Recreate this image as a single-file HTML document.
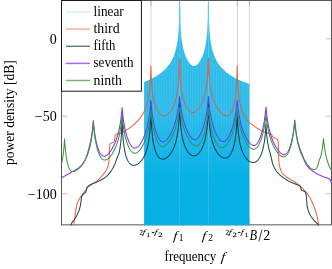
<!DOCTYPE html>
<html><head><meta charset="utf-8"><title>chart</title>
<style>
html,body{margin:0;padding:0;background:#fff;}
body{width:332px;height:269px;overflow:hidden;position:relative;font-family:"Liberation Serif",serif;color:#000;}
svg{position:absolute;left:0;top:0;will-change:transform;}
text{font-family:"Liberation Serif",serif;fill:#000;}
</style></head><body>
<svg width="332" height="269" viewBox="0 0 332 269">
<defs>
<clipPath id="plot"><rect x="61.5" y="0" width="270.5" height="225.4"/></clipPath>
<clipPath id="topred"><rect x="170" y="50" width="50" height="23"/></clipPath>
<clipPath id="band"><path d="M144.10,225.40 L144.10,82.01 L144.35,81.91 L144.60,81.81 L144.85,81.71 L145.10,81.61 L145.35,81.51 L145.60,81.41 L145.85,81.30 L146.10,81.20 L146.35,81.09 L146.60,80.99 L146.85,80.88 L147.10,80.77 L147.35,80.67 L147.60,80.56 L147.85,80.45 L148.10,80.33 L148.35,80.22 L148.60,80.11 L148.85,80.00 L149.10,79.88 L149.35,79.76 L149.60,79.65 L149.85,79.53 L150.10,79.41 L150.35,79.29 L150.60,79.17 L150.85,79.05 L151.10,78.92 L151.35,78.80 L151.60,78.67 L151.85,78.55 L152.10,78.42 L152.35,78.29 L152.60,78.16 L152.85,78.03 L153.10,77.89 L153.35,77.76 L153.60,77.62 L153.85,77.49 L154.10,77.35 L154.35,77.21 L154.60,77.07 L154.85,76.92 L155.10,76.78 L155.35,76.63 L155.60,76.49 L155.85,76.34 L156.10,76.19 L156.35,76.03 L156.60,75.88 L156.85,75.72 L157.10,75.57 L157.35,75.41 L157.60,75.24 L157.85,75.08 L158.10,74.91 L158.35,74.75 L158.60,74.58 L158.85,74.41 L159.10,74.23 L159.35,74.06 L159.60,73.88 L159.85,73.70 L160.10,73.51 L160.35,73.33 L160.60,73.14 L160.85,72.95 L161.10,72.76 L161.35,72.56 L161.60,72.36 L161.85,72.16 L162.10,71.96 L162.35,71.75 L162.60,71.54 L162.85,71.32 L163.10,71.11 L163.35,70.89 L163.60,70.66 L163.85,70.43 L164.10,70.20 L164.35,69.97 L164.60,69.73 L164.85,69.48 L165.10,69.23 L165.35,68.98 L165.60,68.72 L165.85,68.46 L166.10,68.19 L166.35,67.92 L166.60,67.65 L166.85,67.36 L167.10,67.07 L167.35,66.78 L167.60,66.48 L167.85,66.17 L168.10,65.86 L168.35,65.54 L168.60,65.21 L168.85,64.87 L169.10,64.53 L169.35,64.18 L169.60,63.81 L169.85,63.44 L170.10,63.06 L170.35,62.67 L170.60,62.27 L170.85,61.86 L171.10,61.43 L171.35,61.00 L171.60,60.54 L171.85,60.08 L172.10,59.60 L172.35,59.10 L172.60,58.59 L172.85,58.05 L173.10,57.50 L173.35,56.92 L173.60,56.32 L173.85,55.70 L174.10,55.05 L174.35,54.36 L174.60,53.65 L174.85,52.90 L175.10,52.10 L175.35,51.27 L175.60,50.38 L175.85,49.44 L176.10,48.43 L176.35,47.34 L176.60,46.18 L176.85,44.91 L177.10,43.52 L177.35,41.99 L177.60,40.28 L177.85,38.36 L178.10,36.14 L178.35,33.53 L178.60,30.36 L178.85,26.33 L179.10,20.77 L179.35,11.78 L179.60,-5.00 L179.65,-5.00 L179.85,5.76 L179.95,11.78 L180.10,17.79 L180.35,24.35 L180.60,28.88 L180.85,32.34 L181.10,35.15 L181.35,37.51 L181.60,39.54 L181.85,41.33 L182.10,42.93 L182.35,44.37 L182.60,45.68 L182.85,46.89 L183.10,48.00 L183.35,49.04 L183.60,50.00 L183.85,50.91 L184.10,51.77 L184.35,52.57 L184.60,53.34 L184.85,54.06 L185.10,54.75 L185.35,55.41 L185.60,56.04 L185.85,56.64 L186.10,57.21 L186.35,57.76 L186.60,58.29 L186.85,58.80 L187.10,59.29 L187.35,59.76 L187.60,60.21 L187.85,60.64 L188.10,61.05 L188.35,61.45 L188.60,61.83 L188.85,62.20 L189.10,62.55 L189.35,62.88 L189.60,63.20 L189.85,63.50 L190.10,63.79 L190.35,64.06 L190.60,64.32 L190.85,64.56 L191.10,64.78 L191.35,64.98 L191.60,65.17 L191.85,65.35 L192.10,65.50 L192.35,65.64 L192.60,65.75 L192.85,65.85 L193.10,65.94 L193.35,66.00 L193.60,66.04 L193.85,66.06 L194.10,66.07 L194.35,66.05 L194.60,66.02 L194.85,65.97 L195.10,65.90 L195.35,65.80 L195.60,65.70 L195.85,65.57 L196.10,65.42 L196.35,65.26 L196.60,65.08 L196.85,64.88 L197.10,64.66 L197.35,64.43 L197.60,64.19 L197.85,63.92 L198.10,63.64 L198.35,63.35 L198.60,63.04 L198.85,62.71 L199.10,62.37 L199.35,62.01 L199.60,61.64 L199.85,61.24 L200.10,60.84 L200.35,60.41 L200.60,59.97 L200.85,59.51 L201.10,59.04 L201.35,58.54 L201.60,58.02 L201.85,57.48 L202.10,56.92 L202.35,56.33 L202.60,55.71 L202.85,55.07 L203.10,54.40 L203.35,53.69 L203.60,52.94 L203.85,52.16 L204.10,51.33 L204.35,50.45 L204.60,49.51 L204.85,48.51 L205.10,47.43 L205.35,46.27 L205.60,45.01 L205.85,43.64 L206.10,42.12 L206.35,40.43 L206.60,38.52 L206.85,36.33 L207.10,33.75 L207.35,30.64 L207.60,26.69 L207.85,21.30 L208.10,12.74 L208.12,11.78 L208.35,-5.00 L208.42,-5.00 L208.60,4.20 L208.72,11.78 L208.85,17.12 L209.10,23.92 L209.35,28.56 L209.60,32.09 L209.85,34.94 L210.10,37.33 L210.35,39.39 L210.60,41.20 L210.85,42.81 L211.10,44.26 L211.35,45.58 L211.60,46.80 L211.85,47.92 L212.10,48.96 L212.35,49.93 L212.60,50.85 L212.85,51.71 L213.10,52.52 L213.35,53.29 L213.60,54.03 L213.85,54.72 L214.10,55.39 L214.35,56.03 L214.60,56.64 L214.85,57.22 L215.10,57.79 L215.35,58.33 L215.60,58.86 L215.85,59.36 L216.10,59.85 L216.35,60.32 L216.60,60.78 L216.85,61.23 L217.10,61.66 L217.35,62.07 L217.60,62.48 L217.85,62.88 L218.10,63.26 L218.35,63.64 L218.60,64.00 L218.85,64.36 L219.10,64.71 L219.35,65.05 L219.60,65.38 L219.85,65.70 L220.10,66.02 L220.35,66.33 L220.60,66.64 L220.85,66.93 L221.10,67.22 L221.35,67.51 L221.60,67.79 L221.85,68.06 L222.10,68.33 L222.35,68.60 L222.60,68.86 L222.85,69.11 L223.10,69.36 L223.35,69.61 L223.60,69.85 L223.85,70.09 L224.10,70.32 L224.35,70.55 L224.60,70.78 L224.85,71.00 L225.10,71.22 L225.35,71.44 L225.60,71.65 L225.85,71.86 L226.10,72.06 L226.35,72.27 L226.60,72.47 L226.85,72.66 L227.10,72.86 L227.35,73.05 L227.60,73.24 L227.85,73.43 L228.10,73.61 L228.35,73.79 L228.60,73.97 L228.85,74.15 L229.10,74.32 L229.35,74.50 L229.60,74.67 L229.85,74.83 L230.10,75.00 L230.35,75.17 L230.60,75.33 L230.85,75.49 L231.10,75.65 L231.35,75.80 L231.60,75.96 L231.85,76.11 L232.10,76.26 L232.35,76.41 L232.60,76.56 L232.85,76.71 L233.10,76.85 L233.35,77.00 L233.60,77.14 L233.85,77.28 L234.10,77.42 L234.35,77.56 L234.60,77.69 L234.85,77.83 L235.10,77.96 L235.35,78.10 L235.60,78.23 L235.85,78.36 L236.10,78.49 L236.35,78.61 L236.60,78.74 L236.85,78.86 L237.10,78.99 L237.35,79.11 L237.60,79.23 L237.85,79.35 L238.10,79.47 L238.35,79.59 L238.60,79.71 L238.85,79.82 L239.10,79.94 L239.35,80.05 L239.60,80.17 L239.85,80.28 L240.10,80.39 L240.35,80.50 L240.60,80.61 L240.85,80.72 L241.10,80.83 L241.35,80.94 L241.60,81.04 L241.85,81.15 L242.10,81.25 L242.35,81.36 L242.60,81.46 L242.85,81.56 L243.10,81.66 L243.35,81.76 L243.60,81.86 L243.85,81.96 L244.10,82.06 L244.35,82.16 L244.60,82.26 L244.85,82.35 L245.10,82.45 L245.35,82.54 L245.60,82.64 L245.85,82.73 L246.10,82.83 L246.35,82.92 L246.60,83.01 L246.85,83.10 L247.10,83.19 L247.35,83.28 L247.60,83.37 L247.85,83.46 L248.10,83.55 L248.35,83.64 L248.60,83.72 L248.85,83.81 L249.10,83.89 L249.30,83.96 L249.30,225.40 Z"/></clipPath>
<pattern id="stripes" width="2.6" height="10" patternUnits="userSpaceOnUse"><rect x="0" y="0" width="1.0" height="10" fill="#ffffff" opacity="0.10"/></pattern>
<pattern id="stripes2" width="1.7" height="10" patternUnits="userSpaceOnUse"><rect x="0.3" y="0" width="0.6" height="10" fill="#ffffff" opacity="0.07"/></pattern>
<linearGradient id="cyg" x1="0" y1="0" x2="0" y2="225" gradientUnits="userSpaceOnUse"><stop offset="0" stop-color="#2abbea"/><stop offset="0.5" stop-color="#26b9e9"/><stop offset="0.78" stop-color="#08b1e6"/><stop offset="1" stop-color="#04b0e6"/></linearGradient>
<linearGradient id="fade" x1="0" y1="0" x2="0" y2="1" gradientUnits="objectBoundingBox"><stop offset="0" stop-color="#fff" stop-opacity="1"/><stop offset="0.42" stop-color="#fff" stop-opacity="0.9"/><stop offset="0.68" stop-color="#fff" stop-opacity="0"/></linearGradient>
<mask id="fademask"><rect x="0" y="0" width="332" height="269" fill="url(#fade)"/></mask>
</defs>
<rect x="0" y="0" width="332" height="269" fill="#fff"/>
<!-- vertical guide lines -->
<g stroke="#d6d6d6" stroke-width="1.0">
<line x1="151.0" y1="0" x2="151.0" y2="224.6"/>
<line x1="179.65" y1="0" x2="179.65" y2="224.6"/>
<line x1="208.45" y1="0" x2="208.45" y2="224.6"/>
<line x1="237.35" y1="0" x2="237.35" y2="224.6"/>
<line x1="249.45" y1="0" x2="249.45" y2="224.6"/>
</g>
<g stroke="#b4b4b4" stroke-width="1.0">
<line x1="151.0" y1="0.5" x2="151.0" y2="6"/><line x1="151.0" y1="219" x2="151.0" y2="224.8"/>
<line x1="179.65" y1="0.5" x2="179.65" y2="6"/><line x1="179.65" y1="219" x2="179.65" y2="224.8"/>
<line x1="208.45" y1="0.5" x2="208.45" y2="6"/><line x1="208.45" y1="219" x2="208.45" y2="224.8"/>
<line x1="237.35" y1="0.5" x2="237.35" y2="6"/><line x1="237.35" y1="219" x2="237.35" y2="224.8"/>
<line x1="249.45" y1="0.5" x2="249.45" y2="6"/><line x1="249.45" y1="219" x2="249.45" y2="224.8"/>
</g>
<g stroke="#6ccbf0" stroke-width="1.4">
<line x1="179.65" y1="6" x2="179.65" y2="40"/><line x1="208.45" y1="6" x2="208.45" y2="40"/>
</g>
<!-- axes box -->
<rect x="61.5" y="0.5" width="270" height="224.35" fill="none" stroke="#444" stroke-width="0.9"/>
<!-- ticks -->
<g stroke="#9a9a9a" stroke-width="0.6">
<line x1="61.5" y1="38.75" x2="67.5" y2="38.75"/><line x1="61.5" y1="116.25" x2="67.5" y2="116.25"/><line x1="61.5" y1="193.75" x2="67.5" y2="193.75"/>
<line x1="331.5" y1="38.75" x2="325.5" y2="38.75"/><line x1="331.5" y1="116.25" x2="325.5" y2="116.25"/><line x1="331.5" y1="193.75" x2="325.5" y2="193.75"/>
</g>
<g clip-path="url(#plot)" fill="none" stroke-linejoin="round" stroke-linecap="round">
<g stroke-width="1.05">
<path d="M73.00,232.00 L73.25,229.25 L73.50,226.72 L73.75,224.50 L74.00,222.62 L74.25,220.96 L74.50,219.41 L74.75,217.87 L75.00,216.25 L75.25,214.43 L75.50,212.47 L75.75,210.56 L76.00,208.84 L76.25,207.50 L76.50,206.45 L76.75,205.48 L77.00,204.59 L77.25,203.77 L77.50,203.02 L77.75,202.33 L78.00,201.69 L78.25,201.09 L78.50,200.53 L78.75,200.00 L79.00,199.50 L79.25,199.04 L79.50,198.60 L79.75,198.19 L80.00,197.80 L80.25,197.42 L80.50,197.06 L80.75,196.72 L81.00,196.37 L81.25,196.03 L81.50,195.70 L81.75,195.35 L82.00,195.00 L82.25,194.65 L82.50,194.30 L82.75,193.95 L83.00,193.61 L83.25,193.27 L83.50,192.94 L83.75,192.61 L84.00,192.28 L84.25,191.96 L84.50,191.64 L84.75,191.32 L85.00,191.00 L85.25,190.68 L85.50,190.36 L85.75,190.03 L86.00,189.71 L86.25,189.38 L86.50,189.06 L86.75,188.74 L87.00,188.43 L87.25,188.12 L87.50,187.82 L87.75,187.53 L88.00,187.25 L88.25,186.99 L88.50,186.74 L88.75,186.50 L89.00,186.28 L89.25,186.06 L89.50,185.86 L89.75,185.66 L90.00,185.47 L90.25,185.29 L90.50,185.11 L90.75,184.94 L91.00,184.76 L91.25,184.59 L91.50,184.43 L91.75,184.26 L92.00,184.09 L92.25,183.92 L92.50,183.75 L92.75,183.58 L93.00,183.42 L93.25,183.25 L93.50,183.10 L93.75,182.94 L94.00,182.79 L94.25,182.64 L94.50,182.49 L94.75,182.35 L95.00,182.20 L95.25,182.04 L95.50,181.89 L95.75,181.74 L96.00,181.58 L96.25,181.41 L96.50,181.24 L96.75,181.07 L97.00,180.89 L97.25,180.70 L97.50,180.50 L97.75,180.30 L98.00,180.09 L98.25,179.87 L98.50,179.65 L98.75,179.42 L99.00,179.19 L99.25,178.95 L99.50,178.71 L99.75,178.46 L100.00,178.20 L100.25,177.94 L100.50,177.67 L100.75,177.40 L101.00,177.13 L101.25,176.84 L101.50,176.56 L101.75,176.27 L102.00,175.97 L102.25,175.67 L102.50,175.36 L102.75,175.05 L103.00,174.73 L103.25,174.41 L103.50,174.08 L103.75,173.75 L104.00,173.42 L104.25,173.09 L104.50,172.77 L104.75,172.44 L105.00,172.10 L105.25,171.75 L105.50,171.39 L105.75,171.01 L106.00,170.61 L106.25,170.18 L106.50,169.72 L106.75,169.22 L107.00,168.69 L107.25,168.12 L107.50,167.50 L107.75,166.86 L108.00,166.17 L108.25,165.34 L108.50,164.26 L108.75,162.84 L109.00,161.00 L109.25,155.90 L109.50,149.25 L109.75,144.83 L110.00,144.16 L110.25,143.75 L110.50,143.50 L110.75,143.30 L111.00,143.11 L111.25,142.96 L111.50,142.84 L111.75,142.74 L112.00,142.66 L112.25,142.58 L112.50,142.50 L112.75,142.41 L113.00,142.30 L113.25,142.17 L113.50,142.01 L113.75,141.80 L114.00,141.48 L114.25,140.98 L114.50,140.31 L114.75,139.21 L115.00,137.19 L115.25,135.62 L115.50,135.20 L115.75,134.89 L116.00,134.63 L116.25,134.42 L116.50,134.25 L116.75,134.11 L117.00,133.99 L117.25,133.89 L117.50,133.80 L117.75,133.71 L118.00,133.64 L118.25,133.58 L118.50,133.52 L118.75,133.47 L119.00,133.42 L119.25,133.38 L119.50,133.32 L119.75,133.27 L120.00,133.20 L120.25,133.13 L120.50,133.05 L120.75,132.97 L121.00,132.89 L121.25,132.81 L121.50,132.72 L121.75,132.62 L122.00,132.52 L122.25,132.42 L122.50,132.31 L122.75,132.19 L123.00,132.07 L123.25,131.94 L123.50,131.80 L123.75,131.65 L124.00,131.50 L124.25,131.35 L124.50,131.19 L124.75,131.03 L125.00,130.87 L125.25,130.71 L125.50,130.54 L125.75,130.38 L126.00,130.21 L126.25,130.05 L126.50,129.89 L126.75,129.73 L127.00,129.58 L127.25,129.42 L127.50,129.27 L127.75,129.11 L128.00,128.96 L128.25,128.80 L128.50,128.64 L128.75,128.49 L129.00,128.33 L129.25,128.17 L129.50,128.01 L129.75,127.84 L130.00,127.68 L130.25,127.51 L130.50,127.34 L130.75,127.16 L131.00,126.98 L131.25,126.80 L131.50,126.61 L131.75,126.42 L132.00,126.23 L132.25,126.04 L132.50,125.84 L132.75,125.63 L133.00,125.43 L133.25,125.22 L133.50,125.01 L133.75,124.79 L134.00,124.58 L134.25,124.35 L134.50,124.13 L134.75,123.90 L135.00,123.67 L135.25,123.43 L135.50,123.19 L135.75,122.95 L136.00,122.71 L136.25,122.46 L136.50,122.21 L136.75,121.95 L137.00,121.70 L137.25,121.43 L137.50,121.17 L137.75,120.88 L138.00,120.58 L138.25,120.29 L138.50,119.99 L138.75,119.69 L139.00,119.38 L139.25,119.07 L139.50,118.75 L139.75,118.43 L140.00,118.11 L140.25,117.78 L140.50,117.44 L140.75,117.09 L141.00,116.74 L141.25,116.38 L141.50,116.02 L141.75,115.65 L142.00,115.28 L142.25,114.90 L142.50,114.51 L142.75,114.09 L143.00,113.66 L143.25,113.22 L143.50,112.76 L143.75,112.29 L144.00,111.79 L144.25,111.28 L144.50,110.75 L144.75,110.19 L145.00,109.62 L145.25,109.01 L145.50,108.38 L145.75,107.72 L146.00,107.03 L146.25,106.30 L146.50,105.53 L146.75,104.72 L147.00,103.86 L147.25,102.94 L147.50,101.96 L147.75,100.92 L148.00,99.79 L148.25,98.57 L148.50,97.24 L148.75,95.78 L149.00,94.16 L149.25,92.35 L149.50,90.29 L149.75,87.91 L150.00,85.09 L150.25,81.62 L150.50,77.12 L150.75,70.74 L150.76,70.42 L150.88,65.95 L151.00,70.42 L151.25,76.91 L151.50,81.46 L151.75,84.96 L152.00,87.80 L152.25,90.20 L152.50,92.27 L152.75,94.08 L153.00,95.70 L153.25,97.16 L153.50,98.49 L153.75,99.70 L154.00,100.82 L154.25,101.85 L154.50,102.82 L154.75,103.72 L155.00,104.56 L155.25,105.34 L155.50,106.09 L155.75,106.78 L156.00,107.44 L156.25,108.06 L156.50,108.65 L156.75,109.20 L157.00,109.73 L157.25,110.22 L157.50,110.69 L157.75,111.13 L158.00,111.55 L158.25,111.95 L158.50,112.32 L158.75,112.67 L159.00,113.00 L159.25,113.31 L159.50,113.59 L159.75,113.86 L160.00,114.11 L160.25,114.34 L160.50,114.56 L160.75,114.76 L161.00,114.94 L161.25,115.10 L161.50,115.24 L161.75,115.38 L162.00,115.49 L162.25,115.59 L162.50,115.67 L162.75,115.74 L163.00,115.80 L163.25,115.84 L163.50,115.86 L163.75,115.88 L164.00,115.88 L164.25,115.86 L164.50,115.83 L164.75,115.79 L165.00,115.74 L165.25,115.67 L165.50,115.59 L165.75,115.50 L166.00,115.40 L166.25,115.28 L166.50,115.15 L166.75,115.01 L167.00,114.86 L167.25,114.69 L167.50,114.52 L167.75,114.33 L168.00,114.13 L168.25,113.92 L168.50,113.69 L168.75,113.46 L169.00,113.21 L169.25,112.95 L169.50,112.67 L169.75,112.39 L170.00,112.09 L170.25,111.77 L170.50,111.45 L170.75,111.11 L171.00,110.75 L171.25,110.38 L171.50,109.99 L171.75,109.59 L172.00,109.17 L172.25,108.73 L172.50,108.27 L172.75,107.80 L173.00,107.30 L173.25,106.78 L173.50,106.24 L173.75,105.67 L174.00,105.07 L174.25,104.44 L174.50,103.79 L174.75,103.09 L175.00,102.37 L175.25,101.59 L175.50,100.78 L175.75,99.91 L176.00,98.99 L176.25,98.00 L176.50,96.94 L176.75,95.80 L177.00,94.56 L177.25,93.20 L177.50,91.72 L177.75,90.06 L178.00,88.21 L178.25,86.09 L178.50,83.63 L178.75,80.69 L179.00,77.05 L179.25,72.27 L179.50,65.27 L179.53,64.17 L179.65,58.75 L179.75,63.39 L179.77,64.17 L180.00,71.10 L180.25,76.21 L180.50,80.03 L180.75,83.08 L181.00,85.62 L181.25,87.80 L181.50,89.70 L181.75,91.39 L182.00,92.91 L182.25,94.28 L182.50,95.53 L182.75,96.69 L183.00,97.76 L183.25,98.75 L183.50,99.67 L183.75,100.54 L184.00,101.35 L184.25,102.11 L184.50,102.83 L184.75,103.51 L185.00,104.15 L185.25,104.75 L185.50,105.33 L185.75,105.87 L186.00,106.38 L186.25,106.87 L186.50,107.33 L186.75,107.77 L187.00,108.18 L187.25,108.57 L187.50,108.94 L187.75,109.28 L188.00,109.61 L188.25,109.92 L188.50,110.21 L188.75,110.47 L189.00,110.72 L189.25,110.96 L189.50,111.17 L189.75,111.37 L190.00,111.55 L190.25,111.71 L190.50,111.86 L190.75,111.99 L191.00,112.11 L191.25,112.21 L191.50,112.29 L191.75,112.36 L192.00,112.41 L192.25,112.45 L192.50,112.48 L192.75,112.49 L193.00,112.48 L193.25,112.46 L193.50,112.43 L193.75,112.39 L194.00,112.32 L194.25,112.25 L194.50,112.16 L194.75,112.06 L195.00,111.95 L195.25,111.82 L195.50,111.69 L195.75,111.53 L196.00,111.37 L196.25,111.19 L196.50,111.00 L196.75,110.80 L197.00,110.58 L197.25,110.35 L197.50,110.11 L197.75,109.86 L198.00,109.59 L198.25,109.31 L198.50,109.02 L198.75,108.71 L199.00,108.39 L199.25,108.06 L199.50,107.71 L199.75,107.35 L200.00,106.97 L200.25,106.57 L200.50,106.16 L200.75,105.74 L201.00,105.29 L201.25,104.83 L201.50,104.34 L201.75,103.84 L202.00,103.32 L202.25,102.77 L202.50,102.19 L202.75,101.60 L203.00,100.97 L203.25,100.31 L203.50,99.62 L203.75,98.89 L204.00,98.13 L204.25,97.32 L204.50,96.46 L204.75,95.55 L205.00,94.58 L205.25,93.54 L205.50,92.42 L205.75,91.22 L206.00,89.90 L206.25,88.47 L206.50,86.88 L206.75,85.10 L207.00,83.10 L207.25,80.78 L207.50,78.06 L207.75,74.74 L208.00,70.50 L208.25,64.62 L208.30,63.11 L208.42,58.75 L208.50,61.79 L208.54,63.11 L208.75,68.63 L209.00,73.34 L209.25,76.94 L209.50,79.86 L209.75,82.30 L210.00,84.41 L210.25,86.26 L210.50,87.92 L210.75,89.41 L211.00,90.76 L211.25,92.01 L211.50,93.16 L211.75,94.23 L212.00,95.23 L212.25,96.16 L212.50,97.04 L212.75,97.87 L213.00,98.66 L213.25,99.41 L213.50,100.12 L213.75,100.80 L214.00,101.45 L214.25,102.07 L214.50,102.66 L214.75,103.23 L215.00,103.78 L215.25,104.31 L215.50,104.82 L215.75,105.31 L216.00,105.78 L216.25,106.24 L216.50,106.68 L216.75,107.10 L217.00,107.52 L217.25,107.92 L217.50,108.31 L217.75,108.68 L218.00,109.05 L218.25,109.40 L218.50,109.74 L218.75,110.07 L219.00,110.39 L219.25,110.71 L219.50,111.01 L219.75,111.30 L220.00,111.59 L220.25,111.86 L220.50,112.13 L220.75,112.39 L221.00,112.63 L221.25,112.87 L221.50,113.11 L221.75,113.33 L222.00,113.54 L222.25,113.75 L222.50,113.95 L222.75,114.13 L223.00,114.31 L223.25,114.48 L223.50,114.64 L223.75,114.80 L224.00,114.94 L224.25,115.07 L224.50,115.19 L224.75,115.30 L225.00,115.40 L225.25,115.49 L225.50,115.57 L225.75,115.63 L226.00,115.68 L226.25,115.72 L226.50,115.75 L226.75,115.76 L227.00,115.75 L227.25,115.73 L227.50,115.70 L227.75,115.64 L228.00,115.57 L228.25,115.48 L228.50,115.37 L228.75,115.24 L229.00,115.09 L229.25,114.91 L229.50,114.71 L229.75,114.49 L230.00,114.24 L230.25,113.96 L230.50,113.65 L230.75,113.31 L231.00,112.94 L231.25,112.54 L231.50,112.10 L231.75,111.62 L232.00,111.10 L232.25,110.54 L232.50,109.94 L232.75,109.28 L233.00,108.57 L233.25,107.80 L233.50,106.96 L233.75,106.05 L234.00,105.07 L234.25,103.99 L234.50,102.82 L234.75,101.52 L235.00,100.08 L235.25,98.48 L235.50,96.67 L235.75,94.60 L236.00,92.19 L236.25,89.32 L236.50,85.76 L236.75,81.11 L237.00,74.38 L237.07,71.81 L237.19,66.07 L237.25,69.21 L237.31,71.81 L237.50,77.98 L237.75,83.52 L238.00,87.58 L238.25,90.77 L238.50,93.41 L238.75,95.65 L239.00,97.60 L239.25,99.32 L239.50,100.86 L239.75,102.24 L240.00,103.51 L240.25,104.67 L240.50,105.74 L240.75,106.73 L241.00,107.66 L241.25,108.52 L241.50,109.33 L241.75,110.10 L242.00,110.82 L242.25,111.50 L242.50,112.14 L242.75,112.75 L243.00,113.34 L243.25,113.89 L243.50,114.42 L243.75,114.93 L244.00,115.41 L244.25,115.88 L244.50,116.32 L244.75,116.75 L245.00,117.16 L245.25,117.56 L245.50,117.94 L245.75,118.31 L246.00,118.67 L246.25,119.01 L246.50,119.34 L246.75,119.66 L247.00,119.98 L247.25,120.28 L247.50,120.57 L247.75,120.86 L248.00,121.13 L248.25,121.40 L248.50,121.66 L248.75,121.92 L249.00,122.16 L249.25,122.41 L249.50,122.64 L249.75,122.82 L250.00,122.99 L250.25,123.17 L250.50,123.34 L250.75,123.51 L251.00,123.68 L251.25,123.85 L251.50,124.02 L251.75,124.19 L252.00,124.36 L252.25,124.53 L252.50,124.71 L252.75,124.89 L253.00,125.07 L253.25,125.25 L253.50,125.43 L253.75,125.62 L254.00,125.82 L254.25,126.01 L254.50,126.21 L254.75,126.42 L255.00,126.63 L255.25,126.83 L255.50,127.03 L255.75,127.22 L256.00,127.40 L256.25,127.58 L256.50,127.75 L256.75,127.92 L257.00,128.09 L257.25,128.26 L257.50,128.42 L257.75,128.59 L258.00,128.75 L258.25,128.91 L258.50,129.07 L258.75,129.22 L259.00,129.37 L259.25,129.52 L259.50,129.67 L259.75,129.81 L260.00,129.96 L260.25,130.10 L260.50,130.23 L260.75,130.37 L261.00,130.50 L261.25,130.63 L261.50,130.76 L261.75,130.88 L262.00,131.00 L262.25,131.12 L262.50,131.23 L262.75,131.35 L263.00,131.46 L263.25,131.57 L263.50,131.68 L263.75,131.79 L264.00,131.89 L264.25,131.99 L264.50,132.09 L264.75,132.18 L265.00,132.27 L265.25,132.35 L265.50,132.44 L265.75,132.52 L266.00,132.59 L266.25,132.66 L266.50,132.72 L266.75,132.78 L267.00,132.84 L267.25,132.90 L267.50,132.95 L267.75,133.01 L268.00,133.06 L268.25,133.12 L268.50,133.18 L268.75,133.25 L269.00,133.31 L269.25,133.38 L269.50,133.46 L269.75,133.52 L270.00,133.58 L270.25,133.64 L270.50,133.70 L270.75,133.78 L271.00,133.88 L271.25,134.00 L271.50,134.15 L271.75,134.36 L272.00,135.14 L272.25,136.00 L272.50,136.39 L272.75,136.68 L273.00,136.92 L273.25,137.12 L273.50,137.30 L273.75,137.46 L274.00,137.61 L274.25,137.73 L274.50,137.85 L274.75,137.95 L275.00,138.05 L275.25,138.14 L275.50,138.23 L275.75,138.33 L276.00,138.44 L276.25,138.56 L276.50,138.69 L276.75,138.85 L277.00,139.02 L277.25,139.22 L277.50,139.43 L277.75,139.76 L278.00,140.30 L278.25,142.95 L278.50,150.50 L278.75,158.03 L279.00,161.54 L279.25,163.75 L279.50,165.35 L279.75,166.63 L280.00,167.67 L280.25,168.53 L280.50,169.30 L280.75,169.99 L281.00,170.62 L281.25,171.19 L281.50,171.71 L281.75,172.18 L282.00,172.61 L282.25,173.00 L282.50,173.36 L282.75,173.68 L283.00,173.99 L283.25,174.27 L283.50,174.53 L283.75,174.77 L284.00,175.00 L284.25,175.22 L284.50,175.43 L284.75,175.64 L285.00,175.84 L285.25,176.03 L285.50,176.22 L285.75,176.40 L286.00,176.57 L286.25,176.74 L286.50,176.91 L286.75,177.07 L287.00,177.24 L287.25,177.40 L287.50,177.55 L287.75,177.71 L288.00,177.87 L288.25,178.02 L288.50,178.18 L288.75,178.34 L289.00,178.50 L289.25,178.66 L289.50,178.82 L289.75,178.97 L290.00,179.12 L290.25,179.27 L290.50,179.42 L290.75,179.57 L291.00,179.71 L291.25,179.86 L291.50,180.00 L291.75,180.14 L292.00,180.29 L292.25,180.43 L292.50,180.58 L292.75,180.73 L293.00,180.88 L293.25,181.03 L293.50,181.18 L293.75,181.34 L294.00,181.50 L294.25,181.66 L294.50,181.82 L294.75,181.98 L295.00,182.15 L295.25,182.31 L295.50,182.47 L295.75,182.64 L296.00,182.80 L296.25,182.97 L296.50,183.14 L296.75,183.31 L297.00,183.49 L297.25,183.66 L297.50,183.84 L297.75,184.03 L298.00,184.21 L298.25,184.40 L298.50,184.60 L298.75,184.80 L299.00,185.00 L299.25,185.21 L299.50,185.42 L299.75,185.64 L300.00,185.87 L300.25,186.10 L300.50,186.34 L300.75,186.58 L301.00,186.82 L301.25,187.07 L301.50,187.32 L301.75,187.58 L302.00,187.84 L302.25,188.10 L302.50,188.36 L302.75,188.63 L303.00,188.90 L303.25,189.17 L303.50,189.45 L303.75,189.72 L304.00,190.00 L304.25,190.28 L304.50,190.55 L304.75,190.83 L305.00,191.11 L305.25,191.39 L305.50,191.68 L305.75,191.96 L306.00,192.25 L306.25,192.55 L306.50,192.85 L306.75,193.15 L307.00,193.46 L307.25,193.78 L307.50,194.11 L307.75,194.44 L308.00,194.78 L308.25,195.13 L308.50,195.49 L308.75,195.87 L309.00,196.25 L309.25,196.65 L309.50,197.07 L309.75,197.51 L310.00,197.96 L310.25,198.44 L310.50,198.92 L310.75,199.42 L311.00,199.94 L311.25,200.46 L311.50,200.99 L311.75,201.53 L312.00,202.08 L312.25,202.63 L312.50,203.19 L312.75,203.75 L313.00,204.31 L313.25,204.88 L313.50,205.45 L313.75,206.04 L314.00,206.65 L314.25,207.27 L314.50,207.91 L314.75,208.58 L315.00,209.27 L315.25,210.00 L315.50,210.76 L315.75,211.57 L316.00,212.42 L316.25,213.31 L316.50,214.25 L316.75,215.23 L317.00,216.25 L317.25,217.31 L317.50,218.42 L317.75,219.60 L318.00,220.86 L318.25,222.24 L318.50,223.75 L318.75,225.48 L319.00,227.47 L319.25,229.66 L319.50,232.00" stroke="#f5613c"/>
<path d="M70.50,232.00 L70.75,228.96 L71.00,226.16 L71.25,224.50 L71.50,223.76 L71.75,223.13 L72.00,222.59 L72.25,222.12 L72.50,221.73 L72.75,221.39 L73.00,221.09 L73.25,220.82 L73.50,220.57 L73.75,220.32 L74.00,220.07 L74.25,219.80 L74.50,219.50 L74.75,219.15 L75.00,218.75 L75.25,218.32 L75.50,217.89 L75.75,217.46 L76.00,217.02 L76.25,216.58 L76.50,216.13 L76.75,215.67 L77.00,215.19 L77.25,214.70 L77.50,214.19 L77.75,213.65 L78.00,213.10 L78.25,212.51 L78.50,211.90 L78.75,211.25 L79.00,210.56 L79.25,209.82 L79.50,209.02 L79.75,208.14 L80.00,207.18 L80.25,206.14 L80.50,205.00 L80.75,203.45 L81.00,201.44 L81.25,199.35 L81.50,197.58 L81.75,196.50 L82.00,195.95 L82.25,195.49 L82.50,195.11 L82.75,194.79 L83.00,194.51 L83.25,194.25 L83.50,194.01 L83.75,193.75 L84.00,193.51 L84.25,193.31 L84.50,193.14 L84.75,192.98 L85.00,192.80 L85.25,192.59 L85.50,192.33 L85.75,192.00 L86.00,191.35 L86.25,190.33 L86.50,189.17 L86.75,188.15 L87.00,187.50 L87.25,187.15 L87.50,186.84 L87.75,186.57 L88.00,186.33 L88.25,186.11 L88.50,185.92 L88.75,185.74 L89.00,185.58 L89.25,185.43 L89.50,185.29 L89.75,185.15 L90.00,185.00 L90.25,184.85 L90.50,184.71 L90.75,184.58 L91.00,184.45 L91.25,184.33 L91.50,184.21 L91.75,184.09 L92.00,183.98 L92.25,183.87 L92.50,183.77 L92.75,183.66 L93.00,183.56 L93.25,183.47 L93.50,183.37 L93.75,183.28 L94.00,183.18 L94.25,183.09 L94.50,182.99 L94.75,182.90 L95.00,182.81 L95.25,182.71 L95.50,182.61 L95.75,182.52 L96.00,182.42 L96.25,182.31 L96.50,182.21 L96.75,182.10 L97.00,181.99 L97.25,181.87 L97.50,181.75 L97.75,181.63 L98.00,181.50 L98.25,181.38 L98.50,181.26 L98.75,181.14 L99.00,181.01 L99.25,180.89 L99.50,180.76 L99.75,180.64 L100.00,180.51 L100.25,180.38 L100.50,180.25 L100.75,180.12 L101.00,179.99 L101.25,179.86 L101.50,179.72 L101.75,179.58 L102.00,179.44 L102.25,179.29 L102.50,179.15 L102.75,179.00 L103.00,178.85 L103.25,178.69 L103.50,178.53 L103.75,178.37 L104.00,178.20 L104.25,178.03 L104.50,177.86 L104.75,177.68 L105.00,177.50 L105.25,177.31 L105.50,177.12 L105.75,176.92 L106.00,176.71 L106.25,176.50 L106.50,176.28 L106.75,176.05 L107.00,175.82 L107.25,175.58 L107.50,175.33 L107.75,175.08 L108.00,174.82 L108.25,174.56 L108.50,174.28 L108.75,174.00 L109.00,173.72 L109.25,173.42 L109.50,173.12 L109.75,172.81 L110.00,172.50 L110.25,172.18 L110.50,171.85 L110.75,171.51 L111.00,171.16 L111.25,170.80 L111.50,170.43 L111.75,170.05 L112.00,169.66 L112.25,169.25 L112.50,168.84 L112.75,168.40 L113.00,167.95 L113.25,167.49 L113.50,167.01 L113.75,166.51 L114.00,166.00 L114.25,165.47 L114.50,164.91 L114.75,164.34 L115.00,163.75 L115.25,163.12 L115.50,162.44 L115.75,161.70 L116.00,160.92 L116.25,160.22 L116.50,159.53 L116.75,158.85 L117.00,158.20 L117.25,157.56 L117.50,156.94 L117.75,156.34 L118.00,155.75 L118.25,155.16 L118.50,154.56 L118.75,153.94 L119.00,153.26 L119.25,152.15 L119.50,150.93 L119.75,149.60 L120.00,148.13 L120.25,146.48 L120.50,144.62 L120.75,142.49 L121.00,140.00 L121.25,136.99 L121.50,133.20 L121.75,128.12 L121.99,120.76 L122.00,120.36 L122.11,115.04 L122.23,120.76 L122.25,121.53 L122.50,128.83 L122.75,133.71 L123.00,137.38 L123.25,140.31 L123.50,142.76 L123.75,144.84 L124.00,146.66 L124.25,148.28 L124.50,149.72 L124.75,151.02 L125.00,152.20 L125.25,153.28 L125.50,154.27 L125.75,155.19 L126.00,156.03 L126.25,156.82 L126.50,157.54 L126.75,158.22 L127.00,158.85 L127.25,159.44 L127.50,159.98 L127.75,160.49 L128.00,160.96 L128.25,161.40 L128.50,161.81 L128.75,162.19 L129.00,162.54 L129.25,162.86 L129.50,163.16 L129.75,163.44 L130.00,163.69 L130.25,163.93 L130.50,164.14 L130.75,164.33 L131.00,164.50 L131.25,164.65 L131.50,164.79 L131.75,164.91 L132.00,165.01 L132.25,165.10 L132.50,165.17 L132.75,165.23 L133.00,165.28 L133.25,165.31 L133.50,165.33 L133.75,165.34 L134.00,165.33 L134.25,165.31 L134.50,165.28 L134.75,165.24 L135.00,165.19 L135.25,165.13 L135.50,165.06 L135.75,164.98 L136.00,164.89 L136.25,164.79 L136.50,164.68 L136.75,164.56 L137.00,164.43 L137.25,164.29 L137.50,164.14 L137.75,163.99 L138.00,163.82 L138.25,163.65 L138.50,163.46 L138.75,163.27 L139.00,163.07 L139.25,162.86 L139.50,162.63 L139.75,162.40 L140.00,162.16 L140.25,161.91 L140.50,161.65 L140.75,161.38 L141.00,161.09 L141.25,160.80 L141.50,160.49 L141.75,160.17 L142.00,159.84 L142.25,159.49 L142.50,159.13 L142.75,158.76 L143.00,158.37 L143.25,157.96 L143.50,157.53 L143.75,157.09 L144.00,156.63 L144.25,156.15 L144.50,155.64 L144.75,155.12 L145.00,154.56 L145.25,153.98 L145.50,153.37 L145.75,152.73 L146.00,152.05 L146.25,151.33 L146.50,150.57 L146.75,149.77 L147.00,148.91 L147.25,147.99 L147.50,147.00 L147.75,145.94 L148.00,144.79 L148.25,143.54 L148.50,142.16 L148.75,140.64 L149.00,138.94 L149.25,137.01 L149.50,134.79 L149.75,132.17 L150.00,128.99 L150.25,124.94 L150.50,119.36 L150.75,110.37 L150.76,109.87 L150.88,102.00 L151.00,109.87 L151.25,119.09 L151.50,124.75 L151.75,128.85 L152.00,132.05 L152.25,134.69 L152.50,136.92 L152.75,138.85 L153.00,140.55 L153.25,142.07 L153.50,143.44 L153.75,144.68 L154.00,145.82 L154.25,146.86 L154.50,147.83 L154.75,148.72 L155.00,149.55 L155.25,150.32 L155.50,151.05 L155.75,151.72 L156.00,152.35 L156.25,152.94 L156.50,153.49 L156.75,154.00 L157.00,154.49 L157.25,154.94 L157.50,155.36 L157.75,155.75 L158.00,156.12 L158.25,156.46 L158.50,156.77 L158.75,157.07 L159.00,157.34 L159.25,157.58 L159.50,157.81 L159.75,158.02 L160.00,158.20 L160.25,158.37 L160.50,158.52 L160.75,158.65 L161.00,158.77 L161.25,158.87 L161.50,158.95 L161.75,159.01 L162.00,159.06 L162.25,159.10 L162.50,159.12 L162.75,159.13 L163.00,159.12 L163.25,159.10 L163.50,159.07 L163.75,159.03 L164.00,158.97 L164.25,158.90 L164.50,158.82 L164.75,158.73 L165.00,158.63 L165.25,158.51 L165.50,158.39 L165.75,158.25 L166.00,158.10 L166.25,157.95 L166.50,157.78 L166.75,157.60 L167.00,157.42 L167.25,157.22 L167.50,157.01 L167.75,156.79 L168.00,156.56 L168.25,156.32 L168.50,156.07 L168.75,155.81 L169.00,155.54 L169.25,155.26 L169.50,154.97 L169.75,154.66 L170.00,154.35 L170.25,154.02 L170.50,153.68 L170.75,153.33 L171.00,152.96 L171.25,152.58 L171.50,152.18 L171.75,151.77 L172.00,151.35 L172.25,150.90 L172.50,150.44 L172.75,149.97 L173.00,149.47 L173.25,148.95 L173.50,148.40 L173.75,147.84 L174.00,147.25 L174.25,146.62 L174.50,145.97 L174.75,145.29 L175.00,144.57 L175.25,143.81 L175.50,143.01 L175.75,142.16 L176.00,141.25 L176.25,140.28 L176.50,139.24 L176.75,138.12 L177.00,136.91 L177.25,135.58 L177.50,134.13 L177.75,132.51 L178.00,130.70 L178.25,128.63 L178.50,126.23 L178.75,123.36 L179.00,119.81 L179.25,115.15 L179.50,108.34 L179.53,107.27 L179.65,102.00 L179.75,106.51 L179.77,107.27 L180.00,114.02 L180.25,118.99 L180.50,122.72 L180.75,125.70 L181.00,128.18 L181.25,130.30 L181.50,132.16 L181.75,133.81 L182.00,135.29 L182.25,136.64 L182.50,137.87 L182.75,139.00 L183.00,140.05 L183.25,141.02 L183.50,141.94 L183.75,142.79 L184.00,143.59 L184.25,144.35 L184.50,145.06 L184.75,145.74 L185.00,146.38 L185.25,146.99 L185.50,147.56 L185.75,148.11 L186.00,148.63 L186.25,149.13 L186.50,149.61 L186.75,150.06 L187.00,150.49 L187.25,150.90 L187.50,151.29 L187.75,151.66 L188.00,152.01 L188.25,152.34 L188.50,152.66 L188.75,152.96 L189.00,153.25 L189.25,153.51 L189.50,153.77 L189.75,154.00 L190.00,154.23 L190.25,154.43 L190.50,154.63 L190.75,154.80 L191.00,154.97 L191.25,155.12 L191.50,155.25 L191.75,155.37 L192.00,155.48 L192.25,155.57 L192.50,155.65 L192.75,155.71 L193.00,155.77 L193.25,155.80 L193.50,155.83 L193.75,155.84 L194.00,155.84 L194.25,155.82 L194.50,155.79 L194.75,155.75 L195.00,155.69 L195.25,155.62 L195.50,155.53 L195.75,155.44 L196.00,155.33 L196.25,155.20 L196.50,155.06 L196.75,154.91 L197.00,154.75 L197.25,154.57 L197.50,154.38 L197.75,154.17 L198.00,153.95 L198.25,153.71 L198.50,153.46 L198.75,153.20 L199.00,152.92 L199.25,152.63 L199.50,152.32 L199.75,151.99 L200.00,151.65 L200.25,151.29 L200.50,150.91 L200.75,150.52 L201.00,150.11 L201.25,149.67 L201.50,149.22 L201.75,148.74 L202.00,148.25 L202.25,147.72 L202.50,147.18 L202.75,146.60 L203.00,146.00 L203.25,145.36 L203.50,144.70 L203.75,143.99 L204.00,143.24 L204.25,142.45 L204.50,141.61 L204.75,140.72 L205.00,139.76 L205.25,138.74 L205.50,137.63 L205.75,136.43 L206.00,135.13 L206.25,133.69 L206.50,132.10 L206.75,130.31 L207.00,128.28 L207.25,125.93 L207.50,123.13 L207.75,119.69 L208.00,115.21 L208.25,108.78 L208.30,107.09 L208.42,102.00 L208.50,105.58 L208.54,107.09 L208.75,113.20 L209.00,118.23 L209.25,121.98 L209.50,124.98 L209.75,127.48 L210.00,129.62 L210.25,131.48 L210.50,133.14 L210.75,134.63 L211.00,135.98 L211.25,137.22 L211.50,138.36 L211.75,139.42 L212.00,140.40 L212.25,141.32 L212.50,142.19 L212.75,143.00 L213.00,143.77 L213.25,144.50 L213.50,145.19 L213.75,145.85 L214.00,146.48 L214.25,147.08 L214.50,147.65 L214.75,148.19 L215.00,148.72 L215.25,149.22 L215.50,149.70 L215.75,150.16 L216.00,150.61 L216.25,151.04 L216.50,151.45 L216.75,151.84 L217.00,152.22 L217.25,152.59 L217.50,152.94 L217.75,153.28 L218.00,153.61 L218.25,153.92 L218.50,154.22 L218.75,154.51 L219.00,154.79 L219.25,155.05 L219.50,155.31 L219.75,155.55 L220.00,155.78 L220.25,156.01 L220.50,156.22 L220.75,156.42 L221.00,156.61 L221.25,156.78 L221.50,156.95 L221.75,157.11 L222.00,157.26 L222.25,157.39 L222.50,157.51 L222.75,157.63 L223.00,157.73 L223.25,157.82 L223.50,157.90 L223.75,157.96 L224.00,158.02 L224.25,158.06 L224.50,158.09 L224.75,158.10 L225.00,158.11 L225.25,158.10 L225.50,158.07 L225.75,158.04 L226.00,157.98 L226.25,157.92 L226.50,157.84 L226.75,157.74 L227.00,157.63 L227.25,157.50 L227.50,157.35 L227.75,157.19 L228.00,157.01 L228.25,156.82 L228.50,156.60 L228.75,156.37 L229.00,156.11 L229.25,155.84 L229.50,155.54 L229.75,155.22 L230.00,154.88 L230.25,154.52 L230.50,154.13 L230.75,153.72 L231.00,153.28 L231.25,152.81 L231.50,152.31 L231.75,151.78 L232.00,151.21 L232.25,150.61 L232.50,149.97 L232.75,149.29 L233.00,148.56 L233.25,147.79 L233.50,146.95 L233.75,146.06 L234.00,145.10 L234.25,144.06 L234.50,142.93 L234.75,141.70 L235.00,140.35 L235.25,138.86 L235.50,137.19 L235.75,135.30 L236.00,133.13 L236.25,130.58 L236.50,127.49 L236.75,123.60 L237.00,118.31 L237.07,116.42 L237.19,112.49 L237.25,114.58 L237.31,116.42 L237.50,121.08 L237.75,125.60 L238.00,129.06 L238.25,131.86 L238.50,134.22 L238.75,136.25 L239.00,138.03 L239.25,139.61 L239.50,141.04 L239.75,142.34 L240.00,143.53 L240.25,144.63 L240.50,145.64 L240.75,146.59 L241.00,147.47 L241.25,148.30 L241.50,149.08 L241.75,149.81 L242.00,150.51 L242.25,151.17 L242.50,151.79 L242.75,152.38 L243.00,152.95 L243.25,153.48 L243.50,154.00 L243.75,154.49 L244.00,154.95 L244.25,155.40 L244.50,155.83 L244.75,156.24 L245.00,156.63 L245.25,157.01 L245.50,157.37 L245.75,157.71 L246.00,158.04 L246.25,158.36 L246.50,158.66 L246.75,158.95 L247.00,159.23 L247.25,159.49 L247.50,159.74 L247.75,159.98 L248.00,160.21 L248.25,160.43 L248.50,160.64 L248.75,160.83 L249.00,161.02 L249.25,161.19 L249.50,161.35 L249.75,161.51 L250.00,161.65 L250.25,161.78 L250.50,161.90 L250.75,162.01 L251.00,162.11 L251.25,162.20 L251.50,162.28 L251.75,162.34 L252.00,162.40 L252.25,162.44 L252.50,162.48 L252.75,162.50 L253.00,162.51 L253.25,162.51 L253.50,162.49 L253.75,162.47 L254.00,162.43 L254.25,162.38 L254.50,162.31 L254.75,162.24 L255.00,162.15 L255.25,162.04 L255.50,161.92 L255.75,161.79 L256.00,161.64 L256.25,161.48 L256.50,161.30 L256.75,161.11 L257.00,160.90 L257.25,160.67 L257.50,160.43 L257.75,160.17 L258.00,159.89 L258.25,159.59 L258.50,159.27 L258.75,158.93 L259.00,158.57 L259.25,158.18 L259.50,157.78 L259.75,157.35 L260.00,156.89 L260.25,156.41 L260.50,155.90 L260.75,155.35 L261.00,154.78 L261.25,154.17 L261.50,153.52 L261.75,152.84 L262.00,152.11 L262.25,151.33 L262.50,150.50 L262.75,149.61 L263.00,148.65 L263.25,147.62 L263.50,146.50 L263.75,145.29 L264.00,143.95 L264.25,142.48 L264.50,140.85 L264.75,139.00 L265.00,136.88 L265.25,134.41 L265.50,131.44 L265.75,127.73 L265.84,126.13 L265.96,123.69 L266.00,124.55 L266.08,126.13 L266.25,129.02 L266.50,132.46 L266.75,135.25 L267.00,137.60 L267.25,139.62 L267.50,141.40 L267.75,142.99 L268.00,144.42 L268.25,145.72 L268.50,146.91 L268.75,148.01 L269.00,149.03 L269.25,149.99 L269.50,150.88 L269.75,151.78 L270.00,152.70 L270.25,153.63 L270.50,154.60 L270.75,155.61 L271.00,156.64 L271.25,157.71 L271.50,158.81 L271.75,159.93 L272.00,161.06 L272.25,162.19 L272.50,163.32 L272.75,164.00 L273.00,164.64 L273.25,165.25 L273.50,165.84 L273.75,166.41 L274.00,166.95 L274.25,167.48 L274.50,167.98 L274.75,168.45 L275.00,168.91 L275.25,169.35 L275.50,169.77 L275.75,170.17 L276.00,170.55 L276.25,170.91 L276.50,171.25 L276.75,171.58 L277.00,171.90 L277.25,172.20 L277.50,172.50 L277.75,172.78 L278.00,173.06 L278.25,173.33 L278.50,173.58 L278.75,173.84 L279.00,174.08 L279.25,174.32 L279.50,174.55 L279.75,174.77 L280.00,175.00 L280.25,175.21 L280.50,175.43 L280.75,175.63 L281.00,175.84 L281.25,176.05 L281.50,176.25 L281.75,176.45 L282.00,176.65 L282.25,176.85 L282.50,177.04 L282.75,177.23 L283.00,177.42 L283.25,177.61 L283.50,177.79 L283.75,177.98 L284.00,178.16 L284.25,178.33 L284.50,178.51 L284.75,178.68 L285.00,178.85 L285.25,179.02 L285.50,179.18 L285.75,179.35 L286.00,179.51 L286.25,179.66 L286.50,179.82 L286.75,179.97 L287.00,180.13 L287.25,180.27 L287.50,180.42 L287.75,180.56 L288.00,180.71 L288.25,180.85 L288.50,180.98 L288.75,181.12 L289.00,181.25 L289.25,181.38 L289.50,181.51 L289.75,181.63 L290.00,181.75 L290.25,181.87 L290.50,181.98 L290.75,182.10 L291.00,182.21 L291.25,182.32 L291.50,182.43 L291.75,182.53 L292.00,182.64 L292.25,182.74 L292.50,182.84 L292.75,182.94 L293.00,183.05 L293.25,183.15 L293.50,183.25 L293.75,183.35 L294.00,183.45 L294.25,183.55 L294.50,183.65 L294.75,183.75 L295.00,183.85 L295.25,183.96 L295.50,184.06 L295.75,184.17 L296.00,184.28 L296.25,184.39 L296.50,184.50 L296.75,184.61 L297.00,184.70 L297.25,184.79 L297.50,184.87 L297.75,184.95 L298.00,185.03 L298.25,185.11 L298.50,185.20 L298.75,185.30 L299.00,185.41 L299.25,185.54 L299.50,185.68 L299.75,185.85 L300.00,186.03 L300.25,186.25 L300.50,186.75 L300.75,187.61 L301.00,188.61 L301.25,189.48 L301.50,190.00 L301.75,190.23 L302.00,190.42 L302.25,190.57 L302.50,190.69 L302.75,190.78 L303.00,190.86 L303.25,190.93 L303.50,191.00 L303.75,191.07 L304.00,191.16 L304.25,191.26 L304.50,191.39 L304.75,191.55 L305.00,191.75 L305.25,192.00 L305.50,192.45 L305.75,193.25 L306.00,194.37 L306.25,195.79 L306.50,197.50 L306.75,201.29 L307.00,205.00 L307.25,206.56 L307.50,207.86 L307.75,208.95 L308.00,209.85 L308.25,210.62 L308.50,211.29 L308.75,211.90 L309.00,212.50 L309.25,213.08 L309.50,213.63 L309.75,214.14 L310.00,214.62 L310.25,215.08 L310.50,215.51 L310.75,215.92 L311.00,216.31 L311.25,216.69 L311.50,217.05 L311.75,217.40 L312.00,217.74 L312.25,218.08 L312.50,218.41 L312.75,218.75 L313.00,219.08 L313.25,219.40 L313.50,219.71 L313.75,220.01 L314.00,220.30 L314.25,220.58 L314.50,220.86 L314.75,221.13 L315.00,221.40 L315.25,221.67 L315.50,221.93 L315.75,222.19 L316.00,222.46 L316.25,222.73 L316.50,223.00 L316.75,223.25 L317.00,223.46 L317.25,223.68 L317.50,223.92 L317.75,224.21 L318.00,224.60 L318.25,225.21 L318.50,226.15 L318.75,227.34 L319.00,228.75 L319.25,230.32 L319.50,232.00" stroke="#1d4752"/>
<path d="M61.50,177.75 L61.75,177.63 L62.00,177.50 L62.25,177.37 L62.50,177.24 L62.75,177.11 L63.00,176.97 L63.25,176.84 L63.50,176.70 L63.75,176.57 L64.00,176.43 L64.25,176.30 L64.50,176.16 L64.75,176.02 L65.00,175.88 L65.25,175.74 L65.50,175.60 L65.75,175.46 L66.00,175.32 L66.25,175.18 L66.50,175.04 L66.75,174.89 L67.00,174.75 L67.25,174.61 L67.50,174.46 L67.75,174.32 L68.00,174.17 L68.25,174.03 L68.50,173.88 L68.75,173.74 L69.00,173.59 L69.25,173.44 L69.50,173.29 L69.75,173.15 L70.00,173.00 L70.25,172.85 L70.50,172.71 L70.75,172.57 L71.00,172.43 L71.25,172.29 L71.50,172.15 L71.75,172.01 L72.00,171.88 L72.25,171.74 L72.50,171.61 L72.75,171.48 L73.00,171.34 L73.25,171.21 L73.50,171.07 L73.75,170.94 L74.00,170.80 L74.25,170.67 L74.50,170.53 L74.75,170.39 L75.00,170.25 L75.25,170.11 L75.50,169.96 L75.75,169.82 L76.00,169.67 L76.25,169.51 L76.50,169.36 L76.75,169.20 L77.00,169.04 L77.25,168.87 L77.50,168.70 L77.75,168.53 L78.00,168.35 L78.25,168.17 L78.50,167.98 L78.75,167.79 L79.00,167.59 L79.25,167.39 L79.50,167.18 L79.75,166.97 L80.00,166.75 L80.25,166.52 L80.50,166.28 L80.75,166.03 L81.00,165.77 L81.25,165.50 L81.50,165.22 L81.75,164.92 L82.00,164.62 L82.25,164.30 L82.50,163.97 L82.75,163.63 L83.00,163.27 L83.25,162.91 L83.50,162.53 L83.75,162.14 L84.00,161.74 L84.25,161.32 L84.50,160.89 L84.75,160.45 L85.00,160.00 L85.25,159.51 L85.50,158.98 L85.75,158.39 L86.00,157.77 L86.25,157.12 L86.50,156.43 L86.75,155.72 L87.00,154.99 L87.25,154.25 L87.50,153.50 L87.75,152.57 L88.00,151.65 L88.25,150.73 L88.50,149.81 L88.75,148.86 L89.00,147.87 L89.25,146.82 L89.50,145.67 L89.75,144.70 L90.00,143.68 L90.25,142.61 L90.50,141.48 L90.75,140.28 L91.00,139.00 L91.25,137.64 L91.50,136.19 L91.75,134.63 L92.00,132.94 L92.25,131.10 L92.50,129.10 L92.75,126.88 L93.00,124.40 L93.22,121.96 L93.25,121.60 L93.34,120.50 L93.46,121.96 L93.50,122.42 L93.75,125.12 L94.00,127.52 L94.25,129.67 L94.50,131.63 L94.75,133.42 L95.00,135.06 L95.25,136.58 L95.50,138.00 L95.75,139.32 L96.00,140.56 L96.25,141.72 L96.50,142.81 L96.75,143.84 L97.00,144.81 L97.25,145.73 L97.50,146.59 L97.75,147.41 L98.00,148.18 L98.25,148.90 L98.50,149.59 L98.75,150.23 L99.00,150.84 L99.25,151.41 L99.50,151.94 L99.75,152.43 L100.00,152.90 L100.25,153.32 L100.50,153.72 L100.75,154.08 L101.00,154.41 L101.25,154.71 L101.50,154.98 L101.75,155.22 L102.00,155.43 L102.25,155.61 L102.50,155.77 L102.75,155.90 L103.00,156.00 L103.25,156.08 L103.50,156.14 L103.75,156.17 L104.00,156.19 L104.25,156.18 L104.50,156.15 L104.75,156.10 L105.00,156.04 L105.25,155.95 L105.50,155.85 L105.75,155.74 L106.00,155.61 L106.25,155.46 L106.50,155.30 L106.75,155.13 L107.00,154.94 L107.25,154.74 L107.50,154.52 L107.75,154.30 L108.00,154.06 L108.25,153.82 L108.50,153.56 L108.75,153.29 L109.00,153.01 L109.25,152.71 L109.50,152.41 L109.75,152.10 L110.00,151.78 L110.25,151.44 L110.50,151.10 L110.75,150.74 L111.00,150.38 L111.25,150.00 L111.50,149.61 L111.75,149.22 L112.00,148.81 L112.25,148.38 L112.50,147.95 L112.75,147.50 L113.00,147.04 L113.25,146.57 L113.50,146.09 L113.75,145.59 L114.00,145.07 L114.25,144.54 L114.50,143.99 L114.75,143.43 L115.00,142.85 L115.25,142.25 L115.50,141.63 L115.75,140.99 L116.00,140.33 L116.25,139.64 L116.50,138.93 L116.75,138.20 L117.00,137.43 L117.25,136.64 L117.50,135.81 L117.75,134.95 L118.00,134.05 L118.25,133.11 L118.50,132.13 L118.75,131.10 L119.00,130.01 L119.25,128.87 L119.50,127.65 L119.75,126.37 L120.00,125.00 L120.25,123.54 L120.50,121.97 L120.75,120.28 L121.00,118.44 L121.25,116.43 L121.50,114.21 L121.75,111.74 L121.99,109.06 L122.00,108.94 L122.11,107.59 L122.23,109.06 L122.25,109.30 L122.50,112.05 L122.75,114.49 L123.00,116.68 L123.25,118.67 L123.50,120.49 L123.75,122.16 L124.00,123.72 L124.25,125.16 L124.50,126.51 L124.75,127.78 L125.00,128.98 L125.25,130.11 L125.50,131.18 L125.75,132.20 L126.00,133.17 L126.25,134.09 L126.50,134.96 L126.75,135.80 L127.00,136.60 L127.25,137.36 L127.50,138.09 L127.75,138.79 L128.00,139.46 L128.25,140.10 L128.50,140.71 L128.75,141.29 L129.00,141.85 L129.25,142.38 L129.50,142.89 L129.75,143.37 L130.00,143.83 L130.25,144.26 L130.50,144.67 L130.75,145.05 L131.00,145.41 L131.25,145.75 L131.50,146.06 L131.75,146.35 L132.00,146.62 L132.25,146.86 L132.50,147.08 L132.75,147.28 L133.00,147.46 L133.25,147.61 L133.50,147.74 L133.75,147.84 L134.00,147.93 L134.25,147.99 L134.50,148.03 L134.75,148.05 L135.00,148.05 L135.25,148.03 L135.50,147.99 L135.75,147.93 L136.00,147.85 L136.25,147.75 L136.50,147.64 L136.75,147.50 L137.00,147.35 L137.25,147.18 L137.50,146.99 L137.75,146.79 L138.00,146.57 L138.25,146.33 L138.50,146.08 L138.75,145.81 L139.00,145.53 L139.25,145.23 L139.50,144.92 L139.75,144.60 L140.00,144.26 L140.25,143.90 L140.50,143.53 L140.75,143.15 L141.00,142.75 L141.25,142.34 L141.50,141.91 L141.75,141.47 L142.00,141.01 L142.25,140.53 L142.50,140.04 L142.75,139.53 L143.00,139.01 L143.25,138.47 L143.50,137.91 L143.75,137.33 L144.00,136.72 L144.25,136.10 L144.50,135.46 L144.75,134.79 L145.00,134.10 L145.25,133.38 L145.50,132.63 L145.75,131.86 L146.00,131.05 L146.25,130.21 L146.50,129.33 L146.75,128.41 L147.00,127.45 L147.25,126.44 L147.50,125.38 L147.75,124.26 L148.00,123.08 L148.25,121.82 L148.50,120.49 L148.75,119.07 L149.00,117.55 L149.25,115.91 L149.50,114.14 L149.75,112.20 L150.00,110.08 L150.25,107.72 L150.50,105.06 L150.75,102.04 L150.76,101.91 L150.88,100.28 L151.00,101.91 L151.25,104.95 L151.50,107.62 L151.75,109.99 L152.00,112.12 L152.25,114.06 L152.50,115.84 L152.75,117.48 L153.00,119.00 L153.25,120.42 L153.50,121.75 L153.75,123.00 L154.00,124.18 L154.25,125.29 L154.50,126.34 L154.75,127.34 L155.00,128.29 L155.25,129.19 L155.50,130.05 L155.75,130.87 L156.00,131.65 L156.25,132.39 L156.50,133.10 L156.75,133.78 L157.00,134.42 L157.25,135.04 L157.50,135.62 L157.75,136.18 L158.00,136.71 L158.25,137.21 L158.50,137.68 L158.75,138.12 L159.00,138.54 L159.25,138.93 L159.50,139.30 L159.75,139.64 L160.00,139.95 L160.25,140.24 L160.50,140.50 L160.75,140.74 L161.00,140.95 L161.25,141.13 L161.50,141.29 L161.75,141.43 L162.00,141.54 L162.25,141.63 L162.50,141.69 L162.75,141.73 L163.00,141.75 L163.25,141.75 L163.50,141.72 L163.75,141.67 L164.00,141.61 L164.25,141.52 L164.50,141.42 L164.75,141.29 L165.00,141.15 L165.25,140.99 L165.50,140.82 L165.75,140.62 L166.00,140.41 L166.25,140.19 L166.50,139.95 L166.75,139.70 L167.00,139.43 L167.25,139.15 L167.50,138.85 L167.75,138.54 L168.00,138.22 L168.25,137.89 L168.50,137.54 L168.75,137.18 L169.00,136.80 L169.25,136.42 L169.50,136.02 L169.75,135.61 L170.00,135.18 L170.25,134.74 L170.50,134.29 L170.75,133.83 L171.00,133.35 L171.25,132.85 L171.50,132.35 L171.75,131.82 L172.00,131.28 L172.25,130.73 L172.50,130.16 L172.75,129.57 L173.00,128.96 L173.25,128.33 L173.50,127.68 L173.75,127.01 L174.00,126.31 L174.25,125.59 L174.50,124.85 L174.75,124.07 L175.00,123.27 L175.25,122.43 L175.50,121.56 L175.75,120.66 L176.00,119.71 L176.25,118.71 L176.50,117.67 L176.75,116.58 L177.00,115.42 L177.25,114.20 L177.50,112.91 L177.75,111.53 L178.00,110.06 L178.25,108.48 L178.50,106.77 L178.75,104.92 L179.00,102.89 L179.25,100.66 L179.50,98.16 L179.53,97.84 L179.65,96.51 L179.75,97.62 L179.77,97.84 L180.00,100.18 L180.25,102.46 L180.50,104.53 L180.75,106.41 L181.00,108.15 L181.25,109.75 L181.50,111.24 L181.75,112.64 L182.00,113.95 L182.25,115.18 L182.50,116.35 L182.75,117.45 L183.00,118.50 L183.25,119.51 L183.50,120.46 L183.75,121.37 L184.00,122.25 L184.25,123.09 L184.50,123.89 L184.75,124.67 L185.00,125.42 L185.25,126.14 L185.50,126.83 L185.75,127.50 L186.00,128.15 L186.25,128.77 L186.50,129.37 L186.75,129.96 L187.00,130.52 L187.25,131.07 L187.50,131.60 L187.75,132.11 L188.00,132.60 L188.25,133.08 L188.50,133.54 L188.75,133.98 L189.00,134.41 L189.25,134.82 L189.50,135.22 L189.75,135.60 L190.00,135.96 L190.25,136.31 L190.50,136.65 L190.75,136.96 L191.00,137.26 L191.25,137.55 L191.50,137.81 L191.75,138.06 L192.00,138.30 L192.25,138.51 L192.50,138.71 L192.75,138.89 L193.00,139.05 L193.25,139.19 L193.50,139.31 L193.75,139.41 L194.00,139.49 L194.25,139.55 L194.50,139.59 L194.75,139.60 L195.00,139.60 L195.25,139.58 L195.50,139.53 L195.75,139.46 L196.00,139.37 L196.25,139.26 L196.50,139.12 L196.75,138.97 L197.00,138.79 L197.25,138.59 L197.50,138.37 L197.75,138.13 L198.00,137.86 L198.25,137.58 L198.50,137.27 L198.75,136.94 L199.00,136.59 L199.25,136.22 L199.50,135.83 L199.75,135.42 L200.00,134.99 L200.25,134.53 L200.50,134.06 L200.75,133.56 L201.00,133.04 L201.25,132.50 L201.50,131.93 L201.75,131.34 L202.00,130.73 L202.25,130.09 L202.50,129.42 L202.75,128.73 L203.00,128.01 L203.25,127.26 L203.50,126.47 L203.75,125.65 L204.00,124.80 L204.25,123.90 L204.50,122.97 L204.75,121.98 L205.00,120.95 L205.25,119.86 L205.50,118.71 L205.75,117.50 L206.00,116.21 L206.25,114.84 L206.50,113.37 L206.75,111.79 L207.00,110.09 L207.25,108.24 L207.50,106.21 L207.75,103.98 L208.00,101.48 L208.25,98.65 L208.30,98.04 L208.42,96.50 L208.50,97.54 L208.54,98.04 L208.75,100.50 L209.00,103.11 L209.25,105.43 L209.50,107.53 L209.75,109.44 L210.00,111.19 L210.25,112.82 L210.50,114.32 L210.75,115.73 L211.00,117.05 L211.25,118.29 L211.50,119.47 L211.75,120.58 L212.00,121.63 L212.25,122.63 L212.50,123.59 L212.75,124.51 L213.00,125.38 L213.25,126.22 L213.50,127.02 L213.75,127.80 L214.00,128.54 L214.25,129.25 L214.50,129.94 L214.75,130.60 L215.00,131.24 L215.25,131.86 L215.50,132.45 L215.75,133.02 L216.00,133.57 L216.25,134.11 L216.50,134.62 L216.75,135.11 L217.00,135.59 L217.25,136.05 L217.50,136.49 L217.75,136.91 L218.00,137.31 L218.25,137.70 L218.50,138.07 L218.75,138.42 L219.00,138.76 L219.25,139.07 L219.50,139.37 L219.75,139.65 L220.00,139.92 L220.25,140.16 L220.50,140.39 L220.75,140.60 L221.00,140.78 L221.25,140.95 L221.50,141.10 L221.75,141.23 L222.00,141.34 L222.25,141.43 L222.50,141.50 L222.75,141.54 L223.00,141.57 L223.25,141.58 L223.50,141.56 L223.75,141.52 L224.00,141.47 L224.25,141.39 L224.50,141.29 L224.75,141.17 L225.00,141.02 L225.25,140.86 L225.50,140.68 L225.75,140.48 L226.00,140.25 L226.25,140.01 L226.50,139.75 L226.75,139.46 L227.00,139.16 L227.25,138.84 L227.50,138.50 L227.75,138.14 L228.00,137.76 L228.25,137.36 L228.50,136.94 L228.75,136.50 L229.00,136.05 L229.25,135.57 L229.50,135.08 L229.75,134.56 L230.00,134.03 L230.25,133.47 L230.50,132.89 L230.75,132.29 L231.00,131.66 L231.25,131.01 L231.50,130.34 L231.75,129.64 L232.00,128.91 L232.25,128.15 L232.50,127.36 L232.75,126.54 L233.00,125.68 L233.25,124.78 L233.50,123.84 L233.75,122.86 L234.00,121.82 L234.25,120.74 L234.50,119.59 L234.75,118.37 L235.00,117.09 L235.25,115.72 L235.50,114.25 L235.75,112.68 L236.00,110.98 L236.25,109.14 L236.50,107.12 L236.75,104.89 L237.00,102.41 L237.07,101.66 L237.19,100.31 L237.25,101.00 L237.31,101.66 L237.50,103.64 L237.75,105.99 L238.00,108.11 L238.25,110.04 L238.50,111.81 L238.75,113.45 L239.00,114.97 L239.25,116.39 L239.50,117.72 L239.75,118.97 L240.00,120.16 L240.25,121.28 L240.50,122.34 L240.75,123.36 L241.00,124.32 L241.25,125.25 L241.50,126.13 L241.75,126.98 L242.00,127.80 L242.25,128.58 L242.50,129.34 L242.75,130.07 L243.00,130.77 L243.25,131.45 L243.50,132.10 L243.75,132.74 L244.00,133.35 L244.25,133.95 L244.50,134.52 L244.75,135.08 L245.00,135.62 L245.25,136.15 L245.50,136.66 L245.75,137.16 L246.00,137.64 L246.25,138.10 L246.50,138.55 L246.75,138.99 L247.00,139.42 L247.25,139.83 L247.50,140.23 L247.75,140.61 L248.00,140.98 L248.25,141.34 L248.50,141.69 L248.75,142.02 L249.00,142.34 L249.25,142.65 L249.50,142.94 L249.75,143.22 L250.00,143.49 L250.25,143.74 L250.50,143.98 L250.75,144.20 L251.00,144.41 L251.25,144.60 L251.50,144.77 L251.75,144.93 L252.00,145.07 L252.25,145.20 L252.50,145.30 L252.75,145.39 L253.00,145.46 L253.25,145.51 L253.50,145.53 L253.75,145.54 L254.00,145.53 L254.25,145.49 L254.50,145.43 L254.75,145.35 L255.00,145.25 L255.25,145.12 L255.50,144.97 L255.75,144.80 L256.00,144.60 L256.25,144.38 L256.50,144.13 L256.75,143.86 L257.00,143.57 L257.25,143.24 L257.50,142.90 L257.75,142.53 L258.00,142.13 L258.25,141.71 L258.50,141.26 L258.75,140.79 L259.00,140.29 L259.25,139.76 L259.50,139.21 L259.75,138.62 L260.00,138.01 L260.25,137.37 L260.50,136.70 L260.75,136.00 L261.00,135.26 L261.25,134.49 L261.50,133.69 L261.75,132.84 L262.00,131.95 L262.25,131.02 L262.50,130.04 L262.75,129.01 L263.00,127.92 L263.25,126.76 L263.50,125.54 L263.75,124.25 L264.00,122.86 L264.25,121.38 L264.50,119.79 L264.75,118.07 L265.00,116.19 L265.25,114.14 L265.50,111.86 L265.75,109.32 L265.84,108.33 L265.96,106.93 L266.00,107.41 L266.08,108.33 L266.25,110.17 L266.50,112.62 L266.75,114.82 L267.00,116.81 L267.25,118.64 L267.50,120.32 L267.75,121.88 L268.00,123.33 L268.25,124.69 L268.50,125.96 L268.75,127.17 L269.00,128.31 L269.25,129.39 L269.50,130.42 L269.75,131.40 L270.00,132.33 L270.25,133.23 L270.50,134.08 L270.75,134.91 L271.00,135.70 L271.25,136.46 L271.50,137.19 L271.75,137.90 L272.00,138.58 L272.25,139.24 L272.50,139.88 L272.75,140.49 L273.00,141.09 L273.25,141.67 L273.50,142.23 L273.75,142.78 L274.00,143.31 L274.25,143.82 L274.50,144.32 L274.75,144.80 L275.00,145.27 L275.25,145.73 L275.50,146.18 L275.75,146.61 L276.00,147.03 L276.25,147.44 L276.50,147.84 L276.75,148.23 L277.00,148.60 L277.25,148.97 L277.50,149.32 L277.75,149.67 L278.00,150.00 L278.25,150.32 L278.50,150.64 L278.75,150.94 L279.00,151.23 L279.25,151.51 L279.50,151.79 L279.75,152.05 L280.00,152.30 L280.25,152.53 L280.50,152.76 L280.75,152.98 L281.00,153.18 L281.25,153.37 L281.50,153.55 L281.75,153.71 L282.00,153.86 L282.25,154.00 L282.50,154.12 L282.75,154.23 L283.00,154.31 L283.25,154.39 L283.50,154.44 L283.75,154.48 L284.00,154.49 L284.25,154.49 L284.50,154.46 L284.75,154.42 L285.00,154.35 L285.25,154.25 L285.50,154.13 L285.75,153.99 L286.00,153.82 L286.25,153.62 L286.50,153.40 L286.75,153.14 L287.00,152.86 L287.25,152.54 L287.50,152.20 L287.75,151.82 L288.00,151.41 L288.25,150.97 L288.50,150.50 L288.75,149.99 L289.00,149.44 L289.25,148.86 L289.50,148.24 L289.75,147.58 L290.00,146.88 L290.25,146.13 L290.50,145.35 L290.75,144.52 L291.00,143.64 L291.25,142.70 L291.50,141.72 L291.75,140.67 L292.00,139.56 L292.25,138.37 L292.50,137.11 L292.75,135.77 L293.00,134.32 L293.25,132.77 L293.50,131.08 L293.75,129.25 L294.00,127.25 L294.25,125.03 L294.50,122.56 L294.61,121.37 L294.73,120.00 L294.75,120.23 L294.85,121.37 L295.00,122.97 L295.25,125.40 L295.50,127.58 L295.75,129.56 L296.00,131.37 L296.25,133.04 L296.50,134.58 L296.75,136.02 L297.00,137.36 L297.25,138.62 L297.50,139.81 L297.75,140.94 L298.00,142.00 L298.25,143.01 L298.50,143.97 L298.75,144.89 L299.00,145.76 L299.25,146.59 L299.50,147.39 L299.75,148.16 L300.00,148.90 L300.25,149.61 L300.50,150.29 L300.75,150.94 L301.00,151.57 L301.25,152.18 L301.50,152.77 L301.75,153.34 L302.00,153.89 L302.25,154.49 L302.50,155.12 L302.75,155.79 L303.00,156.50 L303.25,157.27 L303.50,158.08 L303.75,158.95 L304.00,159.86 L304.25,160.52 L304.50,161.16 L304.75,161.77 L305.00,162.35 L305.25,162.89 L305.50,163.41 L305.75,163.87 L306.00,164.30 L306.25,164.69 L306.50,165.07 L306.75,165.42 L307.00,165.76 L307.25,166.09 L307.50,166.40 L307.75,166.69 L308.00,166.98 L308.25,167.25 L308.50,167.52 L308.75,167.78 L309.00,168.03 L309.25,168.27 L309.50,168.51 L309.75,168.75 L310.00,168.98 L310.25,169.20 L310.50,169.42 L310.75,169.63 L311.00,169.84 L311.25,170.04 L311.50,170.23 L311.75,170.43 L312.00,170.61 L312.25,170.80 L312.50,170.98 L312.75,171.16 L313.00,171.33 L313.25,171.50 L313.50,171.67 L313.75,171.84 L314.00,172.00 L314.25,172.16 L314.50,172.32 L314.75,172.48 L315.00,172.64 L315.25,172.79 L315.50,172.94 L315.75,173.09 L316.00,173.24 L316.25,173.38 L316.50,173.53 L316.75,173.67 L317.00,173.81 L317.25,173.95 L317.50,174.08 L317.75,174.21 L318.00,174.35 L318.25,174.48 L318.50,174.60 L318.75,174.73 L319.00,174.85 L319.25,174.98 L319.50,175.10 L319.75,175.22 L320.00,175.33 L320.25,175.45 L320.50,175.56 L320.75,175.67 L321.00,175.78 L321.25,175.89 L321.50,176.00 L321.75,176.10 L322.00,176.21 L322.25,176.31 L322.50,176.41 L322.75,176.51 L323.00,176.61 L323.25,176.71 L323.50,176.81 L323.75,176.90 L324.00,177.00 L324.25,177.09 L324.50,177.18 L324.75,177.25 L325.00,177.33 L325.25,177.40 L325.50,177.47 L325.75,177.53 L326.00,177.60 L326.25,177.66 L326.50,177.73 L326.75,177.80 L327.00,177.87 L327.25,177.95 L327.50,178.03 L327.75,178.12 L328.00,178.22 L328.25,178.32 L328.50,178.44 L328.75,178.56 L329.00,178.70 L329.25,178.86 L329.50,179.07 L329.75,179.31 L330.00,179.60 L330.25,179.93 L330.50,180.30 L330.75,180.81 L331.00,181.49 L331.25,182.25 L331.50,183.00" stroke="#8a2cf2"/>
<path d="M61.50,164.10 L61.75,162.99 L62.00,161.79 L62.25,160.49 L62.50,159.08 L62.75,157.53 L63.00,155.83 L63.25,153.95 L63.50,151.86 L63.75,149.51 L64.00,146.83 L64.25,143.73 L64.45,140.84 L64.50,140.05 L64.57,138.89 L64.69,140.84 L64.75,141.75 L65.00,145.15 L65.25,148.05 L65.50,150.57 L65.75,152.79 L66.00,154.76 L66.25,156.54 L66.50,158.14 L66.75,159.59 L67.00,160.91 L67.25,162.11 L67.50,163.20 L67.75,164.19 L68.00,165.09 L68.25,165.91 L68.50,166.65 L68.75,167.31 L69.00,167.91 L69.25,168.45 L69.50,168.93 L69.75,169.36 L70.00,169.73 L70.25,170.06 L70.50,170.35 L70.75,170.60 L71.00,170.81 L71.25,170.99 L71.50,171.13 L71.75,171.25 L72.00,171.34 L72.25,171.41 L72.50,171.46 L72.75,171.49 L73.00,171.49 L73.25,171.48 L73.50,171.46 L73.75,171.42 L74.00,171.37 L74.25,171.30 L74.50,171.22 L74.75,171.13 L75.00,171.03 L75.25,170.92 L75.50,170.80 L75.75,170.68 L76.00,170.54 L76.25,170.39 L76.50,170.24 L76.75,170.08 L77.00,169.91 L77.25,169.74 L77.50,169.56 L77.75,169.37 L78.00,169.17 L78.25,168.97 L78.50,168.76 L78.75,168.54 L79.00,168.32 L79.25,168.08 L79.50,167.85 L79.75,167.60 L80.00,167.35 L80.25,167.09 L80.50,166.82 L80.75,166.54 L81.00,166.26 L81.25,165.96 L81.50,165.66 L81.75,165.35 L82.00,165.03 L82.25,164.71 L82.50,164.37 L82.75,164.02 L83.00,163.66 L83.25,163.29 L83.50,162.91 L83.75,162.52 L84.00,162.12 L84.25,161.70 L84.50,161.28 L84.75,160.83 L85.00,160.38 L85.25,159.90 L85.50,159.42 L85.75,158.91 L86.00,158.39 L86.25,157.85 L86.50,157.29 L86.75,156.72 L87.00,156.11 L87.25,155.49 L87.50,154.84 L87.75,154.17 L88.00,153.47 L88.25,152.74 L88.50,151.98 L88.75,151.18 L89.00,150.35 L89.25,149.48 L89.50,148.56 L89.75,147.60 L90.00,146.58 L90.25,145.51 L90.50,144.37 L90.75,143.16 L91.00,141.88 L91.25,140.50 L91.50,139.02 L91.75,137.42 L92.00,135.68 L92.25,133.78 L92.50,131.67 L92.75,129.33 L93.00,126.67 L93.22,124.01 L93.25,123.62 L93.34,122.40 L93.46,124.01 L93.50,124.52 L93.75,127.45 L94.00,130.01 L94.25,132.28 L94.50,134.32 L94.75,136.17 L95.00,137.87 L95.25,139.43 L95.50,140.87 L95.75,142.21 L96.00,143.46 L96.25,144.63 L96.50,145.73 L96.75,146.77 L97.00,147.74 L97.25,148.66 L97.50,149.53 L97.75,150.36 L98.00,151.13 L98.25,151.87 L98.50,152.56 L98.75,153.22 L99.00,153.84 L99.25,154.42 L99.50,154.97 L99.75,155.49 L100.00,155.97 L100.25,156.43 L100.50,156.85 L100.75,157.25 L101.00,157.61 L101.25,157.95 L101.50,158.26 L101.75,158.54 L102.00,158.80 L102.25,159.03 L102.50,159.23 L102.75,159.41 L103.00,159.57 L103.25,159.70 L103.50,159.82 L103.75,159.91 L104.00,159.98 L104.25,160.02 L104.50,160.05 L104.75,160.06 L105.00,160.05 L105.25,160.03 L105.50,159.98 L105.75,159.92 L106.00,159.84 L106.25,159.75 L106.50,159.65 L106.75,159.52 L107.00,159.39 L107.25,159.24 L107.50,159.07 L107.75,158.90 L108.00,158.71 L108.25,158.51 L108.50,158.30 L108.75,158.07 L109.00,157.83 L109.25,157.59 L109.50,157.33 L109.75,157.06 L110.00,156.78 L110.25,156.48 L110.50,156.18 L110.75,155.87 L111.00,155.54 L111.25,155.20 L111.50,154.86 L111.75,154.50 L112.00,154.12 L112.25,153.74 L112.50,153.35 L112.75,152.94 L113.00,152.52 L113.25,152.08 L113.50,151.63 L113.75,151.17 L114.00,150.70 L114.25,150.20 L114.50,149.70 L114.75,149.17 L115.00,148.63 L115.25,148.07 L115.50,147.49 L115.75,146.89 L116.00,146.27 L116.25,145.63 L116.50,144.96 L116.75,144.27 L117.00,143.55 L117.25,142.81 L117.50,142.03 L117.75,141.21 L118.00,140.37 L118.25,139.48 L118.50,138.55 L118.75,137.57 L119.00,136.54 L119.25,135.45 L119.50,134.30 L119.75,133.08 L120.00,131.79 L120.25,130.40 L120.50,128.90 L120.75,127.29 L121.00,125.54 L121.25,123.62 L121.50,121.50 L121.75,119.14 L121.99,116.58 L122.00,116.46 L122.11,115.16 L122.23,116.58 L122.25,116.80 L122.50,119.44 L122.75,121.77 L123.00,123.86 L123.25,125.75 L123.50,127.49 L123.75,129.08 L124.00,130.56 L124.25,131.93 L124.50,133.22 L124.75,134.42 L125.00,135.56 L125.25,136.63 L125.50,137.64 L125.75,138.60 L126.00,139.51 L126.25,140.37 L126.50,141.20 L126.75,141.98 L127.00,142.73 L127.25,143.45 L127.50,144.13 L127.75,144.78 L128.00,145.40 L128.25,145.99 L128.50,146.56 L128.75,147.10 L129.00,147.61 L129.25,148.10 L129.50,148.56 L129.75,149.00 L130.00,149.42 L130.25,149.81 L130.50,150.18 L130.75,150.52 L131.00,150.85 L131.25,151.15 L131.50,151.43 L131.75,151.69 L132.00,151.92 L132.25,152.14 L132.50,152.33 L132.75,152.51 L133.00,152.66 L133.25,152.79 L133.50,152.90 L133.75,152.99 L134.00,153.07 L134.25,153.12 L134.50,153.15 L134.75,153.17 L135.00,153.17 L135.25,153.15 L135.50,153.11 L135.75,153.05 L136.00,152.98 L136.25,152.89 L136.50,152.78 L136.75,152.66 L137.00,152.53 L137.25,152.37 L137.50,152.21 L137.75,152.02 L138.00,151.83 L138.25,151.62 L138.50,151.39 L138.75,151.15 L139.00,150.90 L139.25,150.63 L139.50,150.35 L139.75,150.06 L140.00,149.75 L140.25,149.43 L140.50,149.10 L140.75,148.75 L141.00,148.39 L141.25,148.01 L141.50,147.63 L141.75,147.22 L142.00,146.80 L142.25,146.37 L142.50,145.92 L142.75,145.46 L143.00,144.98 L143.25,144.48 L143.50,143.97 L143.75,143.43 L144.00,142.88 L144.25,142.31 L144.50,141.71 L144.75,141.10 L145.00,140.46 L145.25,139.80 L145.50,139.11 L145.75,138.39 L146.00,137.64 L146.25,136.86 L146.50,136.05 L146.75,135.20 L147.00,134.31 L147.25,133.37 L147.50,132.39 L147.75,131.36 L148.00,130.26 L148.25,129.11 L148.50,127.88 L148.75,126.57 L149.00,125.16 L149.25,123.65 L149.50,122.02 L149.75,120.25 L150.00,118.30 L150.25,116.14 L150.50,113.73 L150.75,111.00 L150.76,110.88 L150.88,109.42 L151.00,110.88 L151.25,113.63 L151.50,116.05 L151.75,118.21 L152.00,120.17 L152.25,121.95 L152.50,123.58 L152.75,125.09 L153.00,126.49 L153.25,127.80 L153.50,129.03 L153.75,130.18 L154.00,131.26 L154.25,132.28 L154.50,133.25 L154.75,134.17 L155.00,135.03 L155.25,135.86 L155.50,136.64 L155.75,137.39 L156.00,138.09 L156.25,138.77 L156.50,139.41 L156.75,140.01 L157.00,140.59 L157.25,141.13 L157.50,141.65 L157.75,142.14 L158.00,142.60 L158.25,143.03 L158.50,143.43 L158.75,143.81 L159.00,144.16 L159.25,144.48 L159.50,144.78 L159.75,145.06 L160.00,145.31 L160.25,145.53 L160.50,145.74 L160.75,145.91 L161.00,146.07 L161.25,146.20 L161.50,146.31 L161.75,146.39 L162.00,146.46 L162.25,146.50 L162.50,146.53 L162.75,146.53 L163.00,146.52 L163.25,146.48 L163.50,146.43 L163.75,146.36 L164.00,146.28 L164.25,146.17 L164.50,146.05 L164.75,145.92 L165.00,145.77 L165.25,145.61 L165.50,145.43 L165.75,145.24 L166.00,145.03 L166.25,144.81 L166.50,144.58 L166.75,144.34 L167.00,144.09 L167.25,143.82 L167.50,143.55 L167.75,143.26 L168.00,142.96 L168.25,142.65 L168.50,142.33 L168.75,142.00 L169.00,141.65 L169.25,141.30 L169.50,140.93 L169.75,140.56 L170.00,140.17 L170.25,139.77 L170.50,139.36 L170.75,138.94 L171.00,138.51 L171.25,138.06 L171.50,137.60 L171.75,137.13 L172.00,136.64 L172.25,136.14 L172.50,135.63 L172.75,135.10 L173.00,134.56 L173.25,133.99 L173.50,133.41 L173.75,132.82 L174.00,132.20 L174.25,131.56 L174.50,130.90 L174.75,130.22 L175.00,129.51 L175.25,128.78 L175.50,128.02 L175.75,127.22 L176.00,126.40 L176.25,125.54 L176.50,124.64 L176.75,123.70 L177.00,122.71 L177.25,121.67 L177.50,120.57 L177.75,119.42 L178.00,118.19 L178.25,116.88 L178.50,115.49 L178.75,113.99 L179.00,112.37 L179.25,110.61 L179.50,108.69 L179.53,108.45 L179.65,107.44 L179.75,108.28 L179.77,108.45 L180.00,110.24 L180.25,112.03 L180.50,113.67 L180.75,115.20 L181.00,116.61 L181.25,117.93 L181.50,119.18 L181.75,120.35 L182.00,121.45 L182.25,122.50 L182.50,123.50 L182.75,124.45 L183.00,125.36 L183.25,126.23 L183.50,127.06 L183.75,127.86 L184.00,128.62 L184.25,129.36 L184.50,130.07 L184.75,130.76 L185.00,131.42 L185.25,132.06 L185.50,132.68 L185.75,133.28 L186.00,133.86 L186.25,134.43 L186.50,134.97 L186.75,135.50 L187.00,136.01 L187.25,136.51 L187.50,137.00 L187.75,137.47 L188.00,137.92 L188.25,138.37 L188.50,138.80 L188.75,139.22 L189.00,139.62 L189.25,140.01 L189.50,140.40 L189.75,140.77 L190.00,141.12 L190.25,141.47 L190.50,141.80 L190.75,142.13 L191.00,142.44 L191.25,142.74 L191.50,143.03 L191.75,143.30 L192.00,143.56 L192.25,143.81 L192.50,144.05 L192.75,144.28 L193.00,144.49 L193.25,144.69 L193.50,144.87 L193.75,145.04 L194.00,145.20 L194.25,145.34 L194.50,145.46 L194.75,145.57 L195.00,145.67 L195.25,145.74 L195.50,145.80 L195.75,145.84 L196.00,145.86 L196.25,145.87 L196.50,145.85 L196.75,145.82 L197.00,145.76 L197.25,145.69 L197.50,145.59 L197.75,145.47 L198.00,145.33 L198.25,145.17 L198.50,144.99 L198.75,144.78 L199.00,144.55 L199.25,144.30 L199.50,144.03 L199.75,143.73 L200.00,143.40 L200.25,143.06 L200.50,142.68 L200.75,142.29 L201.00,141.86 L201.25,141.42 L201.50,140.94 L201.75,140.44 L202.00,139.91 L202.25,139.35 L202.50,138.77 L202.75,138.15 L203.00,137.50 L203.25,136.82 L203.50,136.11 L203.75,135.36 L204.00,134.57 L204.25,133.74 L204.50,132.87 L204.75,131.95 L205.00,130.98 L205.25,129.95 L205.50,128.86 L205.75,127.71 L206.00,126.48 L206.25,125.17 L206.50,123.77 L206.75,122.25 L207.00,120.62 L207.25,118.83 L207.50,116.87 L207.75,114.70 L208.00,112.27 L208.25,109.51 L208.30,108.91 L208.42,107.40 L208.50,108.42 L208.54,108.91 L208.75,111.32 L209.00,113.86 L209.25,116.12 L209.50,118.15 L209.75,119.99 L210.00,121.68 L210.25,123.24 L210.50,124.68 L210.75,126.03 L211.00,127.29 L211.25,128.47 L211.50,129.59 L211.75,130.64 L212.00,131.64 L212.25,132.58 L212.50,133.48 L212.75,134.33 L213.00,135.15 L213.25,135.93 L213.50,136.67 L213.75,137.38 L214.00,138.06 L214.25,138.71 L214.50,139.33 L214.75,139.92 L215.00,140.49 L215.25,141.03 L215.50,141.55 L215.75,142.05 L216.00,142.52 L216.25,142.97 L216.50,143.40 L216.75,143.81 L217.00,144.20 L217.25,144.56 L217.50,144.91 L217.75,145.23 L218.00,145.54 L218.25,145.82 L218.50,146.08 L218.75,146.33 L219.00,146.55 L219.25,146.76 L219.50,146.94 L219.75,147.11 L220.00,147.25 L220.25,147.38 L220.50,147.49 L220.75,147.57 L221.00,147.64 L221.25,147.69 L221.50,147.72 L221.75,147.73 L222.00,147.73 L222.25,147.70 L222.50,147.66 L222.75,147.60 L223.00,147.52 L223.25,147.43 L223.50,147.31 L223.75,147.18 L224.00,147.04 L224.25,146.88 L224.50,146.70 L224.75,146.50 L225.00,146.30 L225.25,146.07 L225.50,145.83 L225.75,145.58 L226.00,145.31 L226.25,145.03 L226.50,144.73 L226.75,144.42 L227.00,144.09 L227.25,143.75 L227.50,143.39 L227.75,143.02 L228.00,142.64 L228.25,142.24 L228.50,141.83 L228.75,141.40 L229.00,140.96 L229.25,140.50 L229.50,140.03 L229.75,139.54 L230.00,139.03 L230.25,138.50 L230.50,137.96 L230.75,137.40 L231.00,136.82 L231.25,136.22 L231.50,135.59 L231.75,134.95 L232.00,134.28 L232.25,133.58 L232.50,132.86 L232.75,132.11 L233.00,131.33 L233.25,130.52 L233.50,129.67 L233.75,128.78 L234.00,127.85 L234.25,126.87 L234.50,125.84 L234.75,124.76 L235.00,123.62 L235.25,122.40 L235.50,121.11 L235.75,119.73 L236.00,118.25 L236.25,116.66 L236.50,114.93 L236.75,113.03 L237.00,110.95 L237.07,110.32 L237.19,109.20 L237.25,109.77 L237.31,110.32 L237.50,111.97 L237.75,113.96 L238.00,115.78 L238.25,117.44 L238.50,118.98 L238.75,120.41 L239.00,121.74 L239.25,123.00 L239.50,124.18 L239.75,125.29 L240.00,126.35 L240.25,127.35 L240.50,128.31 L240.75,129.22 L241.00,130.09 L241.25,130.92 L241.50,131.72 L241.75,132.49 L242.00,133.23 L242.25,133.95 L242.50,134.63 L242.75,135.29 L243.00,135.93 L243.25,136.55 L243.50,137.15 L243.75,137.73 L244.00,138.29 L244.25,138.83 L244.50,139.36 L244.75,139.87 L245.00,140.37 L245.25,140.85 L245.50,141.31 L245.75,141.76 L246.00,142.20 L246.25,142.62 L246.50,143.04 L246.75,143.43 L247.00,143.82 L247.25,144.19 L247.50,144.55 L247.75,144.90 L248.00,145.24 L248.25,145.56 L248.50,145.87 L248.75,146.17 L249.00,146.46 L249.25,146.73 L249.50,146.99 L249.75,147.24 L250.00,147.48 L250.25,147.70 L250.50,147.91 L250.75,148.10 L251.00,148.28 L251.25,148.44 L251.50,148.59 L251.75,148.73 L252.00,148.84 L252.25,148.95 L252.50,149.03 L252.75,149.10 L253.00,149.15 L253.25,149.18 L253.50,149.20 L253.75,149.19 L254.00,149.17 L254.25,149.13 L254.50,149.06 L254.75,148.98 L255.00,148.88 L255.25,148.76 L255.50,148.61 L255.75,148.45 L256.00,148.26 L256.25,148.05 L256.50,147.82 L256.75,147.57 L257.00,147.30 L257.25,147.00 L257.50,146.69 L257.75,146.35 L258.00,145.99 L258.25,145.60 L258.50,145.19 L258.75,144.76 L259.00,144.31 L259.25,143.83 L259.50,143.32 L259.75,142.79 L260.00,142.24 L260.25,141.66 L260.50,141.05 L260.75,140.41 L261.00,139.74 L261.25,139.04 L261.50,138.31 L261.75,137.54 L262.00,136.74 L262.25,135.89 L262.50,135.01 L262.75,134.07 L263.00,133.09 L263.25,132.06 L263.50,130.96 L263.75,129.80 L264.00,128.56 L264.25,127.24 L264.50,125.83 L264.75,124.31 L265.00,122.66 L265.25,120.87 L265.50,118.91 L265.75,116.73 L265.84,115.88 L265.96,114.70 L266.00,115.10 L266.08,115.88 L266.25,117.45 L266.50,119.56 L266.75,121.47 L267.00,123.21 L267.25,124.81 L267.50,126.30 L267.75,127.69 L268.00,128.98 L268.25,130.20 L268.50,131.35 L268.75,132.43 L269.00,133.46 L269.25,134.43 L269.50,135.37 L269.75,136.25 L270.00,137.10 L270.25,137.92 L270.50,138.70 L270.75,139.45 L271.00,140.17 L271.25,140.86 L271.50,141.53 L271.75,142.18 L272.00,142.80 L272.25,143.41 L272.50,143.99 L272.75,144.55 L273.00,145.10 L273.25,145.63 L273.50,146.14 L273.75,146.64 L274.00,147.13 L274.25,147.60 L274.50,148.05 L274.75,148.50 L275.00,148.93 L275.25,149.34 L275.50,149.75 L275.75,150.14 L276.00,150.53 L276.25,150.90 L276.50,151.26 L276.75,151.61 L277.00,151.95 L277.25,152.28 L277.50,152.60 L277.75,152.91 L278.00,153.21 L278.25,153.49 L278.50,153.77 L278.75,154.04 L279.00,154.30 L279.25,154.54 L279.50,154.78 L279.75,155.00 L280.00,155.22 L280.25,155.42 L280.50,155.61 L280.75,155.79 L281.00,155.95 L281.25,156.11 L281.50,156.25 L281.75,156.37 L282.00,156.48 L282.25,156.58 L282.50,156.66 L282.75,156.73 L283.00,156.78 L283.25,156.81 L283.50,156.83 L283.75,156.82 L284.00,156.80 L284.25,156.76 L284.50,156.69 L284.75,156.61 L285.00,156.50 L285.25,156.37 L285.50,156.22 L285.75,156.04 L286.00,155.84 L286.25,155.62 L286.50,155.36 L286.75,155.08 L287.00,154.77 L287.25,154.44 L287.50,154.07 L287.75,153.68 L288.00,153.26 L288.25,152.80 L288.50,152.31 L288.75,151.79 L289.00,151.24 L289.25,150.65 L289.50,150.02 L289.75,149.36 L290.00,148.66 L290.25,147.92 L290.50,147.13 L290.75,146.30 L291.00,145.42 L291.25,144.49 L291.50,143.50 L291.75,142.45 L292.00,141.33 L292.25,140.14 L292.50,138.87 L292.75,137.50 L293.00,136.03 L293.25,134.44 L293.50,132.71 L293.75,130.81 L294.00,128.72 L294.25,126.38 L294.50,123.73 L294.61,122.45 L294.73,120.95 L294.75,121.21 L294.85,122.45 L295.00,124.18 L295.25,126.77 L295.50,129.07 L295.75,131.13 L296.00,133.01 L296.25,134.72 L296.50,136.29 L296.75,137.75 L297.00,139.11 L297.25,140.39 L297.50,141.58 L297.75,142.70 L298.00,143.77 L298.25,144.77 L298.50,145.73 L298.75,146.63 L299.00,147.50 L299.25,148.32 L299.50,149.11 L299.75,149.87 L300.00,150.60 L300.25,151.29 L300.50,151.96 L300.75,152.60 L301.00,153.22 L301.25,153.82 L301.50,154.39 L301.75,154.95 L302.00,155.48 L302.25,156.00 L302.50,156.50 L302.75,156.99 L303.00,157.46 L303.25,157.91 L303.50,158.35 L303.75,158.76 L304.00,159.15 L304.25,159.52 L304.50,159.88 L304.75,160.24 L305.00,160.61 L305.25,161.00 L305.50,161.40 L305.75,161.82 L306.00,162.24 L306.25,162.67 L306.50,163.10 L306.75,163.52 L307.00,163.92 L307.25,164.31 L307.50,164.67 L307.75,165.00 L308.00,165.31 L308.25,165.63 L308.50,165.94 L308.75,166.25 L309.00,166.55 L309.25,166.84 L309.50,167.12 L309.75,167.39 L310.00,167.65 L310.25,167.88 L310.50,168.10 L310.75,168.30 L311.00,168.48 L311.25,168.63 L311.50,168.75 L311.75,168.86 L312.00,168.96 L312.25,169.07 L312.50,169.16 L312.75,169.25 L313.00,169.34 L313.25,169.41 L313.50,169.48 L313.75,169.53 L314.00,169.57 L314.25,169.59 L314.50,169.60 L314.75,169.57 L315.00,169.50 L315.25,169.38 L315.50,169.21 L315.75,169.01 L316.00,168.78 L316.25,168.52 L316.50,168.23 L316.75,167.92 L317.00,167.60 L317.25,167.18 L317.50,166.58 L317.75,165.85 L318.00,165.00 L318.25,164.06 L318.50,163.07 L318.75,162.04 L319.00,161.00 L319.25,160.21 L319.50,159.47 L319.75,158.83 L320.00,158.32 L320.25,157.95 L320.50,157.71 L320.75,156.73 L321.00,155.68 L321.25,154.54 L321.50,153.31 L321.75,151.99 L322.00,150.56 L322.25,149.00 L322.50,147.30 L322.75,145.43 L323.00,143.36 L323.25,141.05 L323.38,139.73 L323.50,138.43 L323.62,139.73 L323.75,141.05 L324.00,143.37 L324.25,145.44 L324.50,147.32 L324.75,149.03 L325.00,150.59 L325.25,152.04 L325.50,153.38 L325.75,154.63 L326.00,155.80 L326.25,156.89 L326.50,157.92 L326.75,158.88 L327.00,159.80 L327.25,160.66 L327.50,161.47 L327.75,162.24 L328.00,162.98 L328.25,163.67 L328.50,164.33 L328.75,164.96 L329.00,165.56 L329.25,166.13 L329.50,166.68 L329.75,167.20 L330.00,167.70 L330.25,168.17 L330.50,168.63 L330.75,169.06 L331.00,169.48 L331.25,169.88 L331.50,170.26" stroke="#3c963c"/>
</g>
<path d="M144.10,225.40 L144.10,82.01 L144.35,81.91 L144.60,81.81 L144.85,81.71 L145.10,81.61 L145.35,81.51 L145.60,81.41 L145.85,81.30 L146.10,81.20 L146.35,81.09 L146.60,80.99 L146.85,80.88 L147.10,80.77 L147.35,80.67 L147.60,80.56 L147.85,80.45 L148.10,80.33 L148.35,80.22 L148.60,80.11 L148.85,80.00 L149.10,79.88 L149.35,79.76 L149.60,79.65 L149.85,79.53 L150.10,79.41 L150.35,79.29 L150.60,79.17 L150.85,79.05 L151.10,78.92 L151.35,78.80 L151.60,78.67 L151.85,78.55 L152.10,78.42 L152.35,78.29 L152.60,78.16 L152.85,78.03 L153.10,77.89 L153.35,77.76 L153.60,77.62 L153.85,77.49 L154.10,77.35 L154.35,77.21 L154.60,77.07 L154.85,76.92 L155.10,76.78 L155.35,76.63 L155.60,76.49 L155.85,76.34 L156.10,76.19 L156.35,76.03 L156.60,75.88 L156.85,75.72 L157.10,75.57 L157.35,75.41 L157.60,75.24 L157.85,75.08 L158.10,74.91 L158.35,74.75 L158.60,74.58 L158.85,74.41 L159.10,74.23 L159.35,74.06 L159.60,73.88 L159.85,73.70 L160.10,73.51 L160.35,73.33 L160.60,73.14 L160.85,72.95 L161.10,72.76 L161.35,72.56 L161.60,72.36 L161.85,72.16 L162.10,71.96 L162.35,71.75 L162.60,71.54 L162.85,71.32 L163.10,71.11 L163.35,70.89 L163.60,70.66 L163.85,70.43 L164.10,70.20 L164.35,69.97 L164.60,69.73 L164.85,69.48 L165.10,69.23 L165.35,68.98 L165.60,68.72 L165.85,68.46 L166.10,68.19 L166.35,67.92 L166.60,67.65 L166.85,67.36 L167.10,67.07 L167.35,66.78 L167.60,66.48 L167.85,66.17 L168.10,65.86 L168.35,65.54 L168.60,65.21 L168.85,64.87 L169.10,64.53 L169.35,64.18 L169.60,63.81 L169.85,63.44 L170.10,63.06 L170.35,62.67 L170.60,62.27 L170.85,61.86 L171.10,61.43 L171.35,61.00 L171.60,60.54 L171.85,60.08 L172.10,59.60 L172.35,59.10 L172.60,58.59 L172.85,58.05 L173.10,57.50 L173.35,56.92 L173.60,56.32 L173.85,55.70 L174.10,55.05 L174.35,54.36 L174.60,53.65 L174.85,52.90 L175.10,52.10 L175.35,51.27 L175.60,50.38 L175.85,49.44 L176.10,48.43 L176.35,47.34 L176.60,46.18 L176.85,44.91 L177.10,43.52 L177.35,41.99 L177.60,40.28 L177.85,38.36 L178.10,36.14 L178.35,33.53 L178.60,30.36 L178.85,26.33 L179.10,20.77 L179.35,11.78 L179.60,-5.00 L179.65,-5.00 L179.85,5.76 L179.95,11.78 L180.10,17.79 L180.35,24.35 L180.60,28.88 L180.85,32.34 L181.10,35.15 L181.35,37.51 L181.60,39.54 L181.85,41.33 L182.10,42.93 L182.35,44.37 L182.60,45.68 L182.85,46.89 L183.10,48.00 L183.35,49.04 L183.60,50.00 L183.85,50.91 L184.10,51.77 L184.35,52.57 L184.60,53.34 L184.85,54.06 L185.10,54.75 L185.35,55.41 L185.60,56.04 L185.85,56.64 L186.10,57.21 L186.35,57.76 L186.60,58.29 L186.85,58.80 L187.10,59.29 L187.35,59.76 L187.60,60.21 L187.85,60.64 L188.10,61.05 L188.35,61.45 L188.60,61.83 L188.85,62.20 L189.10,62.55 L189.35,62.88 L189.60,63.20 L189.85,63.50 L190.10,63.79 L190.35,64.06 L190.60,64.32 L190.85,64.56 L191.10,64.78 L191.35,64.98 L191.60,65.17 L191.85,65.35 L192.10,65.50 L192.35,65.64 L192.60,65.75 L192.85,65.85 L193.10,65.94 L193.35,66.00 L193.60,66.04 L193.85,66.06 L194.10,66.07 L194.35,66.05 L194.60,66.02 L194.85,65.97 L195.10,65.90 L195.35,65.80 L195.60,65.70 L195.85,65.57 L196.10,65.42 L196.35,65.26 L196.60,65.08 L196.85,64.88 L197.10,64.66 L197.35,64.43 L197.60,64.19 L197.85,63.92 L198.10,63.64 L198.35,63.35 L198.60,63.04 L198.85,62.71 L199.10,62.37 L199.35,62.01 L199.60,61.64 L199.85,61.24 L200.10,60.84 L200.35,60.41 L200.60,59.97 L200.85,59.51 L201.10,59.04 L201.35,58.54 L201.60,58.02 L201.85,57.48 L202.10,56.92 L202.35,56.33 L202.60,55.71 L202.85,55.07 L203.10,54.40 L203.35,53.69 L203.60,52.94 L203.85,52.16 L204.10,51.33 L204.35,50.45 L204.60,49.51 L204.85,48.51 L205.10,47.43 L205.35,46.27 L205.60,45.01 L205.85,43.64 L206.10,42.12 L206.35,40.43 L206.60,38.52 L206.85,36.33 L207.10,33.75 L207.35,30.64 L207.60,26.69 L207.85,21.30 L208.10,12.74 L208.12,11.78 L208.35,-5.00 L208.42,-5.00 L208.60,4.20 L208.72,11.78 L208.85,17.12 L209.10,23.92 L209.35,28.56 L209.60,32.09 L209.85,34.94 L210.10,37.33 L210.35,39.39 L210.60,41.20 L210.85,42.81 L211.10,44.26 L211.35,45.58 L211.60,46.80 L211.85,47.92 L212.10,48.96 L212.35,49.93 L212.60,50.85 L212.85,51.71 L213.10,52.52 L213.35,53.29 L213.60,54.03 L213.85,54.72 L214.10,55.39 L214.35,56.03 L214.60,56.64 L214.85,57.22 L215.10,57.79 L215.35,58.33 L215.60,58.86 L215.85,59.36 L216.10,59.85 L216.35,60.32 L216.60,60.78 L216.85,61.23 L217.10,61.66 L217.35,62.07 L217.60,62.48 L217.85,62.88 L218.10,63.26 L218.35,63.64 L218.60,64.00 L218.85,64.36 L219.10,64.71 L219.35,65.05 L219.60,65.38 L219.85,65.70 L220.10,66.02 L220.35,66.33 L220.60,66.64 L220.85,66.93 L221.10,67.22 L221.35,67.51 L221.60,67.79 L221.85,68.06 L222.10,68.33 L222.35,68.60 L222.60,68.86 L222.85,69.11 L223.10,69.36 L223.35,69.61 L223.60,69.85 L223.85,70.09 L224.10,70.32 L224.35,70.55 L224.60,70.78 L224.85,71.00 L225.10,71.22 L225.35,71.44 L225.60,71.65 L225.85,71.86 L226.10,72.06 L226.35,72.27 L226.60,72.47 L226.85,72.66 L227.10,72.86 L227.35,73.05 L227.60,73.24 L227.85,73.43 L228.10,73.61 L228.35,73.79 L228.60,73.97 L228.85,74.15 L229.10,74.32 L229.35,74.50 L229.60,74.67 L229.85,74.83 L230.10,75.00 L230.35,75.17 L230.60,75.33 L230.85,75.49 L231.10,75.65 L231.35,75.80 L231.60,75.96 L231.85,76.11 L232.10,76.26 L232.35,76.41 L232.60,76.56 L232.85,76.71 L233.10,76.85 L233.35,77.00 L233.60,77.14 L233.85,77.28 L234.10,77.42 L234.35,77.56 L234.60,77.69 L234.85,77.83 L235.10,77.96 L235.35,78.10 L235.60,78.23 L235.85,78.36 L236.10,78.49 L236.35,78.61 L236.60,78.74 L236.85,78.86 L237.10,78.99 L237.35,79.11 L237.60,79.23 L237.85,79.35 L238.10,79.47 L238.35,79.59 L238.60,79.71 L238.85,79.82 L239.10,79.94 L239.35,80.05 L239.60,80.17 L239.85,80.28 L240.10,80.39 L240.35,80.50 L240.60,80.61 L240.85,80.72 L241.10,80.83 L241.35,80.94 L241.60,81.04 L241.85,81.15 L242.10,81.25 L242.35,81.36 L242.60,81.46 L242.85,81.56 L243.10,81.66 L243.35,81.76 L243.60,81.86 L243.85,81.96 L244.10,82.06 L244.35,82.16 L244.60,82.26 L244.85,82.35 L245.10,82.45 L245.35,82.54 L245.60,82.64 L245.85,82.73 L246.10,82.83 L246.35,82.92 L246.60,83.01 L246.85,83.10 L247.10,83.19 L247.35,83.28 L247.60,83.37 L247.85,83.46 L248.10,83.55 L248.35,83.64 L248.60,83.72 L248.85,83.81 L249.10,83.89 L249.30,83.96 L249.30,225.40 Z" fill="url(#cyg)" stroke="none"/>
<g mask="url(#fademask)"><path d="M144.10,225.40 L144.10,82.01 L144.35,81.91 L144.60,81.81 L144.85,81.71 L145.10,81.61 L145.35,81.51 L145.60,81.41 L145.85,81.30 L146.10,81.20 L146.35,81.09 L146.60,80.99 L146.85,80.88 L147.10,80.77 L147.35,80.67 L147.60,80.56 L147.85,80.45 L148.10,80.33 L148.35,80.22 L148.60,80.11 L148.85,80.00 L149.10,79.88 L149.35,79.76 L149.60,79.65 L149.85,79.53 L150.10,79.41 L150.35,79.29 L150.60,79.17 L150.85,79.05 L151.10,78.92 L151.35,78.80 L151.60,78.67 L151.85,78.55 L152.10,78.42 L152.35,78.29 L152.60,78.16 L152.85,78.03 L153.10,77.89 L153.35,77.76 L153.60,77.62 L153.85,77.49 L154.10,77.35 L154.35,77.21 L154.60,77.07 L154.85,76.92 L155.10,76.78 L155.35,76.63 L155.60,76.49 L155.85,76.34 L156.10,76.19 L156.35,76.03 L156.60,75.88 L156.85,75.72 L157.10,75.57 L157.35,75.41 L157.60,75.24 L157.85,75.08 L158.10,74.91 L158.35,74.75 L158.60,74.58 L158.85,74.41 L159.10,74.23 L159.35,74.06 L159.60,73.88 L159.85,73.70 L160.10,73.51 L160.35,73.33 L160.60,73.14 L160.85,72.95 L161.10,72.76 L161.35,72.56 L161.60,72.36 L161.85,72.16 L162.10,71.96 L162.35,71.75 L162.60,71.54 L162.85,71.32 L163.10,71.11 L163.35,70.89 L163.60,70.66 L163.85,70.43 L164.10,70.20 L164.35,69.97 L164.60,69.73 L164.85,69.48 L165.10,69.23 L165.35,68.98 L165.60,68.72 L165.85,68.46 L166.10,68.19 L166.35,67.92 L166.60,67.65 L166.85,67.36 L167.10,67.07 L167.35,66.78 L167.60,66.48 L167.85,66.17 L168.10,65.86 L168.35,65.54 L168.60,65.21 L168.85,64.87 L169.10,64.53 L169.35,64.18 L169.60,63.81 L169.85,63.44 L170.10,63.06 L170.35,62.67 L170.60,62.27 L170.85,61.86 L171.10,61.43 L171.35,61.00 L171.60,60.54 L171.85,60.08 L172.10,59.60 L172.35,59.10 L172.60,58.59 L172.85,58.05 L173.10,57.50 L173.35,56.92 L173.60,56.32 L173.85,55.70 L174.10,55.05 L174.35,54.36 L174.60,53.65 L174.85,52.90 L175.10,52.10 L175.35,51.27 L175.60,50.38 L175.85,49.44 L176.10,48.43 L176.35,47.34 L176.60,46.18 L176.85,44.91 L177.10,43.52 L177.35,41.99 L177.60,40.28 L177.85,38.36 L178.10,36.14 L178.35,33.53 L178.60,30.36 L178.85,26.33 L179.10,20.77 L179.35,11.78 L179.60,-5.00 L179.65,-5.00 L179.85,5.76 L179.95,11.78 L180.10,17.79 L180.35,24.35 L180.60,28.88 L180.85,32.34 L181.10,35.15 L181.35,37.51 L181.60,39.54 L181.85,41.33 L182.10,42.93 L182.35,44.37 L182.60,45.68 L182.85,46.89 L183.10,48.00 L183.35,49.04 L183.60,50.00 L183.85,50.91 L184.10,51.77 L184.35,52.57 L184.60,53.34 L184.85,54.06 L185.10,54.75 L185.35,55.41 L185.60,56.04 L185.85,56.64 L186.10,57.21 L186.35,57.76 L186.60,58.29 L186.85,58.80 L187.10,59.29 L187.35,59.76 L187.60,60.21 L187.85,60.64 L188.10,61.05 L188.35,61.45 L188.60,61.83 L188.85,62.20 L189.10,62.55 L189.35,62.88 L189.60,63.20 L189.85,63.50 L190.10,63.79 L190.35,64.06 L190.60,64.32 L190.85,64.56 L191.10,64.78 L191.35,64.98 L191.60,65.17 L191.85,65.35 L192.10,65.50 L192.35,65.64 L192.60,65.75 L192.85,65.85 L193.10,65.94 L193.35,66.00 L193.60,66.04 L193.85,66.06 L194.10,66.07 L194.35,66.05 L194.60,66.02 L194.85,65.97 L195.10,65.90 L195.35,65.80 L195.60,65.70 L195.85,65.57 L196.10,65.42 L196.35,65.26 L196.60,65.08 L196.85,64.88 L197.10,64.66 L197.35,64.43 L197.60,64.19 L197.85,63.92 L198.10,63.64 L198.35,63.35 L198.60,63.04 L198.85,62.71 L199.10,62.37 L199.35,62.01 L199.60,61.64 L199.85,61.24 L200.10,60.84 L200.35,60.41 L200.60,59.97 L200.85,59.51 L201.10,59.04 L201.35,58.54 L201.60,58.02 L201.85,57.48 L202.10,56.92 L202.35,56.33 L202.60,55.71 L202.85,55.07 L203.10,54.40 L203.35,53.69 L203.60,52.94 L203.85,52.16 L204.10,51.33 L204.35,50.45 L204.60,49.51 L204.85,48.51 L205.10,47.43 L205.35,46.27 L205.60,45.01 L205.85,43.64 L206.10,42.12 L206.35,40.43 L206.60,38.52 L206.85,36.33 L207.10,33.75 L207.35,30.64 L207.60,26.69 L207.85,21.30 L208.10,12.74 L208.12,11.78 L208.35,-5.00 L208.42,-5.00 L208.60,4.20 L208.72,11.78 L208.85,17.12 L209.10,23.92 L209.35,28.56 L209.60,32.09 L209.85,34.94 L210.10,37.33 L210.35,39.39 L210.60,41.20 L210.85,42.81 L211.10,44.26 L211.35,45.58 L211.60,46.80 L211.85,47.92 L212.10,48.96 L212.35,49.93 L212.60,50.85 L212.85,51.71 L213.10,52.52 L213.35,53.29 L213.60,54.03 L213.85,54.72 L214.10,55.39 L214.35,56.03 L214.60,56.64 L214.85,57.22 L215.10,57.79 L215.35,58.33 L215.60,58.86 L215.85,59.36 L216.10,59.85 L216.35,60.32 L216.60,60.78 L216.85,61.23 L217.10,61.66 L217.35,62.07 L217.60,62.48 L217.85,62.88 L218.10,63.26 L218.35,63.64 L218.60,64.00 L218.85,64.36 L219.10,64.71 L219.35,65.05 L219.60,65.38 L219.85,65.70 L220.10,66.02 L220.35,66.33 L220.60,66.64 L220.85,66.93 L221.10,67.22 L221.35,67.51 L221.60,67.79 L221.85,68.06 L222.10,68.33 L222.35,68.60 L222.60,68.86 L222.85,69.11 L223.10,69.36 L223.35,69.61 L223.60,69.85 L223.85,70.09 L224.10,70.32 L224.35,70.55 L224.60,70.78 L224.85,71.00 L225.10,71.22 L225.35,71.44 L225.60,71.65 L225.85,71.86 L226.10,72.06 L226.35,72.27 L226.60,72.47 L226.85,72.66 L227.10,72.86 L227.35,73.05 L227.60,73.24 L227.85,73.43 L228.10,73.61 L228.35,73.79 L228.60,73.97 L228.85,74.15 L229.10,74.32 L229.35,74.50 L229.60,74.67 L229.85,74.83 L230.10,75.00 L230.35,75.17 L230.60,75.33 L230.85,75.49 L231.10,75.65 L231.35,75.80 L231.60,75.96 L231.85,76.11 L232.10,76.26 L232.35,76.41 L232.60,76.56 L232.85,76.71 L233.10,76.85 L233.35,77.00 L233.60,77.14 L233.85,77.28 L234.10,77.42 L234.35,77.56 L234.60,77.69 L234.85,77.83 L235.10,77.96 L235.35,78.10 L235.60,78.23 L235.85,78.36 L236.10,78.49 L236.35,78.61 L236.60,78.74 L236.85,78.86 L237.10,78.99 L237.35,79.11 L237.60,79.23 L237.85,79.35 L238.10,79.47 L238.35,79.59 L238.60,79.71 L238.85,79.82 L239.10,79.94 L239.35,80.05 L239.60,80.17 L239.85,80.28 L240.10,80.39 L240.35,80.50 L240.60,80.61 L240.85,80.72 L241.10,80.83 L241.35,80.94 L241.60,81.04 L241.85,81.15 L242.10,81.25 L242.35,81.36 L242.60,81.46 L242.85,81.56 L243.10,81.66 L243.35,81.76 L243.60,81.86 L243.85,81.96 L244.10,82.06 L244.35,82.16 L244.60,82.26 L244.85,82.35 L245.10,82.45 L245.35,82.54 L245.60,82.64 L245.85,82.73 L246.10,82.83 L246.35,82.92 L246.60,83.01 L246.85,83.10 L247.10,83.19 L247.35,83.28 L247.60,83.37 L247.85,83.46 L248.10,83.55 L248.35,83.64 L248.60,83.72 L248.85,83.81 L249.10,83.89 L249.30,83.96 L249.30,225.40 Z" fill="url(#stripes)" stroke="none"/><path d="M144.10,225.40 L144.10,82.01 L144.35,81.91 L144.60,81.81 L144.85,81.71 L145.10,81.61 L145.35,81.51 L145.60,81.41 L145.85,81.30 L146.10,81.20 L146.35,81.09 L146.60,80.99 L146.85,80.88 L147.10,80.77 L147.35,80.67 L147.60,80.56 L147.85,80.45 L148.10,80.33 L148.35,80.22 L148.60,80.11 L148.85,80.00 L149.10,79.88 L149.35,79.76 L149.60,79.65 L149.85,79.53 L150.10,79.41 L150.35,79.29 L150.60,79.17 L150.85,79.05 L151.10,78.92 L151.35,78.80 L151.60,78.67 L151.85,78.55 L152.10,78.42 L152.35,78.29 L152.60,78.16 L152.85,78.03 L153.10,77.89 L153.35,77.76 L153.60,77.62 L153.85,77.49 L154.10,77.35 L154.35,77.21 L154.60,77.07 L154.85,76.92 L155.10,76.78 L155.35,76.63 L155.60,76.49 L155.85,76.34 L156.10,76.19 L156.35,76.03 L156.60,75.88 L156.85,75.72 L157.10,75.57 L157.35,75.41 L157.60,75.24 L157.85,75.08 L158.10,74.91 L158.35,74.75 L158.60,74.58 L158.85,74.41 L159.10,74.23 L159.35,74.06 L159.60,73.88 L159.85,73.70 L160.10,73.51 L160.35,73.33 L160.60,73.14 L160.85,72.95 L161.10,72.76 L161.35,72.56 L161.60,72.36 L161.85,72.16 L162.10,71.96 L162.35,71.75 L162.60,71.54 L162.85,71.32 L163.10,71.11 L163.35,70.89 L163.60,70.66 L163.85,70.43 L164.10,70.20 L164.35,69.97 L164.60,69.73 L164.85,69.48 L165.10,69.23 L165.35,68.98 L165.60,68.72 L165.85,68.46 L166.10,68.19 L166.35,67.92 L166.60,67.65 L166.85,67.36 L167.10,67.07 L167.35,66.78 L167.60,66.48 L167.85,66.17 L168.10,65.86 L168.35,65.54 L168.60,65.21 L168.85,64.87 L169.10,64.53 L169.35,64.18 L169.60,63.81 L169.85,63.44 L170.10,63.06 L170.35,62.67 L170.60,62.27 L170.85,61.86 L171.10,61.43 L171.35,61.00 L171.60,60.54 L171.85,60.08 L172.10,59.60 L172.35,59.10 L172.60,58.59 L172.85,58.05 L173.10,57.50 L173.35,56.92 L173.60,56.32 L173.85,55.70 L174.10,55.05 L174.35,54.36 L174.60,53.65 L174.85,52.90 L175.10,52.10 L175.35,51.27 L175.60,50.38 L175.85,49.44 L176.10,48.43 L176.35,47.34 L176.60,46.18 L176.85,44.91 L177.10,43.52 L177.35,41.99 L177.60,40.28 L177.85,38.36 L178.10,36.14 L178.35,33.53 L178.60,30.36 L178.85,26.33 L179.10,20.77 L179.35,11.78 L179.60,-5.00 L179.65,-5.00 L179.85,5.76 L179.95,11.78 L180.10,17.79 L180.35,24.35 L180.60,28.88 L180.85,32.34 L181.10,35.15 L181.35,37.51 L181.60,39.54 L181.85,41.33 L182.10,42.93 L182.35,44.37 L182.60,45.68 L182.85,46.89 L183.10,48.00 L183.35,49.04 L183.60,50.00 L183.85,50.91 L184.10,51.77 L184.35,52.57 L184.60,53.34 L184.85,54.06 L185.10,54.75 L185.35,55.41 L185.60,56.04 L185.85,56.64 L186.10,57.21 L186.35,57.76 L186.60,58.29 L186.85,58.80 L187.10,59.29 L187.35,59.76 L187.60,60.21 L187.85,60.64 L188.10,61.05 L188.35,61.45 L188.60,61.83 L188.85,62.20 L189.10,62.55 L189.35,62.88 L189.60,63.20 L189.85,63.50 L190.10,63.79 L190.35,64.06 L190.60,64.32 L190.85,64.56 L191.10,64.78 L191.35,64.98 L191.60,65.17 L191.85,65.35 L192.10,65.50 L192.35,65.64 L192.60,65.75 L192.85,65.85 L193.10,65.94 L193.35,66.00 L193.60,66.04 L193.85,66.06 L194.10,66.07 L194.35,66.05 L194.60,66.02 L194.85,65.97 L195.10,65.90 L195.35,65.80 L195.60,65.70 L195.85,65.57 L196.10,65.42 L196.35,65.26 L196.60,65.08 L196.85,64.88 L197.10,64.66 L197.35,64.43 L197.60,64.19 L197.85,63.92 L198.10,63.64 L198.35,63.35 L198.60,63.04 L198.85,62.71 L199.10,62.37 L199.35,62.01 L199.60,61.64 L199.85,61.24 L200.10,60.84 L200.35,60.41 L200.60,59.97 L200.85,59.51 L201.10,59.04 L201.35,58.54 L201.60,58.02 L201.85,57.48 L202.10,56.92 L202.35,56.33 L202.60,55.71 L202.85,55.07 L203.10,54.40 L203.35,53.69 L203.60,52.94 L203.85,52.16 L204.10,51.33 L204.35,50.45 L204.60,49.51 L204.85,48.51 L205.10,47.43 L205.35,46.27 L205.60,45.01 L205.85,43.64 L206.10,42.12 L206.35,40.43 L206.60,38.52 L206.85,36.33 L207.10,33.75 L207.35,30.64 L207.60,26.69 L207.85,21.30 L208.10,12.74 L208.12,11.78 L208.35,-5.00 L208.42,-5.00 L208.60,4.20 L208.72,11.78 L208.85,17.12 L209.10,23.92 L209.35,28.56 L209.60,32.09 L209.85,34.94 L210.10,37.33 L210.35,39.39 L210.60,41.20 L210.85,42.81 L211.10,44.26 L211.35,45.58 L211.60,46.80 L211.85,47.92 L212.10,48.96 L212.35,49.93 L212.60,50.85 L212.85,51.71 L213.10,52.52 L213.35,53.29 L213.60,54.03 L213.85,54.72 L214.10,55.39 L214.35,56.03 L214.60,56.64 L214.85,57.22 L215.10,57.79 L215.35,58.33 L215.60,58.86 L215.85,59.36 L216.10,59.85 L216.35,60.32 L216.60,60.78 L216.85,61.23 L217.10,61.66 L217.35,62.07 L217.60,62.48 L217.85,62.88 L218.10,63.26 L218.35,63.64 L218.60,64.00 L218.85,64.36 L219.10,64.71 L219.35,65.05 L219.60,65.38 L219.85,65.70 L220.10,66.02 L220.35,66.33 L220.60,66.64 L220.85,66.93 L221.10,67.22 L221.35,67.51 L221.60,67.79 L221.85,68.06 L222.10,68.33 L222.35,68.60 L222.60,68.86 L222.85,69.11 L223.10,69.36 L223.35,69.61 L223.60,69.85 L223.85,70.09 L224.10,70.32 L224.35,70.55 L224.60,70.78 L224.85,71.00 L225.10,71.22 L225.35,71.44 L225.60,71.65 L225.85,71.86 L226.10,72.06 L226.35,72.27 L226.60,72.47 L226.85,72.66 L227.10,72.86 L227.35,73.05 L227.60,73.24 L227.85,73.43 L228.10,73.61 L228.35,73.79 L228.60,73.97 L228.85,74.15 L229.10,74.32 L229.35,74.50 L229.60,74.67 L229.85,74.83 L230.10,75.00 L230.35,75.17 L230.60,75.33 L230.85,75.49 L231.10,75.65 L231.35,75.80 L231.60,75.96 L231.85,76.11 L232.10,76.26 L232.35,76.41 L232.60,76.56 L232.85,76.71 L233.10,76.85 L233.35,77.00 L233.60,77.14 L233.85,77.28 L234.10,77.42 L234.35,77.56 L234.60,77.69 L234.85,77.83 L235.10,77.96 L235.35,78.10 L235.60,78.23 L235.85,78.36 L236.10,78.49 L236.35,78.61 L236.60,78.74 L236.85,78.86 L237.10,78.99 L237.35,79.11 L237.60,79.23 L237.85,79.35 L238.10,79.47 L238.35,79.59 L238.60,79.71 L238.85,79.82 L239.10,79.94 L239.35,80.05 L239.60,80.17 L239.85,80.28 L240.10,80.39 L240.35,80.50 L240.60,80.61 L240.85,80.72 L241.10,80.83 L241.35,80.94 L241.60,81.04 L241.85,81.15 L242.10,81.25 L242.35,81.36 L242.60,81.46 L242.85,81.56 L243.10,81.66 L243.35,81.76 L243.60,81.86 L243.85,81.96 L244.10,82.06 L244.35,82.16 L244.60,82.26 L244.85,82.35 L245.10,82.45 L245.35,82.54 L245.60,82.64 L245.85,82.73 L246.10,82.83 L246.35,82.92 L246.60,83.01 L246.85,83.10 L247.10,83.19 L247.35,83.28 L247.60,83.37 L247.85,83.46 L248.10,83.55 L248.35,83.64 L248.60,83.72 L248.85,83.81 L249.10,83.89 L249.30,83.96 L249.30,225.40 Z" fill="url(#stripes2)" stroke="none"/></g>
<g clip-path="url(#band)">
<g stroke="#ffffff" stroke-width="0.7" opacity="0.22">
<line x1="179.65" y1="0" x2="179.65" y2="224.6"/>
<line x1="208.45" y1="0" x2="208.45" y2="224.6"/>
</g>
<g stroke-width="1.05">
<path d="M73.00,232.00 L73.25,229.25 L73.50,226.72 L73.75,224.50 L74.00,222.62 L74.25,220.96 L74.50,219.41 L74.75,217.87 L75.00,216.25 L75.25,214.43 L75.50,212.47 L75.75,210.56 L76.00,208.84 L76.25,207.50 L76.50,206.45 L76.75,205.48 L77.00,204.59 L77.25,203.77 L77.50,203.02 L77.75,202.33 L78.00,201.69 L78.25,201.09 L78.50,200.53 L78.75,200.00 L79.00,199.50 L79.25,199.04 L79.50,198.60 L79.75,198.19 L80.00,197.80 L80.25,197.42 L80.50,197.06 L80.75,196.72 L81.00,196.37 L81.25,196.03 L81.50,195.70 L81.75,195.35 L82.00,195.00 L82.25,194.65 L82.50,194.30 L82.75,193.95 L83.00,193.61 L83.25,193.27 L83.50,192.94 L83.75,192.61 L84.00,192.28 L84.25,191.96 L84.50,191.64 L84.75,191.32 L85.00,191.00 L85.25,190.68 L85.50,190.36 L85.75,190.03 L86.00,189.71 L86.25,189.38 L86.50,189.06 L86.75,188.74 L87.00,188.43 L87.25,188.12 L87.50,187.82 L87.75,187.53 L88.00,187.25 L88.25,186.99 L88.50,186.74 L88.75,186.50 L89.00,186.28 L89.25,186.06 L89.50,185.86 L89.75,185.66 L90.00,185.47 L90.25,185.29 L90.50,185.11 L90.75,184.94 L91.00,184.76 L91.25,184.59 L91.50,184.43 L91.75,184.26 L92.00,184.09 L92.25,183.92 L92.50,183.75 L92.75,183.58 L93.00,183.42 L93.25,183.25 L93.50,183.10 L93.75,182.94 L94.00,182.79 L94.25,182.64 L94.50,182.49 L94.75,182.35 L95.00,182.20 L95.25,182.04 L95.50,181.89 L95.75,181.74 L96.00,181.58 L96.25,181.41 L96.50,181.24 L96.75,181.07 L97.00,180.89 L97.25,180.70 L97.50,180.50 L97.75,180.30 L98.00,180.09 L98.25,179.87 L98.50,179.65 L98.75,179.42 L99.00,179.19 L99.25,178.95 L99.50,178.71 L99.75,178.46 L100.00,178.20 L100.25,177.94 L100.50,177.67 L100.75,177.40 L101.00,177.13 L101.25,176.84 L101.50,176.56 L101.75,176.27 L102.00,175.97 L102.25,175.67 L102.50,175.36 L102.75,175.05 L103.00,174.73 L103.25,174.41 L103.50,174.08 L103.75,173.75 L104.00,173.42 L104.25,173.09 L104.50,172.77 L104.75,172.44 L105.00,172.10 L105.25,171.75 L105.50,171.39 L105.75,171.01 L106.00,170.61 L106.25,170.18 L106.50,169.72 L106.75,169.22 L107.00,168.69 L107.25,168.12 L107.50,167.50 L107.75,166.86 L108.00,166.17 L108.25,165.34 L108.50,164.26 L108.75,162.84 L109.00,161.00 L109.25,155.90 L109.50,149.25 L109.75,144.83 L110.00,144.16 L110.25,143.75 L110.50,143.50 L110.75,143.30 L111.00,143.11 L111.25,142.96 L111.50,142.84 L111.75,142.74 L112.00,142.66 L112.25,142.58 L112.50,142.50 L112.75,142.41 L113.00,142.30 L113.25,142.17 L113.50,142.01 L113.75,141.80 L114.00,141.48 L114.25,140.98 L114.50,140.31 L114.75,139.21 L115.00,137.19 L115.25,135.62 L115.50,135.20 L115.75,134.89 L116.00,134.63 L116.25,134.42 L116.50,134.25 L116.75,134.11 L117.00,133.99 L117.25,133.89 L117.50,133.80 L117.75,133.71 L118.00,133.64 L118.25,133.58 L118.50,133.52 L118.75,133.47 L119.00,133.42 L119.25,133.38 L119.50,133.32 L119.75,133.27 L120.00,133.20 L120.25,133.13 L120.50,133.05 L120.75,132.97 L121.00,132.89 L121.25,132.81 L121.50,132.72 L121.75,132.62 L122.00,132.52 L122.25,132.42 L122.50,132.31 L122.75,132.19 L123.00,132.07 L123.25,131.94 L123.50,131.80 L123.75,131.65 L124.00,131.50 L124.25,131.35 L124.50,131.19 L124.75,131.03 L125.00,130.87 L125.25,130.71 L125.50,130.54 L125.75,130.38 L126.00,130.21 L126.25,130.05 L126.50,129.89 L126.75,129.73 L127.00,129.58 L127.25,129.42 L127.50,129.27 L127.75,129.11 L128.00,128.96 L128.25,128.80 L128.50,128.64 L128.75,128.49 L129.00,128.33 L129.25,128.17 L129.50,128.01 L129.75,127.84 L130.00,127.68 L130.25,127.51 L130.50,127.34 L130.75,127.16 L131.00,126.98 L131.25,126.80 L131.50,126.61 L131.75,126.42 L132.00,126.23 L132.25,126.04 L132.50,125.84 L132.75,125.63 L133.00,125.43 L133.25,125.22 L133.50,125.01 L133.75,124.79 L134.00,124.58 L134.25,124.35 L134.50,124.13 L134.75,123.90 L135.00,123.67 L135.25,123.43 L135.50,123.19 L135.75,122.95 L136.00,122.71 L136.25,122.46 L136.50,122.21 L136.75,121.95 L137.00,121.70 L137.25,121.43 L137.50,121.17 L137.75,120.88 L138.00,120.58 L138.25,120.29 L138.50,119.99 L138.75,119.69 L139.00,119.38 L139.25,119.07 L139.50,118.75 L139.75,118.43 L140.00,118.11 L140.25,117.78 L140.50,117.44 L140.75,117.09 L141.00,116.74 L141.25,116.38 L141.50,116.02 L141.75,115.65 L142.00,115.28 L142.25,114.90 L142.50,114.51 L142.75,114.09 L143.00,113.66 L143.25,113.22 L143.50,112.76 L143.75,112.29 L144.00,111.79 L144.25,111.28 L144.50,110.75 L144.75,110.19 L145.00,109.62 L145.25,109.01 L145.50,108.38 L145.75,107.72 L146.00,107.03 L146.25,106.30 L146.50,105.53 L146.75,104.72 L147.00,103.86 L147.25,102.94 L147.50,101.96 L147.75,100.92 L148.00,99.79 L148.25,98.57 L148.50,97.24 L148.75,95.78 L149.00,94.16 L149.25,92.35 L149.50,90.29 L149.75,87.91 L150.00,85.09 L150.25,81.62 L150.50,77.12 L150.75,70.74 L150.76,70.42 L150.88,65.95 L151.00,70.42 L151.25,76.91 L151.50,81.46 L151.75,84.96 L152.00,87.80 L152.25,90.20 L152.50,92.27 L152.75,94.08 L153.00,95.70 L153.25,97.16 L153.50,98.49 L153.75,99.70 L154.00,100.82 L154.25,101.85 L154.50,102.82 L154.75,103.72 L155.00,104.56 L155.25,105.34 L155.50,106.09 L155.75,106.78 L156.00,107.44 L156.25,108.06 L156.50,108.65 L156.75,109.20 L157.00,109.73 L157.25,110.22 L157.50,110.69 L157.75,111.13 L158.00,111.55 L158.25,111.95 L158.50,112.32 L158.75,112.67 L159.00,113.00 L159.25,113.31 L159.50,113.59 L159.75,113.86 L160.00,114.11 L160.25,114.34 L160.50,114.56 L160.75,114.76 L161.00,114.94 L161.25,115.10 L161.50,115.24 L161.75,115.38 L162.00,115.49 L162.25,115.59 L162.50,115.67 L162.75,115.74 L163.00,115.80 L163.25,115.84 L163.50,115.86 L163.75,115.88 L164.00,115.88 L164.25,115.86 L164.50,115.83 L164.75,115.79 L165.00,115.74 L165.25,115.67 L165.50,115.59 L165.75,115.50 L166.00,115.40 L166.25,115.28 L166.50,115.15 L166.75,115.01 L167.00,114.86 L167.25,114.69 L167.50,114.52 L167.75,114.33 L168.00,114.13 L168.25,113.92 L168.50,113.69 L168.75,113.46 L169.00,113.21 L169.25,112.95 L169.50,112.67 L169.75,112.39 L170.00,112.09 L170.25,111.77 L170.50,111.45 L170.75,111.11 L171.00,110.75 L171.25,110.38 L171.50,109.99 L171.75,109.59 L172.00,109.17 L172.25,108.73 L172.50,108.27 L172.75,107.80 L173.00,107.30 L173.25,106.78 L173.50,106.24 L173.75,105.67 L174.00,105.07 L174.25,104.44 L174.50,103.79 L174.75,103.09 L175.00,102.37 L175.25,101.59 L175.50,100.78 L175.75,99.91 L176.00,98.99 L176.25,98.00 L176.50,96.94 L176.75,95.80 L177.00,94.56 L177.25,93.20 L177.50,91.72 L177.75,90.06 L178.00,88.21 L178.25,86.09 L178.50,83.63 L178.75,80.69 L179.00,77.05 L179.25,72.27 L179.50,65.27 L179.53,64.17 L179.65,58.75 L179.75,63.39 L179.77,64.17 L180.00,71.10 L180.25,76.21 L180.50,80.03 L180.75,83.08 L181.00,85.62 L181.25,87.80 L181.50,89.70 L181.75,91.39 L182.00,92.91 L182.25,94.28 L182.50,95.53 L182.75,96.69 L183.00,97.76 L183.25,98.75 L183.50,99.67 L183.75,100.54 L184.00,101.35 L184.25,102.11 L184.50,102.83 L184.75,103.51 L185.00,104.15 L185.25,104.75 L185.50,105.33 L185.75,105.87 L186.00,106.38 L186.25,106.87 L186.50,107.33 L186.75,107.77 L187.00,108.18 L187.25,108.57 L187.50,108.94 L187.75,109.28 L188.00,109.61 L188.25,109.92 L188.50,110.21 L188.75,110.47 L189.00,110.72 L189.25,110.96 L189.50,111.17 L189.75,111.37 L190.00,111.55 L190.25,111.71 L190.50,111.86 L190.75,111.99 L191.00,112.11 L191.25,112.21 L191.50,112.29 L191.75,112.36 L192.00,112.41 L192.25,112.45 L192.50,112.48 L192.75,112.49 L193.00,112.48 L193.25,112.46 L193.50,112.43 L193.75,112.39 L194.00,112.32 L194.25,112.25 L194.50,112.16 L194.75,112.06 L195.00,111.95 L195.25,111.82 L195.50,111.69 L195.75,111.53 L196.00,111.37 L196.25,111.19 L196.50,111.00 L196.75,110.80 L197.00,110.58 L197.25,110.35 L197.50,110.11 L197.75,109.86 L198.00,109.59 L198.25,109.31 L198.50,109.02 L198.75,108.71 L199.00,108.39 L199.25,108.06 L199.50,107.71 L199.75,107.35 L200.00,106.97 L200.25,106.57 L200.50,106.16 L200.75,105.74 L201.00,105.29 L201.25,104.83 L201.50,104.34 L201.75,103.84 L202.00,103.32 L202.25,102.77 L202.50,102.19 L202.75,101.60 L203.00,100.97 L203.25,100.31 L203.50,99.62 L203.75,98.89 L204.00,98.13 L204.25,97.32 L204.50,96.46 L204.75,95.55 L205.00,94.58 L205.25,93.54 L205.50,92.42 L205.75,91.22 L206.00,89.90 L206.25,88.47 L206.50,86.88 L206.75,85.10 L207.00,83.10 L207.25,80.78 L207.50,78.06 L207.75,74.74 L208.00,70.50 L208.25,64.62 L208.30,63.11 L208.42,58.75 L208.50,61.79 L208.54,63.11 L208.75,68.63 L209.00,73.34 L209.25,76.94 L209.50,79.86 L209.75,82.30 L210.00,84.41 L210.25,86.26 L210.50,87.92 L210.75,89.41 L211.00,90.76 L211.25,92.01 L211.50,93.16 L211.75,94.23 L212.00,95.23 L212.25,96.16 L212.50,97.04 L212.75,97.87 L213.00,98.66 L213.25,99.41 L213.50,100.12 L213.75,100.80 L214.00,101.45 L214.25,102.07 L214.50,102.66 L214.75,103.23 L215.00,103.78 L215.25,104.31 L215.50,104.82 L215.75,105.31 L216.00,105.78 L216.25,106.24 L216.50,106.68 L216.75,107.10 L217.00,107.52 L217.25,107.92 L217.50,108.31 L217.75,108.68 L218.00,109.05 L218.25,109.40 L218.50,109.74 L218.75,110.07 L219.00,110.39 L219.25,110.71 L219.50,111.01 L219.75,111.30 L220.00,111.59 L220.25,111.86 L220.50,112.13 L220.75,112.39 L221.00,112.63 L221.25,112.87 L221.50,113.11 L221.75,113.33 L222.00,113.54 L222.25,113.75 L222.50,113.95 L222.75,114.13 L223.00,114.31 L223.25,114.48 L223.50,114.64 L223.75,114.80 L224.00,114.94 L224.25,115.07 L224.50,115.19 L224.75,115.30 L225.00,115.40 L225.25,115.49 L225.50,115.57 L225.75,115.63 L226.00,115.68 L226.25,115.72 L226.50,115.75 L226.75,115.76 L227.00,115.75 L227.25,115.73 L227.50,115.70 L227.75,115.64 L228.00,115.57 L228.25,115.48 L228.50,115.37 L228.75,115.24 L229.00,115.09 L229.25,114.91 L229.50,114.71 L229.75,114.49 L230.00,114.24 L230.25,113.96 L230.50,113.65 L230.75,113.31 L231.00,112.94 L231.25,112.54 L231.50,112.10 L231.75,111.62 L232.00,111.10 L232.25,110.54 L232.50,109.94 L232.75,109.28 L233.00,108.57 L233.25,107.80 L233.50,106.96 L233.75,106.05 L234.00,105.07 L234.25,103.99 L234.50,102.82 L234.75,101.52 L235.00,100.08 L235.25,98.48 L235.50,96.67 L235.75,94.60 L236.00,92.19 L236.25,89.32 L236.50,85.76 L236.75,81.11 L237.00,74.38 L237.07,71.81 L237.19,66.07 L237.25,69.21 L237.31,71.81 L237.50,77.98 L237.75,83.52 L238.00,87.58 L238.25,90.77 L238.50,93.41 L238.75,95.65 L239.00,97.60 L239.25,99.32 L239.50,100.86 L239.75,102.24 L240.00,103.51 L240.25,104.67 L240.50,105.74 L240.75,106.73 L241.00,107.66 L241.25,108.52 L241.50,109.33 L241.75,110.10 L242.00,110.82 L242.25,111.50 L242.50,112.14 L242.75,112.75 L243.00,113.34 L243.25,113.89 L243.50,114.42 L243.75,114.93 L244.00,115.41 L244.25,115.88 L244.50,116.32 L244.75,116.75 L245.00,117.16 L245.25,117.56 L245.50,117.94 L245.75,118.31 L246.00,118.67 L246.25,119.01 L246.50,119.34 L246.75,119.66 L247.00,119.98 L247.25,120.28 L247.50,120.57 L247.75,120.86 L248.00,121.13 L248.25,121.40 L248.50,121.66 L248.75,121.92 L249.00,122.16 L249.25,122.41 L249.50,122.64 L249.75,122.82 L250.00,122.99 L250.25,123.17 L250.50,123.34 L250.75,123.51 L251.00,123.68 L251.25,123.85 L251.50,124.02 L251.75,124.19 L252.00,124.36 L252.25,124.53 L252.50,124.71 L252.75,124.89 L253.00,125.07 L253.25,125.25 L253.50,125.43 L253.75,125.62 L254.00,125.82 L254.25,126.01 L254.50,126.21 L254.75,126.42 L255.00,126.63 L255.25,126.83 L255.50,127.03 L255.75,127.22 L256.00,127.40 L256.25,127.58 L256.50,127.75 L256.75,127.92 L257.00,128.09 L257.25,128.26 L257.50,128.42 L257.75,128.59 L258.00,128.75 L258.25,128.91 L258.50,129.07 L258.75,129.22 L259.00,129.37 L259.25,129.52 L259.50,129.67 L259.75,129.81 L260.00,129.96 L260.25,130.10 L260.50,130.23 L260.75,130.37 L261.00,130.50 L261.25,130.63 L261.50,130.76 L261.75,130.88 L262.00,131.00 L262.25,131.12 L262.50,131.23 L262.75,131.35 L263.00,131.46 L263.25,131.57 L263.50,131.68 L263.75,131.79 L264.00,131.89 L264.25,131.99 L264.50,132.09 L264.75,132.18 L265.00,132.27 L265.25,132.35 L265.50,132.44 L265.75,132.52 L266.00,132.59 L266.25,132.66 L266.50,132.72 L266.75,132.78 L267.00,132.84 L267.25,132.90 L267.50,132.95 L267.75,133.01 L268.00,133.06 L268.25,133.12 L268.50,133.18 L268.75,133.25 L269.00,133.31 L269.25,133.38 L269.50,133.46 L269.75,133.52 L270.00,133.58 L270.25,133.64 L270.50,133.70 L270.75,133.78 L271.00,133.88 L271.25,134.00 L271.50,134.15 L271.75,134.36 L272.00,135.14 L272.25,136.00 L272.50,136.39 L272.75,136.68 L273.00,136.92 L273.25,137.12 L273.50,137.30 L273.75,137.46 L274.00,137.61 L274.25,137.73 L274.50,137.85 L274.75,137.95 L275.00,138.05 L275.25,138.14 L275.50,138.23 L275.75,138.33 L276.00,138.44 L276.25,138.56 L276.50,138.69 L276.75,138.85 L277.00,139.02 L277.25,139.22 L277.50,139.43 L277.75,139.76 L278.00,140.30 L278.25,142.95 L278.50,150.50 L278.75,158.03 L279.00,161.54 L279.25,163.75 L279.50,165.35 L279.75,166.63 L280.00,167.67 L280.25,168.53 L280.50,169.30 L280.75,169.99 L281.00,170.62 L281.25,171.19 L281.50,171.71 L281.75,172.18 L282.00,172.61 L282.25,173.00 L282.50,173.36 L282.75,173.68 L283.00,173.99 L283.25,174.27 L283.50,174.53 L283.75,174.77 L284.00,175.00 L284.25,175.22 L284.50,175.43 L284.75,175.64 L285.00,175.84 L285.25,176.03 L285.50,176.22 L285.75,176.40 L286.00,176.57 L286.25,176.74 L286.50,176.91 L286.75,177.07 L287.00,177.24 L287.25,177.40 L287.50,177.55 L287.75,177.71 L288.00,177.87 L288.25,178.02 L288.50,178.18 L288.75,178.34 L289.00,178.50 L289.25,178.66 L289.50,178.82 L289.75,178.97 L290.00,179.12 L290.25,179.27 L290.50,179.42 L290.75,179.57 L291.00,179.71 L291.25,179.86 L291.50,180.00 L291.75,180.14 L292.00,180.29 L292.25,180.43 L292.50,180.58 L292.75,180.73 L293.00,180.88 L293.25,181.03 L293.50,181.18 L293.75,181.34 L294.00,181.50 L294.25,181.66 L294.50,181.82 L294.75,181.98 L295.00,182.15 L295.25,182.31 L295.50,182.47 L295.75,182.64 L296.00,182.80 L296.25,182.97 L296.50,183.14 L296.75,183.31 L297.00,183.49 L297.25,183.66 L297.50,183.84 L297.75,184.03 L298.00,184.21 L298.25,184.40 L298.50,184.60 L298.75,184.80 L299.00,185.00 L299.25,185.21 L299.50,185.42 L299.75,185.64 L300.00,185.87 L300.25,186.10 L300.50,186.34 L300.75,186.58 L301.00,186.82 L301.25,187.07 L301.50,187.32 L301.75,187.58 L302.00,187.84 L302.25,188.10 L302.50,188.36 L302.75,188.63 L303.00,188.90 L303.25,189.17 L303.50,189.45 L303.75,189.72 L304.00,190.00 L304.25,190.28 L304.50,190.55 L304.75,190.83 L305.00,191.11 L305.25,191.39 L305.50,191.68 L305.75,191.96 L306.00,192.25 L306.25,192.55 L306.50,192.85 L306.75,193.15 L307.00,193.46 L307.25,193.78 L307.50,194.11 L307.75,194.44 L308.00,194.78 L308.25,195.13 L308.50,195.49 L308.75,195.87 L309.00,196.25 L309.25,196.65 L309.50,197.07 L309.75,197.51 L310.00,197.96 L310.25,198.44 L310.50,198.92 L310.75,199.42 L311.00,199.94 L311.25,200.46 L311.50,200.99 L311.75,201.53 L312.00,202.08 L312.25,202.63 L312.50,203.19 L312.75,203.75 L313.00,204.31 L313.25,204.88 L313.50,205.45 L313.75,206.04 L314.00,206.65 L314.25,207.27 L314.50,207.91 L314.75,208.58 L315.00,209.27 L315.25,210.00 L315.50,210.76 L315.75,211.57 L316.00,212.42 L316.25,213.31 L316.50,214.25 L316.75,215.23 L317.00,216.25 L317.25,217.31 L317.50,218.42 L317.75,219.60 L318.00,220.86 L318.25,222.24 L318.50,223.75 L318.75,225.48 L319.00,227.47 L319.25,229.66 L319.50,232.00" stroke="#c06b59"/>
<path d="M70.50,232.00 L70.75,228.96 L71.00,226.16 L71.25,224.50 L71.50,223.76 L71.75,223.13 L72.00,222.59 L72.25,222.12 L72.50,221.73 L72.75,221.39 L73.00,221.09 L73.25,220.82 L73.50,220.57 L73.75,220.32 L74.00,220.07 L74.25,219.80 L74.50,219.50 L74.75,219.15 L75.00,218.75 L75.25,218.32 L75.50,217.89 L75.75,217.46 L76.00,217.02 L76.25,216.58 L76.50,216.13 L76.75,215.67 L77.00,215.19 L77.25,214.70 L77.50,214.19 L77.75,213.65 L78.00,213.10 L78.25,212.51 L78.50,211.90 L78.75,211.25 L79.00,210.56 L79.25,209.82 L79.50,209.02 L79.75,208.14 L80.00,207.18 L80.25,206.14 L80.50,205.00 L80.75,203.45 L81.00,201.44 L81.25,199.35 L81.50,197.58 L81.75,196.50 L82.00,195.95 L82.25,195.49 L82.50,195.11 L82.75,194.79 L83.00,194.51 L83.25,194.25 L83.50,194.01 L83.75,193.75 L84.00,193.51 L84.25,193.31 L84.50,193.14 L84.75,192.98 L85.00,192.80 L85.25,192.59 L85.50,192.33 L85.75,192.00 L86.00,191.35 L86.25,190.33 L86.50,189.17 L86.75,188.15 L87.00,187.50 L87.25,187.15 L87.50,186.84 L87.75,186.57 L88.00,186.33 L88.25,186.11 L88.50,185.92 L88.75,185.74 L89.00,185.58 L89.25,185.43 L89.50,185.29 L89.75,185.15 L90.00,185.00 L90.25,184.85 L90.50,184.71 L90.75,184.58 L91.00,184.45 L91.25,184.33 L91.50,184.21 L91.75,184.09 L92.00,183.98 L92.25,183.87 L92.50,183.77 L92.75,183.66 L93.00,183.56 L93.25,183.47 L93.50,183.37 L93.75,183.28 L94.00,183.18 L94.25,183.09 L94.50,182.99 L94.75,182.90 L95.00,182.81 L95.25,182.71 L95.50,182.61 L95.75,182.52 L96.00,182.42 L96.25,182.31 L96.50,182.21 L96.75,182.10 L97.00,181.99 L97.25,181.87 L97.50,181.75 L97.75,181.63 L98.00,181.50 L98.25,181.38 L98.50,181.26 L98.75,181.14 L99.00,181.01 L99.25,180.89 L99.50,180.76 L99.75,180.64 L100.00,180.51 L100.25,180.38 L100.50,180.25 L100.75,180.12 L101.00,179.99 L101.25,179.86 L101.50,179.72 L101.75,179.58 L102.00,179.44 L102.25,179.29 L102.50,179.15 L102.75,179.00 L103.00,178.85 L103.25,178.69 L103.50,178.53 L103.75,178.37 L104.00,178.20 L104.25,178.03 L104.50,177.86 L104.75,177.68 L105.00,177.50 L105.25,177.31 L105.50,177.12 L105.75,176.92 L106.00,176.71 L106.25,176.50 L106.50,176.28 L106.75,176.05 L107.00,175.82 L107.25,175.58 L107.50,175.33 L107.75,175.08 L108.00,174.82 L108.25,174.56 L108.50,174.28 L108.75,174.00 L109.00,173.72 L109.25,173.42 L109.50,173.12 L109.75,172.81 L110.00,172.50 L110.25,172.18 L110.50,171.85 L110.75,171.51 L111.00,171.16 L111.25,170.80 L111.50,170.43 L111.75,170.05 L112.00,169.66 L112.25,169.25 L112.50,168.84 L112.75,168.40 L113.00,167.95 L113.25,167.49 L113.50,167.01 L113.75,166.51 L114.00,166.00 L114.25,165.47 L114.50,164.91 L114.75,164.34 L115.00,163.75 L115.25,163.12 L115.50,162.44 L115.75,161.70 L116.00,160.92 L116.25,160.22 L116.50,159.53 L116.75,158.85 L117.00,158.20 L117.25,157.56 L117.50,156.94 L117.75,156.34 L118.00,155.75 L118.25,155.16 L118.50,154.56 L118.75,153.94 L119.00,153.26 L119.25,152.15 L119.50,150.93 L119.75,149.60 L120.00,148.13 L120.25,146.48 L120.50,144.62 L120.75,142.49 L121.00,140.00 L121.25,136.99 L121.50,133.20 L121.75,128.12 L121.99,120.76 L122.00,120.36 L122.11,115.04 L122.23,120.76 L122.25,121.53 L122.50,128.83 L122.75,133.71 L123.00,137.38 L123.25,140.31 L123.50,142.76 L123.75,144.84 L124.00,146.66 L124.25,148.28 L124.50,149.72 L124.75,151.02 L125.00,152.20 L125.25,153.28 L125.50,154.27 L125.75,155.19 L126.00,156.03 L126.25,156.82 L126.50,157.54 L126.75,158.22 L127.00,158.85 L127.25,159.44 L127.50,159.98 L127.75,160.49 L128.00,160.96 L128.25,161.40 L128.50,161.81 L128.75,162.19 L129.00,162.54 L129.25,162.86 L129.50,163.16 L129.75,163.44 L130.00,163.69 L130.25,163.93 L130.50,164.14 L130.75,164.33 L131.00,164.50 L131.25,164.65 L131.50,164.79 L131.75,164.91 L132.00,165.01 L132.25,165.10 L132.50,165.17 L132.75,165.23 L133.00,165.28 L133.25,165.31 L133.50,165.33 L133.75,165.34 L134.00,165.33 L134.25,165.31 L134.50,165.28 L134.75,165.24 L135.00,165.19 L135.25,165.13 L135.50,165.06 L135.75,164.98 L136.00,164.89 L136.25,164.79 L136.50,164.68 L136.75,164.56 L137.00,164.43 L137.25,164.29 L137.50,164.14 L137.75,163.99 L138.00,163.82 L138.25,163.65 L138.50,163.46 L138.75,163.27 L139.00,163.07 L139.25,162.86 L139.50,162.63 L139.75,162.40 L140.00,162.16 L140.25,161.91 L140.50,161.65 L140.75,161.38 L141.00,161.09 L141.25,160.80 L141.50,160.49 L141.75,160.17 L142.00,159.84 L142.25,159.49 L142.50,159.13 L142.75,158.76 L143.00,158.37 L143.25,157.96 L143.50,157.53 L143.75,157.09 L144.00,156.63 L144.25,156.15 L144.50,155.64 L144.75,155.12 L145.00,154.56 L145.25,153.98 L145.50,153.37 L145.75,152.73 L146.00,152.05 L146.25,151.33 L146.50,150.57 L146.75,149.77 L147.00,148.91 L147.25,147.99 L147.50,147.00 L147.75,145.94 L148.00,144.79 L148.25,143.54 L148.50,142.16 L148.75,140.64 L149.00,138.94 L149.25,137.01 L149.50,134.79 L149.75,132.17 L150.00,128.99 L150.25,124.94 L150.50,119.36 L150.75,110.37 L150.76,109.87 L150.88,102.00 L151.00,109.87 L151.25,119.09 L151.50,124.75 L151.75,128.85 L152.00,132.05 L152.25,134.69 L152.50,136.92 L152.75,138.85 L153.00,140.55 L153.25,142.07 L153.50,143.44 L153.75,144.68 L154.00,145.82 L154.25,146.86 L154.50,147.83 L154.75,148.72 L155.00,149.55 L155.25,150.32 L155.50,151.05 L155.75,151.72 L156.00,152.35 L156.25,152.94 L156.50,153.49 L156.75,154.00 L157.00,154.49 L157.25,154.94 L157.50,155.36 L157.75,155.75 L158.00,156.12 L158.25,156.46 L158.50,156.77 L158.75,157.07 L159.00,157.34 L159.25,157.58 L159.50,157.81 L159.75,158.02 L160.00,158.20 L160.25,158.37 L160.50,158.52 L160.75,158.65 L161.00,158.77 L161.25,158.87 L161.50,158.95 L161.75,159.01 L162.00,159.06 L162.25,159.10 L162.50,159.12 L162.75,159.13 L163.00,159.12 L163.25,159.10 L163.50,159.07 L163.75,159.03 L164.00,158.97 L164.25,158.90 L164.50,158.82 L164.75,158.73 L165.00,158.63 L165.25,158.51 L165.50,158.39 L165.75,158.25 L166.00,158.10 L166.25,157.95 L166.50,157.78 L166.75,157.60 L167.00,157.42 L167.25,157.22 L167.50,157.01 L167.75,156.79 L168.00,156.56 L168.25,156.32 L168.50,156.07 L168.75,155.81 L169.00,155.54 L169.25,155.26 L169.50,154.97 L169.75,154.66 L170.00,154.35 L170.25,154.02 L170.50,153.68 L170.75,153.33 L171.00,152.96 L171.25,152.58 L171.50,152.18 L171.75,151.77 L172.00,151.35 L172.25,150.90 L172.50,150.44 L172.75,149.97 L173.00,149.47 L173.25,148.95 L173.50,148.40 L173.75,147.84 L174.00,147.25 L174.25,146.62 L174.50,145.97 L174.75,145.29 L175.00,144.57 L175.25,143.81 L175.50,143.01 L175.75,142.16 L176.00,141.25 L176.25,140.28 L176.50,139.24 L176.75,138.12 L177.00,136.91 L177.25,135.58 L177.50,134.13 L177.75,132.51 L178.00,130.70 L178.25,128.63 L178.50,126.23 L178.75,123.36 L179.00,119.81 L179.25,115.15 L179.50,108.34 L179.53,107.27 L179.65,102.00 L179.75,106.51 L179.77,107.27 L180.00,114.02 L180.25,118.99 L180.50,122.72 L180.75,125.70 L181.00,128.18 L181.25,130.30 L181.50,132.16 L181.75,133.81 L182.00,135.29 L182.25,136.64 L182.50,137.87 L182.75,139.00 L183.00,140.05 L183.25,141.02 L183.50,141.94 L183.75,142.79 L184.00,143.59 L184.25,144.35 L184.50,145.06 L184.75,145.74 L185.00,146.38 L185.25,146.99 L185.50,147.56 L185.75,148.11 L186.00,148.63 L186.25,149.13 L186.50,149.61 L186.75,150.06 L187.00,150.49 L187.25,150.90 L187.50,151.29 L187.75,151.66 L188.00,152.01 L188.25,152.34 L188.50,152.66 L188.75,152.96 L189.00,153.25 L189.25,153.51 L189.50,153.77 L189.75,154.00 L190.00,154.23 L190.25,154.43 L190.50,154.63 L190.75,154.80 L191.00,154.97 L191.25,155.12 L191.50,155.25 L191.75,155.37 L192.00,155.48 L192.25,155.57 L192.50,155.65 L192.75,155.71 L193.00,155.77 L193.25,155.80 L193.50,155.83 L193.75,155.84 L194.00,155.84 L194.25,155.82 L194.50,155.79 L194.75,155.75 L195.00,155.69 L195.25,155.62 L195.50,155.53 L195.75,155.44 L196.00,155.33 L196.25,155.20 L196.50,155.06 L196.75,154.91 L197.00,154.75 L197.25,154.57 L197.50,154.38 L197.75,154.17 L198.00,153.95 L198.25,153.71 L198.50,153.46 L198.75,153.20 L199.00,152.92 L199.25,152.63 L199.50,152.32 L199.75,151.99 L200.00,151.65 L200.25,151.29 L200.50,150.91 L200.75,150.52 L201.00,150.11 L201.25,149.67 L201.50,149.22 L201.75,148.74 L202.00,148.25 L202.25,147.72 L202.50,147.18 L202.75,146.60 L203.00,146.00 L203.25,145.36 L203.50,144.70 L203.75,143.99 L204.00,143.24 L204.25,142.45 L204.50,141.61 L204.75,140.72 L205.00,139.76 L205.25,138.74 L205.50,137.63 L205.75,136.43 L206.00,135.13 L206.25,133.69 L206.50,132.10 L206.75,130.31 L207.00,128.28 L207.25,125.93 L207.50,123.13 L207.75,119.69 L208.00,115.21 L208.25,108.78 L208.30,107.09 L208.42,102.00 L208.50,105.58 L208.54,107.09 L208.75,113.20 L209.00,118.23 L209.25,121.98 L209.50,124.98 L209.75,127.48 L210.00,129.62 L210.25,131.48 L210.50,133.14 L210.75,134.63 L211.00,135.98 L211.25,137.22 L211.50,138.36 L211.75,139.42 L212.00,140.40 L212.25,141.32 L212.50,142.19 L212.75,143.00 L213.00,143.77 L213.25,144.50 L213.50,145.19 L213.75,145.85 L214.00,146.48 L214.25,147.08 L214.50,147.65 L214.75,148.19 L215.00,148.72 L215.25,149.22 L215.50,149.70 L215.75,150.16 L216.00,150.61 L216.25,151.04 L216.50,151.45 L216.75,151.84 L217.00,152.22 L217.25,152.59 L217.50,152.94 L217.75,153.28 L218.00,153.61 L218.25,153.92 L218.50,154.22 L218.75,154.51 L219.00,154.79 L219.25,155.05 L219.50,155.31 L219.75,155.55 L220.00,155.78 L220.25,156.01 L220.50,156.22 L220.75,156.42 L221.00,156.61 L221.25,156.78 L221.50,156.95 L221.75,157.11 L222.00,157.26 L222.25,157.39 L222.50,157.51 L222.75,157.63 L223.00,157.73 L223.25,157.82 L223.50,157.90 L223.75,157.96 L224.00,158.02 L224.25,158.06 L224.50,158.09 L224.75,158.10 L225.00,158.11 L225.25,158.10 L225.50,158.07 L225.75,158.04 L226.00,157.98 L226.25,157.92 L226.50,157.84 L226.75,157.74 L227.00,157.63 L227.25,157.50 L227.50,157.35 L227.75,157.19 L228.00,157.01 L228.25,156.82 L228.50,156.60 L228.75,156.37 L229.00,156.11 L229.25,155.84 L229.50,155.54 L229.75,155.22 L230.00,154.88 L230.25,154.52 L230.50,154.13 L230.75,153.72 L231.00,153.28 L231.25,152.81 L231.50,152.31 L231.75,151.78 L232.00,151.21 L232.25,150.61 L232.50,149.97 L232.75,149.29 L233.00,148.56 L233.25,147.79 L233.50,146.95 L233.75,146.06 L234.00,145.10 L234.25,144.06 L234.50,142.93 L234.75,141.70 L235.00,140.35 L235.25,138.86 L235.50,137.19 L235.75,135.30 L236.00,133.13 L236.25,130.58 L236.50,127.49 L236.75,123.60 L237.00,118.31 L237.07,116.42 L237.19,112.49 L237.25,114.58 L237.31,116.42 L237.50,121.08 L237.75,125.60 L238.00,129.06 L238.25,131.86 L238.50,134.22 L238.75,136.25 L239.00,138.03 L239.25,139.61 L239.50,141.04 L239.75,142.34 L240.00,143.53 L240.25,144.63 L240.50,145.64 L240.75,146.59 L241.00,147.47 L241.25,148.30 L241.50,149.08 L241.75,149.81 L242.00,150.51 L242.25,151.17 L242.50,151.79 L242.75,152.38 L243.00,152.95 L243.25,153.48 L243.50,154.00 L243.75,154.49 L244.00,154.95 L244.25,155.40 L244.50,155.83 L244.75,156.24 L245.00,156.63 L245.25,157.01 L245.50,157.37 L245.75,157.71 L246.00,158.04 L246.25,158.36 L246.50,158.66 L246.75,158.95 L247.00,159.23 L247.25,159.49 L247.50,159.74 L247.75,159.98 L248.00,160.21 L248.25,160.43 L248.50,160.64 L248.75,160.83 L249.00,161.02 L249.25,161.19 L249.50,161.35 L249.75,161.51 L250.00,161.65 L250.25,161.78 L250.50,161.90 L250.75,162.01 L251.00,162.11 L251.25,162.20 L251.50,162.28 L251.75,162.34 L252.00,162.40 L252.25,162.44 L252.50,162.48 L252.75,162.50 L253.00,162.51 L253.25,162.51 L253.50,162.49 L253.75,162.47 L254.00,162.43 L254.25,162.38 L254.50,162.31 L254.75,162.24 L255.00,162.15 L255.25,162.04 L255.50,161.92 L255.75,161.79 L256.00,161.64 L256.25,161.48 L256.50,161.30 L256.75,161.11 L257.00,160.90 L257.25,160.67 L257.50,160.43 L257.75,160.17 L258.00,159.89 L258.25,159.59 L258.50,159.27 L258.75,158.93 L259.00,158.57 L259.25,158.18 L259.50,157.78 L259.75,157.35 L260.00,156.89 L260.25,156.41 L260.50,155.90 L260.75,155.35 L261.00,154.78 L261.25,154.17 L261.50,153.52 L261.75,152.84 L262.00,152.11 L262.25,151.33 L262.50,150.50 L262.75,149.61 L263.00,148.65 L263.25,147.62 L263.50,146.50 L263.75,145.29 L264.00,143.95 L264.25,142.48 L264.50,140.85 L264.75,139.00 L265.00,136.88 L265.25,134.41 L265.50,131.44 L265.75,127.73 L265.84,126.13 L265.96,123.69 L266.00,124.55 L266.08,126.13 L266.25,129.02 L266.50,132.46 L266.75,135.25 L267.00,137.60 L267.25,139.62 L267.50,141.40 L267.75,142.99 L268.00,144.42 L268.25,145.72 L268.50,146.91 L268.75,148.01 L269.00,149.03 L269.25,149.99 L269.50,150.88 L269.75,151.78 L270.00,152.70 L270.25,153.63 L270.50,154.60 L270.75,155.61 L271.00,156.64 L271.25,157.71 L271.50,158.81 L271.75,159.93 L272.00,161.06 L272.25,162.19 L272.50,163.32 L272.75,164.00 L273.00,164.64 L273.25,165.25 L273.50,165.84 L273.75,166.41 L274.00,166.95 L274.25,167.48 L274.50,167.98 L274.75,168.45 L275.00,168.91 L275.25,169.35 L275.50,169.77 L275.75,170.17 L276.00,170.55 L276.25,170.91 L276.50,171.25 L276.75,171.58 L277.00,171.90 L277.25,172.20 L277.50,172.50 L277.75,172.78 L278.00,173.06 L278.25,173.33 L278.50,173.58 L278.75,173.84 L279.00,174.08 L279.25,174.32 L279.50,174.55 L279.75,174.77 L280.00,175.00 L280.25,175.21 L280.50,175.43 L280.75,175.63 L281.00,175.84 L281.25,176.05 L281.50,176.25 L281.75,176.45 L282.00,176.65 L282.25,176.85 L282.50,177.04 L282.75,177.23 L283.00,177.42 L283.25,177.61 L283.50,177.79 L283.75,177.98 L284.00,178.16 L284.25,178.33 L284.50,178.51 L284.75,178.68 L285.00,178.85 L285.25,179.02 L285.50,179.18 L285.75,179.35 L286.00,179.51 L286.25,179.66 L286.50,179.82 L286.75,179.97 L287.00,180.13 L287.25,180.27 L287.50,180.42 L287.75,180.56 L288.00,180.71 L288.25,180.85 L288.50,180.98 L288.75,181.12 L289.00,181.25 L289.25,181.38 L289.50,181.51 L289.75,181.63 L290.00,181.75 L290.25,181.87 L290.50,181.98 L290.75,182.10 L291.00,182.21 L291.25,182.32 L291.50,182.43 L291.75,182.53 L292.00,182.64 L292.25,182.74 L292.50,182.84 L292.75,182.94 L293.00,183.05 L293.25,183.15 L293.50,183.25 L293.75,183.35 L294.00,183.45 L294.25,183.55 L294.50,183.65 L294.75,183.75 L295.00,183.85 L295.25,183.96 L295.50,184.06 L295.75,184.17 L296.00,184.28 L296.25,184.39 L296.50,184.50 L296.75,184.61 L297.00,184.70 L297.25,184.79 L297.50,184.87 L297.75,184.95 L298.00,185.03 L298.25,185.11 L298.50,185.20 L298.75,185.30 L299.00,185.41 L299.25,185.54 L299.50,185.68 L299.75,185.85 L300.00,186.03 L300.25,186.25 L300.50,186.75 L300.75,187.61 L301.00,188.61 L301.25,189.48 L301.50,190.00 L301.75,190.23 L302.00,190.42 L302.25,190.57 L302.50,190.69 L302.75,190.78 L303.00,190.86 L303.25,190.93 L303.50,191.00 L303.75,191.07 L304.00,191.16 L304.25,191.26 L304.50,191.39 L304.75,191.55 L305.00,191.75 L305.25,192.00 L305.50,192.45 L305.75,193.25 L306.00,194.37 L306.25,195.79 L306.50,197.50 L306.75,201.29 L307.00,205.00 L307.25,206.56 L307.50,207.86 L307.75,208.95 L308.00,209.85 L308.25,210.62 L308.50,211.29 L308.75,211.90 L309.00,212.50 L309.25,213.08 L309.50,213.63 L309.75,214.14 L310.00,214.62 L310.25,215.08 L310.50,215.51 L310.75,215.92 L311.00,216.31 L311.25,216.69 L311.50,217.05 L311.75,217.40 L312.00,217.74 L312.25,218.08 L312.50,218.41 L312.75,218.75 L313.00,219.08 L313.25,219.40 L313.50,219.71 L313.75,220.01 L314.00,220.30 L314.25,220.58 L314.50,220.86 L314.75,221.13 L315.00,221.40 L315.25,221.67 L315.50,221.93 L315.75,222.19 L316.00,222.46 L316.25,222.73 L316.50,223.00 L316.75,223.25 L317.00,223.46 L317.25,223.68 L317.50,223.92 L317.75,224.21 L318.00,224.60 L318.25,225.21 L318.50,226.15 L318.75,227.34 L319.00,228.75 L319.25,230.32 L319.50,232.00" stroke="#123e52"/>
<path d="M61.50,177.75 L61.75,177.63 L62.00,177.50 L62.25,177.37 L62.50,177.24 L62.75,177.11 L63.00,176.97 L63.25,176.84 L63.50,176.70 L63.75,176.57 L64.00,176.43 L64.25,176.30 L64.50,176.16 L64.75,176.02 L65.00,175.88 L65.25,175.74 L65.50,175.60 L65.75,175.46 L66.00,175.32 L66.25,175.18 L66.50,175.04 L66.75,174.89 L67.00,174.75 L67.25,174.61 L67.50,174.46 L67.75,174.32 L68.00,174.17 L68.25,174.03 L68.50,173.88 L68.75,173.74 L69.00,173.59 L69.25,173.44 L69.50,173.29 L69.75,173.15 L70.00,173.00 L70.25,172.85 L70.50,172.71 L70.75,172.57 L71.00,172.43 L71.25,172.29 L71.50,172.15 L71.75,172.01 L72.00,171.88 L72.25,171.74 L72.50,171.61 L72.75,171.48 L73.00,171.34 L73.25,171.21 L73.50,171.07 L73.75,170.94 L74.00,170.80 L74.25,170.67 L74.50,170.53 L74.75,170.39 L75.00,170.25 L75.25,170.11 L75.50,169.96 L75.75,169.82 L76.00,169.67 L76.25,169.51 L76.50,169.36 L76.75,169.20 L77.00,169.04 L77.25,168.87 L77.50,168.70 L77.75,168.53 L78.00,168.35 L78.25,168.17 L78.50,167.98 L78.75,167.79 L79.00,167.59 L79.25,167.39 L79.50,167.18 L79.75,166.97 L80.00,166.75 L80.25,166.52 L80.50,166.28 L80.75,166.03 L81.00,165.77 L81.25,165.50 L81.50,165.22 L81.75,164.92 L82.00,164.62 L82.25,164.30 L82.50,163.97 L82.75,163.63 L83.00,163.27 L83.25,162.91 L83.50,162.53 L83.75,162.14 L84.00,161.74 L84.25,161.32 L84.50,160.89 L84.75,160.45 L85.00,160.00 L85.25,159.51 L85.50,158.98 L85.75,158.39 L86.00,157.77 L86.25,157.12 L86.50,156.43 L86.75,155.72 L87.00,154.99 L87.25,154.25 L87.50,153.50 L87.75,152.57 L88.00,151.65 L88.25,150.73 L88.50,149.81 L88.75,148.86 L89.00,147.87 L89.25,146.82 L89.50,145.67 L89.75,144.70 L90.00,143.68 L90.25,142.61 L90.50,141.48 L90.75,140.28 L91.00,139.00 L91.25,137.64 L91.50,136.19 L91.75,134.63 L92.00,132.94 L92.25,131.10 L92.50,129.10 L92.75,126.88 L93.00,124.40 L93.22,121.96 L93.25,121.60 L93.34,120.50 L93.46,121.96 L93.50,122.42 L93.75,125.12 L94.00,127.52 L94.25,129.67 L94.50,131.63 L94.75,133.42 L95.00,135.06 L95.25,136.58 L95.50,138.00 L95.75,139.32 L96.00,140.56 L96.25,141.72 L96.50,142.81 L96.75,143.84 L97.00,144.81 L97.25,145.73 L97.50,146.59 L97.75,147.41 L98.00,148.18 L98.25,148.90 L98.50,149.59 L98.75,150.23 L99.00,150.84 L99.25,151.41 L99.50,151.94 L99.75,152.43 L100.00,152.90 L100.25,153.32 L100.50,153.72 L100.75,154.08 L101.00,154.41 L101.25,154.71 L101.50,154.98 L101.75,155.22 L102.00,155.43 L102.25,155.61 L102.50,155.77 L102.75,155.90 L103.00,156.00 L103.25,156.08 L103.50,156.14 L103.75,156.17 L104.00,156.19 L104.25,156.18 L104.50,156.15 L104.75,156.10 L105.00,156.04 L105.25,155.95 L105.50,155.85 L105.75,155.74 L106.00,155.61 L106.25,155.46 L106.50,155.30 L106.75,155.13 L107.00,154.94 L107.25,154.74 L107.50,154.52 L107.75,154.30 L108.00,154.06 L108.25,153.82 L108.50,153.56 L108.75,153.29 L109.00,153.01 L109.25,152.71 L109.50,152.41 L109.75,152.10 L110.00,151.78 L110.25,151.44 L110.50,151.10 L110.75,150.74 L111.00,150.38 L111.25,150.00 L111.50,149.61 L111.75,149.22 L112.00,148.81 L112.25,148.38 L112.50,147.95 L112.75,147.50 L113.00,147.04 L113.25,146.57 L113.50,146.09 L113.75,145.59 L114.00,145.07 L114.25,144.54 L114.50,143.99 L114.75,143.43 L115.00,142.85 L115.25,142.25 L115.50,141.63 L115.75,140.99 L116.00,140.33 L116.25,139.64 L116.50,138.93 L116.75,138.20 L117.00,137.43 L117.25,136.64 L117.50,135.81 L117.75,134.95 L118.00,134.05 L118.25,133.11 L118.50,132.13 L118.75,131.10 L119.00,130.01 L119.25,128.87 L119.50,127.65 L119.75,126.37 L120.00,125.00 L120.25,123.54 L120.50,121.97 L120.75,120.28 L121.00,118.44 L121.25,116.43 L121.50,114.21 L121.75,111.74 L121.99,109.06 L122.00,108.94 L122.11,107.59 L122.23,109.06 L122.25,109.30 L122.50,112.05 L122.75,114.49 L123.00,116.68 L123.25,118.67 L123.50,120.49 L123.75,122.16 L124.00,123.72 L124.25,125.16 L124.50,126.51 L124.75,127.78 L125.00,128.98 L125.25,130.11 L125.50,131.18 L125.75,132.20 L126.00,133.17 L126.25,134.09 L126.50,134.96 L126.75,135.80 L127.00,136.60 L127.25,137.36 L127.50,138.09 L127.75,138.79 L128.00,139.46 L128.25,140.10 L128.50,140.71 L128.75,141.29 L129.00,141.85 L129.25,142.38 L129.50,142.89 L129.75,143.37 L130.00,143.83 L130.25,144.26 L130.50,144.67 L130.75,145.05 L131.00,145.41 L131.25,145.75 L131.50,146.06 L131.75,146.35 L132.00,146.62 L132.25,146.86 L132.50,147.08 L132.75,147.28 L133.00,147.46 L133.25,147.61 L133.50,147.74 L133.75,147.84 L134.00,147.93 L134.25,147.99 L134.50,148.03 L134.75,148.05 L135.00,148.05 L135.25,148.03 L135.50,147.99 L135.75,147.93 L136.00,147.85 L136.25,147.75 L136.50,147.64 L136.75,147.50 L137.00,147.35 L137.25,147.18 L137.50,146.99 L137.75,146.79 L138.00,146.57 L138.25,146.33 L138.50,146.08 L138.75,145.81 L139.00,145.53 L139.25,145.23 L139.50,144.92 L139.75,144.60 L140.00,144.26 L140.25,143.90 L140.50,143.53 L140.75,143.15 L141.00,142.75 L141.25,142.34 L141.50,141.91 L141.75,141.47 L142.00,141.01 L142.25,140.53 L142.50,140.04 L142.75,139.53 L143.00,139.01 L143.25,138.47 L143.50,137.91 L143.75,137.33 L144.00,136.72 L144.25,136.10 L144.50,135.46 L144.75,134.79 L145.00,134.10 L145.25,133.38 L145.50,132.63 L145.75,131.86 L146.00,131.05 L146.25,130.21 L146.50,129.33 L146.75,128.41 L147.00,127.45 L147.25,126.44 L147.50,125.38 L147.75,124.26 L148.00,123.08 L148.25,121.82 L148.50,120.49 L148.75,119.07 L149.00,117.55 L149.25,115.91 L149.50,114.14 L149.75,112.20 L150.00,110.08 L150.25,107.72 L150.50,105.06 L150.75,102.04 L150.76,101.91 L150.88,100.28 L151.00,101.91 L151.25,104.95 L151.50,107.62 L151.75,109.99 L152.00,112.12 L152.25,114.06 L152.50,115.84 L152.75,117.48 L153.00,119.00 L153.25,120.42 L153.50,121.75 L153.75,123.00 L154.00,124.18 L154.25,125.29 L154.50,126.34 L154.75,127.34 L155.00,128.29 L155.25,129.19 L155.50,130.05 L155.75,130.87 L156.00,131.65 L156.25,132.39 L156.50,133.10 L156.75,133.78 L157.00,134.42 L157.25,135.04 L157.50,135.62 L157.75,136.18 L158.00,136.71 L158.25,137.21 L158.50,137.68 L158.75,138.12 L159.00,138.54 L159.25,138.93 L159.50,139.30 L159.75,139.64 L160.00,139.95 L160.25,140.24 L160.50,140.50 L160.75,140.74 L161.00,140.95 L161.25,141.13 L161.50,141.29 L161.75,141.43 L162.00,141.54 L162.25,141.63 L162.50,141.69 L162.75,141.73 L163.00,141.75 L163.25,141.75 L163.50,141.72 L163.75,141.67 L164.00,141.61 L164.25,141.52 L164.50,141.42 L164.75,141.29 L165.00,141.15 L165.25,140.99 L165.50,140.82 L165.75,140.62 L166.00,140.41 L166.25,140.19 L166.50,139.95 L166.75,139.70 L167.00,139.43 L167.25,139.15 L167.50,138.85 L167.75,138.54 L168.00,138.22 L168.25,137.89 L168.50,137.54 L168.75,137.18 L169.00,136.80 L169.25,136.42 L169.50,136.02 L169.75,135.61 L170.00,135.18 L170.25,134.74 L170.50,134.29 L170.75,133.83 L171.00,133.35 L171.25,132.85 L171.50,132.35 L171.75,131.82 L172.00,131.28 L172.25,130.73 L172.50,130.16 L172.75,129.57 L173.00,128.96 L173.25,128.33 L173.50,127.68 L173.75,127.01 L174.00,126.31 L174.25,125.59 L174.50,124.85 L174.75,124.07 L175.00,123.27 L175.25,122.43 L175.50,121.56 L175.75,120.66 L176.00,119.71 L176.25,118.71 L176.50,117.67 L176.75,116.58 L177.00,115.42 L177.25,114.20 L177.50,112.91 L177.75,111.53 L178.00,110.06 L178.25,108.48 L178.50,106.77 L178.75,104.92 L179.00,102.89 L179.25,100.66 L179.50,98.16 L179.53,97.84 L179.65,96.51 L179.75,97.62 L179.77,97.84 L180.00,100.18 L180.25,102.46 L180.50,104.53 L180.75,106.41 L181.00,108.15 L181.25,109.75 L181.50,111.24 L181.75,112.64 L182.00,113.95 L182.25,115.18 L182.50,116.35 L182.75,117.45 L183.00,118.50 L183.25,119.51 L183.50,120.46 L183.75,121.37 L184.00,122.25 L184.25,123.09 L184.50,123.89 L184.75,124.67 L185.00,125.42 L185.25,126.14 L185.50,126.83 L185.75,127.50 L186.00,128.15 L186.25,128.77 L186.50,129.37 L186.75,129.96 L187.00,130.52 L187.25,131.07 L187.50,131.60 L187.75,132.11 L188.00,132.60 L188.25,133.08 L188.50,133.54 L188.75,133.98 L189.00,134.41 L189.25,134.82 L189.50,135.22 L189.75,135.60 L190.00,135.96 L190.25,136.31 L190.50,136.65 L190.75,136.96 L191.00,137.26 L191.25,137.55 L191.50,137.81 L191.75,138.06 L192.00,138.30 L192.25,138.51 L192.50,138.71 L192.75,138.89 L193.00,139.05 L193.25,139.19 L193.50,139.31 L193.75,139.41 L194.00,139.49 L194.25,139.55 L194.50,139.59 L194.75,139.60 L195.00,139.60 L195.25,139.58 L195.50,139.53 L195.75,139.46 L196.00,139.37 L196.25,139.26 L196.50,139.12 L196.75,138.97 L197.00,138.79 L197.25,138.59 L197.50,138.37 L197.75,138.13 L198.00,137.86 L198.25,137.58 L198.50,137.27 L198.75,136.94 L199.00,136.59 L199.25,136.22 L199.50,135.83 L199.75,135.42 L200.00,134.99 L200.25,134.53 L200.50,134.06 L200.75,133.56 L201.00,133.04 L201.25,132.50 L201.50,131.93 L201.75,131.34 L202.00,130.73 L202.25,130.09 L202.50,129.42 L202.75,128.73 L203.00,128.01 L203.25,127.26 L203.50,126.47 L203.75,125.65 L204.00,124.80 L204.25,123.90 L204.50,122.97 L204.75,121.98 L205.00,120.95 L205.25,119.86 L205.50,118.71 L205.75,117.50 L206.00,116.21 L206.25,114.84 L206.50,113.37 L206.75,111.79 L207.00,110.09 L207.25,108.24 L207.50,106.21 L207.75,103.98 L208.00,101.48 L208.25,98.65 L208.30,98.04 L208.42,96.50 L208.50,97.54 L208.54,98.04 L208.75,100.50 L209.00,103.11 L209.25,105.43 L209.50,107.53 L209.75,109.44 L210.00,111.19 L210.25,112.82 L210.50,114.32 L210.75,115.73 L211.00,117.05 L211.25,118.29 L211.50,119.47 L211.75,120.58 L212.00,121.63 L212.25,122.63 L212.50,123.59 L212.75,124.51 L213.00,125.38 L213.25,126.22 L213.50,127.02 L213.75,127.80 L214.00,128.54 L214.25,129.25 L214.50,129.94 L214.75,130.60 L215.00,131.24 L215.25,131.86 L215.50,132.45 L215.75,133.02 L216.00,133.57 L216.25,134.11 L216.50,134.62 L216.75,135.11 L217.00,135.59 L217.25,136.05 L217.50,136.49 L217.75,136.91 L218.00,137.31 L218.25,137.70 L218.50,138.07 L218.75,138.42 L219.00,138.76 L219.25,139.07 L219.50,139.37 L219.75,139.65 L220.00,139.92 L220.25,140.16 L220.50,140.39 L220.75,140.60 L221.00,140.78 L221.25,140.95 L221.50,141.10 L221.75,141.23 L222.00,141.34 L222.25,141.43 L222.50,141.50 L222.75,141.54 L223.00,141.57 L223.25,141.58 L223.50,141.56 L223.75,141.52 L224.00,141.47 L224.25,141.39 L224.50,141.29 L224.75,141.17 L225.00,141.02 L225.25,140.86 L225.50,140.68 L225.75,140.48 L226.00,140.25 L226.25,140.01 L226.50,139.75 L226.75,139.46 L227.00,139.16 L227.25,138.84 L227.50,138.50 L227.75,138.14 L228.00,137.76 L228.25,137.36 L228.50,136.94 L228.75,136.50 L229.00,136.05 L229.25,135.57 L229.50,135.08 L229.75,134.56 L230.00,134.03 L230.25,133.47 L230.50,132.89 L230.75,132.29 L231.00,131.66 L231.25,131.01 L231.50,130.34 L231.75,129.64 L232.00,128.91 L232.25,128.15 L232.50,127.36 L232.75,126.54 L233.00,125.68 L233.25,124.78 L233.50,123.84 L233.75,122.86 L234.00,121.82 L234.25,120.74 L234.50,119.59 L234.75,118.37 L235.00,117.09 L235.25,115.72 L235.50,114.25 L235.75,112.68 L236.00,110.98 L236.25,109.14 L236.50,107.12 L236.75,104.89 L237.00,102.41 L237.07,101.66 L237.19,100.31 L237.25,101.00 L237.31,101.66 L237.50,103.64 L237.75,105.99 L238.00,108.11 L238.25,110.04 L238.50,111.81 L238.75,113.45 L239.00,114.97 L239.25,116.39 L239.50,117.72 L239.75,118.97 L240.00,120.16 L240.25,121.28 L240.50,122.34 L240.75,123.36 L241.00,124.32 L241.25,125.25 L241.50,126.13 L241.75,126.98 L242.00,127.80 L242.25,128.58 L242.50,129.34 L242.75,130.07 L243.00,130.77 L243.25,131.45 L243.50,132.10 L243.75,132.74 L244.00,133.35 L244.25,133.95 L244.50,134.52 L244.75,135.08 L245.00,135.62 L245.25,136.15 L245.50,136.66 L245.75,137.16 L246.00,137.64 L246.25,138.10 L246.50,138.55 L246.75,138.99 L247.00,139.42 L247.25,139.83 L247.50,140.23 L247.75,140.61 L248.00,140.98 L248.25,141.34 L248.50,141.69 L248.75,142.02 L249.00,142.34 L249.25,142.65 L249.50,142.94 L249.75,143.22 L250.00,143.49 L250.25,143.74 L250.50,143.98 L250.75,144.20 L251.00,144.41 L251.25,144.60 L251.50,144.77 L251.75,144.93 L252.00,145.07 L252.25,145.20 L252.50,145.30 L252.75,145.39 L253.00,145.46 L253.25,145.51 L253.50,145.53 L253.75,145.54 L254.00,145.53 L254.25,145.49 L254.50,145.43 L254.75,145.35 L255.00,145.25 L255.25,145.12 L255.50,144.97 L255.75,144.80 L256.00,144.60 L256.25,144.38 L256.50,144.13 L256.75,143.86 L257.00,143.57 L257.25,143.24 L257.50,142.90 L257.75,142.53 L258.00,142.13 L258.25,141.71 L258.50,141.26 L258.75,140.79 L259.00,140.29 L259.25,139.76 L259.50,139.21 L259.75,138.62 L260.00,138.01 L260.25,137.37 L260.50,136.70 L260.75,136.00 L261.00,135.26 L261.25,134.49 L261.50,133.69 L261.75,132.84 L262.00,131.95 L262.25,131.02 L262.50,130.04 L262.75,129.01 L263.00,127.92 L263.25,126.76 L263.50,125.54 L263.75,124.25 L264.00,122.86 L264.25,121.38 L264.50,119.79 L264.75,118.07 L265.00,116.19 L265.25,114.14 L265.50,111.86 L265.75,109.32 L265.84,108.33 L265.96,106.93 L266.00,107.41 L266.08,108.33 L266.25,110.17 L266.50,112.62 L266.75,114.82 L267.00,116.81 L267.25,118.64 L267.50,120.32 L267.75,121.88 L268.00,123.33 L268.25,124.69 L268.50,125.96 L268.75,127.17 L269.00,128.31 L269.25,129.39 L269.50,130.42 L269.75,131.40 L270.00,132.33 L270.25,133.23 L270.50,134.08 L270.75,134.91 L271.00,135.70 L271.25,136.46 L271.50,137.19 L271.75,137.90 L272.00,138.58 L272.25,139.24 L272.50,139.88 L272.75,140.49 L273.00,141.09 L273.25,141.67 L273.50,142.23 L273.75,142.78 L274.00,143.31 L274.25,143.82 L274.50,144.32 L274.75,144.80 L275.00,145.27 L275.25,145.73 L275.50,146.18 L275.75,146.61 L276.00,147.03 L276.25,147.44 L276.50,147.84 L276.75,148.23 L277.00,148.60 L277.25,148.97 L277.50,149.32 L277.75,149.67 L278.00,150.00 L278.25,150.32 L278.50,150.64 L278.75,150.94 L279.00,151.23 L279.25,151.51 L279.50,151.79 L279.75,152.05 L280.00,152.30 L280.25,152.53 L280.50,152.76 L280.75,152.98 L281.00,153.18 L281.25,153.37 L281.50,153.55 L281.75,153.71 L282.00,153.86 L282.25,154.00 L282.50,154.12 L282.75,154.23 L283.00,154.31 L283.25,154.39 L283.50,154.44 L283.75,154.48 L284.00,154.49 L284.25,154.49 L284.50,154.46 L284.75,154.42 L285.00,154.35 L285.25,154.25 L285.50,154.13 L285.75,153.99 L286.00,153.82 L286.25,153.62 L286.50,153.40 L286.75,153.14 L287.00,152.86 L287.25,152.54 L287.50,152.20 L287.75,151.82 L288.00,151.41 L288.25,150.97 L288.50,150.50 L288.75,149.99 L289.00,149.44 L289.25,148.86 L289.50,148.24 L289.75,147.58 L290.00,146.88 L290.25,146.13 L290.50,145.35 L290.75,144.52 L291.00,143.64 L291.25,142.70 L291.50,141.72 L291.75,140.67 L292.00,139.56 L292.25,138.37 L292.50,137.11 L292.75,135.77 L293.00,134.32 L293.25,132.77 L293.50,131.08 L293.75,129.25 L294.00,127.25 L294.25,125.03 L294.50,122.56 L294.61,121.37 L294.73,120.00 L294.75,120.23 L294.85,121.37 L295.00,122.97 L295.25,125.40 L295.50,127.58 L295.75,129.56 L296.00,131.37 L296.25,133.04 L296.50,134.58 L296.75,136.02 L297.00,137.36 L297.25,138.62 L297.50,139.81 L297.75,140.94 L298.00,142.00 L298.25,143.01 L298.50,143.97 L298.75,144.89 L299.00,145.76 L299.25,146.59 L299.50,147.39 L299.75,148.16 L300.00,148.90 L300.25,149.61 L300.50,150.29 L300.75,150.94 L301.00,151.57 L301.25,152.18 L301.50,152.77 L301.75,153.34 L302.00,153.89 L302.25,154.49 L302.50,155.12 L302.75,155.79 L303.00,156.50 L303.25,157.27 L303.50,158.08 L303.75,158.95 L304.00,159.86 L304.25,160.52 L304.50,161.16 L304.75,161.77 L305.00,162.35 L305.25,162.89 L305.50,163.41 L305.75,163.87 L306.00,164.30 L306.25,164.69 L306.50,165.07 L306.75,165.42 L307.00,165.76 L307.25,166.09 L307.50,166.40 L307.75,166.69 L308.00,166.98 L308.25,167.25 L308.50,167.52 L308.75,167.78 L309.00,168.03 L309.25,168.27 L309.50,168.51 L309.75,168.75 L310.00,168.98 L310.25,169.20 L310.50,169.42 L310.75,169.63 L311.00,169.84 L311.25,170.04 L311.50,170.23 L311.75,170.43 L312.00,170.61 L312.25,170.80 L312.50,170.98 L312.75,171.16 L313.00,171.33 L313.25,171.50 L313.50,171.67 L313.75,171.84 L314.00,172.00 L314.25,172.16 L314.50,172.32 L314.75,172.48 L315.00,172.64 L315.25,172.79 L315.50,172.94 L315.75,173.09 L316.00,173.24 L316.25,173.38 L316.50,173.53 L316.75,173.67 L317.00,173.81 L317.25,173.95 L317.50,174.08 L317.75,174.21 L318.00,174.35 L318.25,174.48 L318.50,174.60 L318.75,174.73 L319.00,174.85 L319.25,174.98 L319.50,175.10 L319.75,175.22 L320.00,175.33 L320.25,175.45 L320.50,175.56 L320.75,175.67 L321.00,175.78 L321.25,175.89 L321.50,176.00 L321.75,176.10 L322.00,176.21 L322.25,176.31 L322.50,176.41 L322.75,176.51 L323.00,176.61 L323.25,176.71 L323.50,176.81 L323.75,176.90 L324.00,177.00 L324.25,177.09 L324.50,177.18 L324.75,177.25 L325.00,177.33 L325.25,177.40 L325.50,177.47 L325.75,177.53 L326.00,177.60 L326.25,177.66 L326.50,177.73 L326.75,177.80 L327.00,177.87 L327.25,177.95 L327.50,178.03 L327.75,178.12 L328.00,178.22 L328.25,178.32 L328.50,178.44 L328.75,178.56 L329.00,178.70 L329.25,178.86 L329.50,179.07 L329.75,179.31 L330.00,179.60 L330.25,179.93 L330.50,180.30 L330.75,180.81 L331.00,181.49 L331.25,182.25 L331.50,183.00" stroke="#5a44ee"/>
<path d="M61.50,164.10 L61.75,162.99 L62.00,161.79 L62.25,160.49 L62.50,159.08 L62.75,157.53 L63.00,155.83 L63.25,153.95 L63.50,151.86 L63.75,149.51 L64.00,146.83 L64.25,143.73 L64.45,140.84 L64.50,140.05 L64.57,138.89 L64.69,140.84 L64.75,141.75 L65.00,145.15 L65.25,148.05 L65.50,150.57 L65.75,152.79 L66.00,154.76 L66.25,156.54 L66.50,158.14 L66.75,159.59 L67.00,160.91 L67.25,162.11 L67.50,163.20 L67.75,164.19 L68.00,165.09 L68.25,165.91 L68.50,166.65 L68.75,167.31 L69.00,167.91 L69.25,168.45 L69.50,168.93 L69.75,169.36 L70.00,169.73 L70.25,170.06 L70.50,170.35 L70.75,170.60 L71.00,170.81 L71.25,170.99 L71.50,171.13 L71.75,171.25 L72.00,171.34 L72.25,171.41 L72.50,171.46 L72.75,171.49 L73.00,171.49 L73.25,171.48 L73.50,171.46 L73.75,171.42 L74.00,171.37 L74.25,171.30 L74.50,171.22 L74.75,171.13 L75.00,171.03 L75.25,170.92 L75.50,170.80 L75.75,170.68 L76.00,170.54 L76.25,170.39 L76.50,170.24 L76.75,170.08 L77.00,169.91 L77.25,169.74 L77.50,169.56 L77.75,169.37 L78.00,169.17 L78.25,168.97 L78.50,168.76 L78.75,168.54 L79.00,168.32 L79.25,168.08 L79.50,167.85 L79.75,167.60 L80.00,167.35 L80.25,167.09 L80.50,166.82 L80.75,166.54 L81.00,166.26 L81.25,165.96 L81.50,165.66 L81.75,165.35 L82.00,165.03 L82.25,164.71 L82.50,164.37 L82.75,164.02 L83.00,163.66 L83.25,163.29 L83.50,162.91 L83.75,162.52 L84.00,162.12 L84.25,161.70 L84.50,161.28 L84.75,160.83 L85.00,160.38 L85.25,159.90 L85.50,159.42 L85.75,158.91 L86.00,158.39 L86.25,157.85 L86.50,157.29 L86.75,156.72 L87.00,156.11 L87.25,155.49 L87.50,154.84 L87.75,154.17 L88.00,153.47 L88.25,152.74 L88.50,151.98 L88.75,151.18 L89.00,150.35 L89.25,149.48 L89.50,148.56 L89.75,147.60 L90.00,146.58 L90.25,145.51 L90.50,144.37 L90.75,143.16 L91.00,141.88 L91.25,140.50 L91.50,139.02 L91.75,137.42 L92.00,135.68 L92.25,133.78 L92.50,131.67 L92.75,129.33 L93.00,126.67 L93.22,124.01 L93.25,123.62 L93.34,122.40 L93.46,124.01 L93.50,124.52 L93.75,127.45 L94.00,130.01 L94.25,132.28 L94.50,134.32 L94.75,136.17 L95.00,137.87 L95.25,139.43 L95.50,140.87 L95.75,142.21 L96.00,143.46 L96.25,144.63 L96.50,145.73 L96.75,146.77 L97.00,147.74 L97.25,148.66 L97.50,149.53 L97.75,150.36 L98.00,151.13 L98.25,151.87 L98.50,152.56 L98.75,153.22 L99.00,153.84 L99.25,154.42 L99.50,154.97 L99.75,155.49 L100.00,155.97 L100.25,156.43 L100.50,156.85 L100.75,157.25 L101.00,157.61 L101.25,157.95 L101.50,158.26 L101.75,158.54 L102.00,158.80 L102.25,159.03 L102.50,159.23 L102.75,159.41 L103.00,159.57 L103.25,159.70 L103.50,159.82 L103.75,159.91 L104.00,159.98 L104.25,160.02 L104.50,160.05 L104.75,160.06 L105.00,160.05 L105.25,160.03 L105.50,159.98 L105.75,159.92 L106.00,159.84 L106.25,159.75 L106.50,159.65 L106.75,159.52 L107.00,159.39 L107.25,159.24 L107.50,159.07 L107.75,158.90 L108.00,158.71 L108.25,158.51 L108.50,158.30 L108.75,158.07 L109.00,157.83 L109.25,157.59 L109.50,157.33 L109.75,157.06 L110.00,156.78 L110.25,156.48 L110.50,156.18 L110.75,155.87 L111.00,155.54 L111.25,155.20 L111.50,154.86 L111.75,154.50 L112.00,154.12 L112.25,153.74 L112.50,153.35 L112.75,152.94 L113.00,152.52 L113.25,152.08 L113.50,151.63 L113.75,151.17 L114.00,150.70 L114.25,150.20 L114.50,149.70 L114.75,149.17 L115.00,148.63 L115.25,148.07 L115.50,147.49 L115.75,146.89 L116.00,146.27 L116.25,145.63 L116.50,144.96 L116.75,144.27 L117.00,143.55 L117.25,142.81 L117.50,142.03 L117.75,141.21 L118.00,140.37 L118.25,139.48 L118.50,138.55 L118.75,137.57 L119.00,136.54 L119.25,135.45 L119.50,134.30 L119.75,133.08 L120.00,131.79 L120.25,130.40 L120.50,128.90 L120.75,127.29 L121.00,125.54 L121.25,123.62 L121.50,121.50 L121.75,119.14 L121.99,116.58 L122.00,116.46 L122.11,115.16 L122.23,116.58 L122.25,116.80 L122.50,119.44 L122.75,121.77 L123.00,123.86 L123.25,125.75 L123.50,127.49 L123.75,129.08 L124.00,130.56 L124.25,131.93 L124.50,133.22 L124.75,134.42 L125.00,135.56 L125.25,136.63 L125.50,137.64 L125.75,138.60 L126.00,139.51 L126.25,140.37 L126.50,141.20 L126.75,141.98 L127.00,142.73 L127.25,143.45 L127.50,144.13 L127.75,144.78 L128.00,145.40 L128.25,145.99 L128.50,146.56 L128.75,147.10 L129.00,147.61 L129.25,148.10 L129.50,148.56 L129.75,149.00 L130.00,149.42 L130.25,149.81 L130.50,150.18 L130.75,150.52 L131.00,150.85 L131.25,151.15 L131.50,151.43 L131.75,151.69 L132.00,151.92 L132.25,152.14 L132.50,152.33 L132.75,152.51 L133.00,152.66 L133.25,152.79 L133.50,152.90 L133.75,152.99 L134.00,153.07 L134.25,153.12 L134.50,153.15 L134.75,153.17 L135.00,153.17 L135.25,153.15 L135.50,153.11 L135.75,153.05 L136.00,152.98 L136.25,152.89 L136.50,152.78 L136.75,152.66 L137.00,152.53 L137.25,152.37 L137.50,152.21 L137.75,152.02 L138.00,151.83 L138.25,151.62 L138.50,151.39 L138.75,151.15 L139.00,150.90 L139.25,150.63 L139.50,150.35 L139.75,150.06 L140.00,149.75 L140.25,149.43 L140.50,149.10 L140.75,148.75 L141.00,148.39 L141.25,148.01 L141.50,147.63 L141.75,147.22 L142.00,146.80 L142.25,146.37 L142.50,145.92 L142.75,145.46 L143.00,144.98 L143.25,144.48 L143.50,143.97 L143.75,143.43 L144.00,142.88 L144.25,142.31 L144.50,141.71 L144.75,141.10 L145.00,140.46 L145.25,139.80 L145.50,139.11 L145.75,138.39 L146.00,137.64 L146.25,136.86 L146.50,136.05 L146.75,135.20 L147.00,134.31 L147.25,133.37 L147.50,132.39 L147.75,131.36 L148.00,130.26 L148.25,129.11 L148.50,127.88 L148.75,126.57 L149.00,125.16 L149.25,123.65 L149.50,122.02 L149.75,120.25 L150.00,118.30 L150.25,116.14 L150.50,113.73 L150.75,111.00 L150.76,110.88 L150.88,109.42 L151.00,110.88 L151.25,113.63 L151.50,116.05 L151.75,118.21 L152.00,120.17 L152.25,121.95 L152.50,123.58 L152.75,125.09 L153.00,126.49 L153.25,127.80 L153.50,129.03 L153.75,130.18 L154.00,131.26 L154.25,132.28 L154.50,133.25 L154.75,134.17 L155.00,135.03 L155.25,135.86 L155.50,136.64 L155.75,137.39 L156.00,138.09 L156.25,138.77 L156.50,139.41 L156.75,140.01 L157.00,140.59 L157.25,141.13 L157.50,141.65 L157.75,142.14 L158.00,142.60 L158.25,143.03 L158.50,143.43 L158.75,143.81 L159.00,144.16 L159.25,144.48 L159.50,144.78 L159.75,145.06 L160.00,145.31 L160.25,145.53 L160.50,145.74 L160.75,145.91 L161.00,146.07 L161.25,146.20 L161.50,146.31 L161.75,146.39 L162.00,146.46 L162.25,146.50 L162.50,146.53 L162.75,146.53 L163.00,146.52 L163.25,146.48 L163.50,146.43 L163.75,146.36 L164.00,146.28 L164.25,146.17 L164.50,146.05 L164.75,145.92 L165.00,145.77 L165.25,145.61 L165.50,145.43 L165.75,145.24 L166.00,145.03 L166.25,144.81 L166.50,144.58 L166.75,144.34 L167.00,144.09 L167.25,143.82 L167.50,143.55 L167.75,143.26 L168.00,142.96 L168.25,142.65 L168.50,142.33 L168.75,142.00 L169.00,141.65 L169.25,141.30 L169.50,140.93 L169.75,140.56 L170.00,140.17 L170.25,139.77 L170.50,139.36 L170.75,138.94 L171.00,138.51 L171.25,138.06 L171.50,137.60 L171.75,137.13 L172.00,136.64 L172.25,136.14 L172.50,135.63 L172.75,135.10 L173.00,134.56 L173.25,133.99 L173.50,133.41 L173.75,132.82 L174.00,132.20 L174.25,131.56 L174.50,130.90 L174.75,130.22 L175.00,129.51 L175.25,128.78 L175.50,128.02 L175.75,127.22 L176.00,126.40 L176.25,125.54 L176.50,124.64 L176.75,123.70 L177.00,122.71 L177.25,121.67 L177.50,120.57 L177.75,119.42 L178.00,118.19 L178.25,116.88 L178.50,115.49 L178.75,113.99 L179.00,112.37 L179.25,110.61 L179.50,108.69 L179.53,108.45 L179.65,107.44 L179.75,108.28 L179.77,108.45 L180.00,110.24 L180.25,112.03 L180.50,113.67 L180.75,115.20 L181.00,116.61 L181.25,117.93 L181.50,119.18 L181.75,120.35 L182.00,121.45 L182.25,122.50 L182.50,123.50 L182.75,124.45 L183.00,125.36 L183.25,126.23 L183.50,127.06 L183.75,127.86 L184.00,128.62 L184.25,129.36 L184.50,130.07 L184.75,130.76 L185.00,131.42 L185.25,132.06 L185.50,132.68 L185.75,133.28 L186.00,133.86 L186.25,134.43 L186.50,134.97 L186.75,135.50 L187.00,136.01 L187.25,136.51 L187.50,137.00 L187.75,137.47 L188.00,137.92 L188.25,138.37 L188.50,138.80 L188.75,139.22 L189.00,139.62 L189.25,140.01 L189.50,140.40 L189.75,140.77 L190.00,141.12 L190.25,141.47 L190.50,141.80 L190.75,142.13 L191.00,142.44 L191.25,142.74 L191.50,143.03 L191.75,143.30 L192.00,143.56 L192.25,143.81 L192.50,144.05 L192.75,144.28 L193.00,144.49 L193.25,144.69 L193.50,144.87 L193.75,145.04 L194.00,145.20 L194.25,145.34 L194.50,145.46 L194.75,145.57 L195.00,145.67 L195.25,145.74 L195.50,145.80 L195.75,145.84 L196.00,145.86 L196.25,145.87 L196.50,145.85 L196.75,145.82 L197.00,145.76 L197.25,145.69 L197.50,145.59 L197.75,145.47 L198.00,145.33 L198.25,145.17 L198.50,144.99 L198.75,144.78 L199.00,144.55 L199.25,144.30 L199.50,144.03 L199.75,143.73 L200.00,143.40 L200.25,143.06 L200.50,142.68 L200.75,142.29 L201.00,141.86 L201.25,141.42 L201.50,140.94 L201.75,140.44 L202.00,139.91 L202.25,139.35 L202.50,138.77 L202.75,138.15 L203.00,137.50 L203.25,136.82 L203.50,136.11 L203.75,135.36 L204.00,134.57 L204.25,133.74 L204.50,132.87 L204.75,131.95 L205.00,130.98 L205.25,129.95 L205.50,128.86 L205.75,127.71 L206.00,126.48 L206.25,125.17 L206.50,123.77 L206.75,122.25 L207.00,120.62 L207.25,118.83 L207.50,116.87 L207.75,114.70 L208.00,112.27 L208.25,109.51 L208.30,108.91 L208.42,107.40 L208.50,108.42 L208.54,108.91 L208.75,111.32 L209.00,113.86 L209.25,116.12 L209.50,118.15 L209.75,119.99 L210.00,121.68 L210.25,123.24 L210.50,124.68 L210.75,126.03 L211.00,127.29 L211.25,128.47 L211.50,129.59 L211.75,130.64 L212.00,131.64 L212.25,132.58 L212.50,133.48 L212.75,134.33 L213.00,135.15 L213.25,135.93 L213.50,136.67 L213.75,137.38 L214.00,138.06 L214.25,138.71 L214.50,139.33 L214.75,139.92 L215.00,140.49 L215.25,141.03 L215.50,141.55 L215.75,142.05 L216.00,142.52 L216.25,142.97 L216.50,143.40 L216.75,143.81 L217.00,144.20 L217.25,144.56 L217.50,144.91 L217.75,145.23 L218.00,145.54 L218.25,145.82 L218.50,146.08 L218.75,146.33 L219.00,146.55 L219.25,146.76 L219.50,146.94 L219.75,147.11 L220.00,147.25 L220.25,147.38 L220.50,147.49 L220.75,147.57 L221.00,147.64 L221.25,147.69 L221.50,147.72 L221.75,147.73 L222.00,147.73 L222.25,147.70 L222.50,147.66 L222.75,147.60 L223.00,147.52 L223.25,147.43 L223.50,147.31 L223.75,147.18 L224.00,147.04 L224.25,146.88 L224.50,146.70 L224.75,146.50 L225.00,146.30 L225.25,146.07 L225.50,145.83 L225.75,145.58 L226.00,145.31 L226.25,145.03 L226.50,144.73 L226.75,144.42 L227.00,144.09 L227.25,143.75 L227.50,143.39 L227.75,143.02 L228.00,142.64 L228.25,142.24 L228.50,141.83 L228.75,141.40 L229.00,140.96 L229.25,140.50 L229.50,140.03 L229.75,139.54 L230.00,139.03 L230.25,138.50 L230.50,137.96 L230.75,137.40 L231.00,136.82 L231.25,136.22 L231.50,135.59 L231.75,134.95 L232.00,134.28 L232.25,133.58 L232.50,132.86 L232.75,132.11 L233.00,131.33 L233.25,130.52 L233.50,129.67 L233.75,128.78 L234.00,127.85 L234.25,126.87 L234.50,125.84 L234.75,124.76 L235.00,123.62 L235.25,122.40 L235.50,121.11 L235.75,119.73 L236.00,118.25 L236.25,116.66 L236.50,114.93 L236.75,113.03 L237.00,110.95 L237.07,110.32 L237.19,109.20 L237.25,109.77 L237.31,110.32 L237.50,111.97 L237.75,113.96 L238.00,115.78 L238.25,117.44 L238.50,118.98 L238.75,120.41 L239.00,121.74 L239.25,123.00 L239.50,124.18 L239.75,125.29 L240.00,126.35 L240.25,127.35 L240.50,128.31 L240.75,129.22 L241.00,130.09 L241.25,130.92 L241.50,131.72 L241.75,132.49 L242.00,133.23 L242.25,133.95 L242.50,134.63 L242.75,135.29 L243.00,135.93 L243.25,136.55 L243.50,137.15 L243.75,137.73 L244.00,138.29 L244.25,138.83 L244.50,139.36 L244.75,139.87 L245.00,140.37 L245.25,140.85 L245.50,141.31 L245.75,141.76 L246.00,142.20 L246.25,142.62 L246.50,143.04 L246.75,143.43 L247.00,143.82 L247.25,144.19 L247.50,144.55 L247.75,144.90 L248.00,145.24 L248.25,145.56 L248.50,145.87 L248.75,146.17 L249.00,146.46 L249.25,146.73 L249.50,146.99 L249.75,147.24 L250.00,147.48 L250.25,147.70 L250.50,147.91 L250.75,148.10 L251.00,148.28 L251.25,148.44 L251.50,148.59 L251.75,148.73 L252.00,148.84 L252.25,148.95 L252.50,149.03 L252.75,149.10 L253.00,149.15 L253.25,149.18 L253.50,149.20 L253.75,149.19 L254.00,149.17 L254.25,149.13 L254.50,149.06 L254.75,148.98 L255.00,148.88 L255.25,148.76 L255.50,148.61 L255.75,148.45 L256.00,148.26 L256.25,148.05 L256.50,147.82 L256.75,147.57 L257.00,147.30 L257.25,147.00 L257.50,146.69 L257.75,146.35 L258.00,145.99 L258.25,145.60 L258.50,145.19 L258.75,144.76 L259.00,144.31 L259.25,143.83 L259.50,143.32 L259.75,142.79 L260.00,142.24 L260.25,141.66 L260.50,141.05 L260.75,140.41 L261.00,139.74 L261.25,139.04 L261.50,138.31 L261.75,137.54 L262.00,136.74 L262.25,135.89 L262.50,135.01 L262.75,134.07 L263.00,133.09 L263.25,132.06 L263.50,130.96 L263.75,129.80 L264.00,128.56 L264.25,127.24 L264.50,125.83 L264.75,124.31 L265.00,122.66 L265.25,120.87 L265.50,118.91 L265.75,116.73 L265.84,115.88 L265.96,114.70 L266.00,115.10 L266.08,115.88 L266.25,117.45 L266.50,119.56 L266.75,121.47 L267.00,123.21 L267.25,124.81 L267.50,126.30 L267.75,127.69 L268.00,128.98 L268.25,130.20 L268.50,131.35 L268.75,132.43 L269.00,133.46 L269.25,134.43 L269.50,135.37 L269.75,136.25 L270.00,137.10 L270.25,137.92 L270.50,138.70 L270.75,139.45 L271.00,140.17 L271.25,140.86 L271.50,141.53 L271.75,142.18 L272.00,142.80 L272.25,143.41 L272.50,143.99 L272.75,144.55 L273.00,145.10 L273.25,145.63 L273.50,146.14 L273.75,146.64 L274.00,147.13 L274.25,147.60 L274.50,148.05 L274.75,148.50 L275.00,148.93 L275.25,149.34 L275.50,149.75 L275.75,150.14 L276.00,150.53 L276.25,150.90 L276.50,151.26 L276.75,151.61 L277.00,151.95 L277.25,152.28 L277.50,152.60 L277.75,152.91 L278.00,153.21 L278.25,153.49 L278.50,153.77 L278.75,154.04 L279.00,154.30 L279.25,154.54 L279.50,154.78 L279.75,155.00 L280.00,155.22 L280.25,155.42 L280.50,155.61 L280.75,155.79 L281.00,155.95 L281.25,156.11 L281.50,156.25 L281.75,156.37 L282.00,156.48 L282.25,156.58 L282.50,156.66 L282.75,156.73 L283.00,156.78 L283.25,156.81 L283.50,156.83 L283.75,156.82 L284.00,156.80 L284.25,156.76 L284.50,156.69 L284.75,156.61 L285.00,156.50 L285.25,156.37 L285.50,156.22 L285.75,156.04 L286.00,155.84 L286.25,155.62 L286.50,155.36 L286.75,155.08 L287.00,154.77 L287.25,154.44 L287.50,154.07 L287.75,153.68 L288.00,153.26 L288.25,152.80 L288.50,152.31 L288.75,151.79 L289.00,151.24 L289.25,150.65 L289.50,150.02 L289.75,149.36 L290.00,148.66 L290.25,147.92 L290.50,147.13 L290.75,146.30 L291.00,145.42 L291.25,144.49 L291.50,143.50 L291.75,142.45 L292.00,141.33 L292.25,140.14 L292.50,138.87 L292.75,137.50 L293.00,136.03 L293.25,134.44 L293.50,132.71 L293.75,130.81 L294.00,128.72 L294.25,126.38 L294.50,123.73 L294.61,122.45 L294.73,120.95 L294.75,121.21 L294.85,122.45 L295.00,124.18 L295.25,126.77 L295.50,129.07 L295.75,131.13 L296.00,133.01 L296.25,134.72 L296.50,136.29 L296.75,137.75 L297.00,139.11 L297.25,140.39 L297.50,141.58 L297.75,142.70 L298.00,143.77 L298.25,144.77 L298.50,145.73 L298.75,146.63 L299.00,147.50 L299.25,148.32 L299.50,149.11 L299.75,149.87 L300.00,150.60 L300.25,151.29 L300.50,151.96 L300.75,152.60 L301.00,153.22 L301.25,153.82 L301.50,154.39 L301.75,154.95 L302.00,155.48 L302.25,156.00 L302.50,156.50 L302.75,156.99 L303.00,157.46 L303.25,157.91 L303.50,158.35 L303.75,158.76 L304.00,159.15 L304.25,159.52 L304.50,159.88 L304.75,160.24 L305.00,160.61 L305.25,161.00 L305.50,161.40 L305.75,161.82 L306.00,162.24 L306.25,162.67 L306.50,163.10 L306.75,163.52 L307.00,163.92 L307.25,164.31 L307.50,164.67 L307.75,165.00 L308.00,165.31 L308.25,165.63 L308.50,165.94 L308.75,166.25 L309.00,166.55 L309.25,166.84 L309.50,167.12 L309.75,167.39 L310.00,167.65 L310.25,167.88 L310.50,168.10 L310.75,168.30 L311.00,168.48 L311.25,168.63 L311.50,168.75 L311.75,168.86 L312.00,168.96 L312.25,169.07 L312.50,169.16 L312.75,169.25 L313.00,169.34 L313.25,169.41 L313.50,169.48 L313.75,169.53 L314.00,169.57 L314.25,169.59 L314.50,169.60 L314.75,169.57 L315.00,169.50 L315.25,169.38 L315.50,169.21 L315.75,169.01 L316.00,168.78 L316.25,168.52 L316.50,168.23 L316.75,167.92 L317.00,167.60 L317.25,167.18 L317.50,166.58 L317.75,165.85 L318.00,165.00 L318.25,164.06 L318.50,163.07 L318.75,162.04 L319.00,161.00 L319.25,160.21 L319.50,159.47 L319.75,158.83 L320.00,158.32 L320.25,157.95 L320.50,157.71 L320.75,156.73 L321.00,155.68 L321.25,154.54 L321.50,153.31 L321.75,151.99 L322.00,150.56 L322.25,149.00 L322.50,147.30 L322.75,145.43 L323.00,143.36 L323.25,141.05 L323.38,139.73 L323.50,138.43 L323.62,139.73 L323.75,141.05 L324.00,143.37 L324.25,145.44 L324.50,147.32 L324.75,149.03 L325.00,150.59 L325.25,152.04 L325.50,153.38 L325.75,154.63 L326.00,155.80 L326.25,156.89 L326.50,157.92 L326.75,158.88 L327.00,159.80 L327.25,160.66 L327.50,161.47 L327.75,162.24 L328.00,162.98 L328.25,163.67 L328.50,164.33 L328.75,164.96 L329.00,165.56 L329.25,166.13 L329.50,166.68 L329.75,167.20 L330.00,167.70 L330.25,168.17 L330.50,168.63 L330.75,169.06 L331.00,169.48 L331.25,169.88 L331.50,170.26" stroke="#28946a"/>
</g>
<g clip-path="url(#topred)"><path d="M73.00,232.00 L73.25,229.25 L73.50,226.72 L73.75,224.50 L74.00,222.62 L74.25,220.96 L74.50,219.41 L74.75,217.87 L75.00,216.25 L75.25,214.43 L75.50,212.47 L75.75,210.56 L76.00,208.84 L76.25,207.50 L76.50,206.45 L76.75,205.48 L77.00,204.59 L77.25,203.77 L77.50,203.02 L77.75,202.33 L78.00,201.69 L78.25,201.09 L78.50,200.53 L78.75,200.00 L79.00,199.50 L79.25,199.04 L79.50,198.60 L79.75,198.19 L80.00,197.80 L80.25,197.42 L80.50,197.06 L80.75,196.72 L81.00,196.37 L81.25,196.03 L81.50,195.70 L81.75,195.35 L82.00,195.00 L82.25,194.65 L82.50,194.30 L82.75,193.95 L83.00,193.61 L83.25,193.27 L83.50,192.94 L83.75,192.61 L84.00,192.28 L84.25,191.96 L84.50,191.64 L84.75,191.32 L85.00,191.00 L85.25,190.68 L85.50,190.36 L85.75,190.03 L86.00,189.71 L86.25,189.38 L86.50,189.06 L86.75,188.74 L87.00,188.43 L87.25,188.12 L87.50,187.82 L87.75,187.53 L88.00,187.25 L88.25,186.99 L88.50,186.74 L88.75,186.50 L89.00,186.28 L89.25,186.06 L89.50,185.86 L89.75,185.66 L90.00,185.47 L90.25,185.29 L90.50,185.11 L90.75,184.94 L91.00,184.76 L91.25,184.59 L91.50,184.43 L91.75,184.26 L92.00,184.09 L92.25,183.92 L92.50,183.75 L92.75,183.58 L93.00,183.42 L93.25,183.25 L93.50,183.10 L93.75,182.94 L94.00,182.79 L94.25,182.64 L94.50,182.49 L94.75,182.35 L95.00,182.20 L95.25,182.04 L95.50,181.89 L95.75,181.74 L96.00,181.58 L96.25,181.41 L96.50,181.24 L96.75,181.07 L97.00,180.89 L97.25,180.70 L97.50,180.50 L97.75,180.30 L98.00,180.09 L98.25,179.87 L98.50,179.65 L98.75,179.42 L99.00,179.19 L99.25,178.95 L99.50,178.71 L99.75,178.46 L100.00,178.20 L100.25,177.94 L100.50,177.67 L100.75,177.40 L101.00,177.13 L101.25,176.84 L101.50,176.56 L101.75,176.27 L102.00,175.97 L102.25,175.67 L102.50,175.36 L102.75,175.05 L103.00,174.73 L103.25,174.41 L103.50,174.08 L103.75,173.75 L104.00,173.42 L104.25,173.09 L104.50,172.77 L104.75,172.44 L105.00,172.10 L105.25,171.75 L105.50,171.39 L105.75,171.01 L106.00,170.61 L106.25,170.18 L106.50,169.72 L106.75,169.22 L107.00,168.69 L107.25,168.12 L107.50,167.50 L107.75,166.86 L108.00,166.17 L108.25,165.34 L108.50,164.26 L108.75,162.84 L109.00,161.00 L109.25,155.90 L109.50,149.25 L109.75,144.83 L110.00,144.16 L110.25,143.75 L110.50,143.50 L110.75,143.30 L111.00,143.11 L111.25,142.96 L111.50,142.84 L111.75,142.74 L112.00,142.66 L112.25,142.58 L112.50,142.50 L112.75,142.41 L113.00,142.30 L113.25,142.17 L113.50,142.01 L113.75,141.80 L114.00,141.48 L114.25,140.98 L114.50,140.31 L114.75,139.21 L115.00,137.19 L115.25,135.62 L115.50,135.20 L115.75,134.89 L116.00,134.63 L116.25,134.42 L116.50,134.25 L116.75,134.11 L117.00,133.99 L117.25,133.89 L117.50,133.80 L117.75,133.71 L118.00,133.64 L118.25,133.58 L118.50,133.52 L118.75,133.47 L119.00,133.42 L119.25,133.38 L119.50,133.32 L119.75,133.27 L120.00,133.20 L120.25,133.13 L120.50,133.05 L120.75,132.97 L121.00,132.89 L121.25,132.81 L121.50,132.72 L121.75,132.62 L122.00,132.52 L122.25,132.42 L122.50,132.31 L122.75,132.19 L123.00,132.07 L123.25,131.94 L123.50,131.80 L123.75,131.65 L124.00,131.50 L124.25,131.35 L124.50,131.19 L124.75,131.03 L125.00,130.87 L125.25,130.71 L125.50,130.54 L125.75,130.38 L126.00,130.21 L126.25,130.05 L126.50,129.89 L126.75,129.73 L127.00,129.58 L127.25,129.42 L127.50,129.27 L127.75,129.11 L128.00,128.96 L128.25,128.80 L128.50,128.64 L128.75,128.49 L129.00,128.33 L129.25,128.17 L129.50,128.01 L129.75,127.84 L130.00,127.68 L130.25,127.51 L130.50,127.34 L130.75,127.16 L131.00,126.98 L131.25,126.80 L131.50,126.61 L131.75,126.42 L132.00,126.23 L132.25,126.04 L132.50,125.84 L132.75,125.63 L133.00,125.43 L133.25,125.22 L133.50,125.01 L133.75,124.79 L134.00,124.58 L134.25,124.35 L134.50,124.13 L134.75,123.90 L135.00,123.67 L135.25,123.43 L135.50,123.19 L135.75,122.95 L136.00,122.71 L136.25,122.46 L136.50,122.21 L136.75,121.95 L137.00,121.70 L137.25,121.43 L137.50,121.17 L137.75,120.88 L138.00,120.58 L138.25,120.29 L138.50,119.99 L138.75,119.69 L139.00,119.38 L139.25,119.07 L139.50,118.75 L139.75,118.43 L140.00,118.11 L140.25,117.78 L140.50,117.44 L140.75,117.09 L141.00,116.74 L141.25,116.38 L141.50,116.02 L141.75,115.65 L142.00,115.28 L142.25,114.90 L142.50,114.51 L142.75,114.09 L143.00,113.66 L143.25,113.22 L143.50,112.76 L143.75,112.29 L144.00,111.79 L144.25,111.28 L144.50,110.75 L144.75,110.19 L145.00,109.62 L145.25,109.01 L145.50,108.38 L145.75,107.72 L146.00,107.03 L146.25,106.30 L146.50,105.53 L146.75,104.72 L147.00,103.86 L147.25,102.94 L147.50,101.96 L147.75,100.92 L148.00,99.79 L148.25,98.57 L148.50,97.24 L148.75,95.78 L149.00,94.16 L149.25,92.35 L149.50,90.29 L149.75,87.91 L150.00,85.09 L150.25,81.62 L150.50,77.12 L150.75,70.74 L150.76,70.42 L150.88,65.95 L151.00,70.42 L151.25,76.91 L151.50,81.46 L151.75,84.96 L152.00,87.80 L152.25,90.20 L152.50,92.27 L152.75,94.08 L153.00,95.70 L153.25,97.16 L153.50,98.49 L153.75,99.70 L154.00,100.82 L154.25,101.85 L154.50,102.82 L154.75,103.72 L155.00,104.56 L155.25,105.34 L155.50,106.09 L155.75,106.78 L156.00,107.44 L156.25,108.06 L156.50,108.65 L156.75,109.20 L157.00,109.73 L157.25,110.22 L157.50,110.69 L157.75,111.13 L158.00,111.55 L158.25,111.95 L158.50,112.32 L158.75,112.67 L159.00,113.00 L159.25,113.31 L159.50,113.59 L159.75,113.86 L160.00,114.11 L160.25,114.34 L160.50,114.56 L160.75,114.76 L161.00,114.94 L161.25,115.10 L161.50,115.24 L161.75,115.38 L162.00,115.49 L162.25,115.59 L162.50,115.67 L162.75,115.74 L163.00,115.80 L163.25,115.84 L163.50,115.86 L163.75,115.88 L164.00,115.88 L164.25,115.86 L164.50,115.83 L164.75,115.79 L165.00,115.74 L165.25,115.67 L165.50,115.59 L165.75,115.50 L166.00,115.40 L166.25,115.28 L166.50,115.15 L166.75,115.01 L167.00,114.86 L167.25,114.69 L167.50,114.52 L167.75,114.33 L168.00,114.13 L168.25,113.92 L168.50,113.69 L168.75,113.46 L169.00,113.21 L169.25,112.95 L169.50,112.67 L169.75,112.39 L170.00,112.09 L170.25,111.77 L170.50,111.45 L170.75,111.11 L171.00,110.75 L171.25,110.38 L171.50,109.99 L171.75,109.59 L172.00,109.17 L172.25,108.73 L172.50,108.27 L172.75,107.80 L173.00,107.30 L173.25,106.78 L173.50,106.24 L173.75,105.67 L174.00,105.07 L174.25,104.44 L174.50,103.79 L174.75,103.09 L175.00,102.37 L175.25,101.59 L175.50,100.78 L175.75,99.91 L176.00,98.99 L176.25,98.00 L176.50,96.94 L176.75,95.80 L177.00,94.56 L177.25,93.20 L177.50,91.72 L177.75,90.06 L178.00,88.21 L178.25,86.09 L178.50,83.63 L178.75,80.69 L179.00,77.05 L179.25,72.27 L179.50,65.27 L179.53,64.17 L179.65,58.75 L179.75,63.39 L179.77,64.17 L180.00,71.10 L180.25,76.21 L180.50,80.03 L180.75,83.08 L181.00,85.62 L181.25,87.80 L181.50,89.70 L181.75,91.39 L182.00,92.91 L182.25,94.28 L182.50,95.53 L182.75,96.69 L183.00,97.76 L183.25,98.75 L183.50,99.67 L183.75,100.54 L184.00,101.35 L184.25,102.11 L184.50,102.83 L184.75,103.51 L185.00,104.15 L185.25,104.75 L185.50,105.33 L185.75,105.87 L186.00,106.38 L186.25,106.87 L186.50,107.33 L186.75,107.77 L187.00,108.18 L187.25,108.57 L187.50,108.94 L187.75,109.28 L188.00,109.61 L188.25,109.92 L188.50,110.21 L188.75,110.47 L189.00,110.72 L189.25,110.96 L189.50,111.17 L189.75,111.37 L190.00,111.55 L190.25,111.71 L190.50,111.86 L190.75,111.99 L191.00,112.11 L191.25,112.21 L191.50,112.29 L191.75,112.36 L192.00,112.41 L192.25,112.45 L192.50,112.48 L192.75,112.49 L193.00,112.48 L193.25,112.46 L193.50,112.43 L193.75,112.39 L194.00,112.32 L194.25,112.25 L194.50,112.16 L194.75,112.06 L195.00,111.95 L195.25,111.82 L195.50,111.69 L195.75,111.53 L196.00,111.37 L196.25,111.19 L196.50,111.00 L196.75,110.80 L197.00,110.58 L197.25,110.35 L197.50,110.11 L197.75,109.86 L198.00,109.59 L198.25,109.31 L198.50,109.02 L198.75,108.71 L199.00,108.39 L199.25,108.06 L199.50,107.71 L199.75,107.35 L200.00,106.97 L200.25,106.57 L200.50,106.16 L200.75,105.74 L201.00,105.29 L201.25,104.83 L201.50,104.34 L201.75,103.84 L202.00,103.32 L202.25,102.77 L202.50,102.19 L202.75,101.60 L203.00,100.97 L203.25,100.31 L203.50,99.62 L203.75,98.89 L204.00,98.13 L204.25,97.32 L204.50,96.46 L204.75,95.55 L205.00,94.58 L205.25,93.54 L205.50,92.42 L205.75,91.22 L206.00,89.90 L206.25,88.47 L206.50,86.88 L206.75,85.10 L207.00,83.10 L207.25,80.78 L207.50,78.06 L207.75,74.74 L208.00,70.50 L208.25,64.62 L208.30,63.11 L208.42,58.75 L208.50,61.79 L208.54,63.11 L208.75,68.63 L209.00,73.34 L209.25,76.94 L209.50,79.86 L209.75,82.30 L210.00,84.41 L210.25,86.26 L210.50,87.92 L210.75,89.41 L211.00,90.76 L211.25,92.01 L211.50,93.16 L211.75,94.23 L212.00,95.23 L212.25,96.16 L212.50,97.04 L212.75,97.87 L213.00,98.66 L213.25,99.41 L213.50,100.12 L213.75,100.80 L214.00,101.45 L214.25,102.07 L214.50,102.66 L214.75,103.23 L215.00,103.78 L215.25,104.31 L215.50,104.82 L215.75,105.31 L216.00,105.78 L216.25,106.24 L216.50,106.68 L216.75,107.10 L217.00,107.52 L217.25,107.92 L217.50,108.31 L217.75,108.68 L218.00,109.05 L218.25,109.40 L218.50,109.74 L218.75,110.07 L219.00,110.39 L219.25,110.71 L219.50,111.01 L219.75,111.30 L220.00,111.59 L220.25,111.86 L220.50,112.13 L220.75,112.39 L221.00,112.63 L221.25,112.87 L221.50,113.11 L221.75,113.33 L222.00,113.54 L222.25,113.75 L222.50,113.95 L222.75,114.13 L223.00,114.31 L223.25,114.48 L223.50,114.64 L223.75,114.80 L224.00,114.94 L224.25,115.07 L224.50,115.19 L224.75,115.30 L225.00,115.40 L225.25,115.49 L225.50,115.57 L225.75,115.63 L226.00,115.68 L226.25,115.72 L226.50,115.75 L226.75,115.76 L227.00,115.75 L227.25,115.73 L227.50,115.70 L227.75,115.64 L228.00,115.57 L228.25,115.48 L228.50,115.37 L228.75,115.24 L229.00,115.09 L229.25,114.91 L229.50,114.71 L229.75,114.49 L230.00,114.24 L230.25,113.96 L230.50,113.65 L230.75,113.31 L231.00,112.94 L231.25,112.54 L231.50,112.10 L231.75,111.62 L232.00,111.10 L232.25,110.54 L232.50,109.94 L232.75,109.28 L233.00,108.57 L233.25,107.80 L233.50,106.96 L233.75,106.05 L234.00,105.07 L234.25,103.99 L234.50,102.82 L234.75,101.52 L235.00,100.08 L235.25,98.48 L235.50,96.67 L235.75,94.60 L236.00,92.19 L236.25,89.32 L236.50,85.76 L236.75,81.11 L237.00,74.38 L237.07,71.81 L237.19,66.07 L237.25,69.21 L237.31,71.81 L237.50,77.98 L237.75,83.52 L238.00,87.58 L238.25,90.77 L238.50,93.41 L238.75,95.65 L239.00,97.60 L239.25,99.32 L239.50,100.86 L239.75,102.24 L240.00,103.51 L240.25,104.67 L240.50,105.74 L240.75,106.73 L241.00,107.66 L241.25,108.52 L241.50,109.33 L241.75,110.10 L242.00,110.82 L242.25,111.50 L242.50,112.14 L242.75,112.75 L243.00,113.34 L243.25,113.89 L243.50,114.42 L243.75,114.93 L244.00,115.41 L244.25,115.88 L244.50,116.32 L244.75,116.75 L245.00,117.16 L245.25,117.56 L245.50,117.94 L245.75,118.31 L246.00,118.67 L246.25,119.01 L246.50,119.34 L246.75,119.66 L247.00,119.98 L247.25,120.28 L247.50,120.57 L247.75,120.86 L248.00,121.13 L248.25,121.40 L248.50,121.66 L248.75,121.92 L249.00,122.16 L249.25,122.41 L249.50,122.64 L249.75,122.82 L250.00,122.99 L250.25,123.17 L250.50,123.34 L250.75,123.51 L251.00,123.68 L251.25,123.85 L251.50,124.02 L251.75,124.19 L252.00,124.36 L252.25,124.53 L252.50,124.71 L252.75,124.89 L253.00,125.07 L253.25,125.25 L253.50,125.43 L253.75,125.62 L254.00,125.82 L254.25,126.01 L254.50,126.21 L254.75,126.42 L255.00,126.63 L255.25,126.83 L255.50,127.03 L255.75,127.22 L256.00,127.40 L256.25,127.58 L256.50,127.75 L256.75,127.92 L257.00,128.09 L257.25,128.26 L257.50,128.42 L257.75,128.59 L258.00,128.75 L258.25,128.91 L258.50,129.07 L258.75,129.22 L259.00,129.37 L259.25,129.52 L259.50,129.67 L259.75,129.81 L260.00,129.96 L260.25,130.10 L260.50,130.23 L260.75,130.37 L261.00,130.50 L261.25,130.63 L261.50,130.76 L261.75,130.88 L262.00,131.00 L262.25,131.12 L262.50,131.23 L262.75,131.35 L263.00,131.46 L263.25,131.57 L263.50,131.68 L263.75,131.79 L264.00,131.89 L264.25,131.99 L264.50,132.09 L264.75,132.18 L265.00,132.27 L265.25,132.35 L265.50,132.44 L265.75,132.52 L266.00,132.59 L266.25,132.66 L266.50,132.72 L266.75,132.78 L267.00,132.84 L267.25,132.90 L267.50,132.95 L267.75,133.01 L268.00,133.06 L268.25,133.12 L268.50,133.18 L268.75,133.25 L269.00,133.31 L269.25,133.38 L269.50,133.46 L269.75,133.52 L270.00,133.58 L270.25,133.64 L270.50,133.70 L270.75,133.78 L271.00,133.88 L271.25,134.00 L271.50,134.15 L271.75,134.36 L272.00,135.14 L272.25,136.00 L272.50,136.39 L272.75,136.68 L273.00,136.92 L273.25,137.12 L273.50,137.30 L273.75,137.46 L274.00,137.61 L274.25,137.73 L274.50,137.85 L274.75,137.95 L275.00,138.05 L275.25,138.14 L275.50,138.23 L275.75,138.33 L276.00,138.44 L276.25,138.56 L276.50,138.69 L276.75,138.85 L277.00,139.02 L277.25,139.22 L277.50,139.43 L277.75,139.76 L278.00,140.30 L278.25,142.95 L278.50,150.50 L278.75,158.03 L279.00,161.54 L279.25,163.75 L279.50,165.35 L279.75,166.63 L280.00,167.67 L280.25,168.53 L280.50,169.30 L280.75,169.99 L281.00,170.62 L281.25,171.19 L281.50,171.71 L281.75,172.18 L282.00,172.61 L282.25,173.00 L282.50,173.36 L282.75,173.68 L283.00,173.99 L283.25,174.27 L283.50,174.53 L283.75,174.77 L284.00,175.00 L284.25,175.22 L284.50,175.43 L284.75,175.64 L285.00,175.84 L285.25,176.03 L285.50,176.22 L285.75,176.40 L286.00,176.57 L286.25,176.74 L286.50,176.91 L286.75,177.07 L287.00,177.24 L287.25,177.40 L287.50,177.55 L287.75,177.71 L288.00,177.87 L288.25,178.02 L288.50,178.18 L288.75,178.34 L289.00,178.50 L289.25,178.66 L289.50,178.82 L289.75,178.97 L290.00,179.12 L290.25,179.27 L290.50,179.42 L290.75,179.57 L291.00,179.71 L291.25,179.86 L291.50,180.00 L291.75,180.14 L292.00,180.29 L292.25,180.43 L292.50,180.58 L292.75,180.73 L293.00,180.88 L293.25,181.03 L293.50,181.18 L293.75,181.34 L294.00,181.50 L294.25,181.66 L294.50,181.82 L294.75,181.98 L295.00,182.15 L295.25,182.31 L295.50,182.47 L295.75,182.64 L296.00,182.80 L296.25,182.97 L296.50,183.14 L296.75,183.31 L297.00,183.49 L297.25,183.66 L297.50,183.84 L297.75,184.03 L298.00,184.21 L298.25,184.40 L298.50,184.60 L298.75,184.80 L299.00,185.00 L299.25,185.21 L299.50,185.42 L299.75,185.64 L300.00,185.87 L300.25,186.10 L300.50,186.34 L300.75,186.58 L301.00,186.82 L301.25,187.07 L301.50,187.32 L301.75,187.58 L302.00,187.84 L302.25,188.10 L302.50,188.36 L302.75,188.63 L303.00,188.90 L303.25,189.17 L303.50,189.45 L303.75,189.72 L304.00,190.00 L304.25,190.28 L304.50,190.55 L304.75,190.83 L305.00,191.11 L305.25,191.39 L305.50,191.68 L305.75,191.96 L306.00,192.25 L306.25,192.55 L306.50,192.85 L306.75,193.15 L307.00,193.46 L307.25,193.78 L307.50,194.11 L307.75,194.44 L308.00,194.78 L308.25,195.13 L308.50,195.49 L308.75,195.87 L309.00,196.25 L309.25,196.65 L309.50,197.07 L309.75,197.51 L310.00,197.96 L310.25,198.44 L310.50,198.92 L310.75,199.42 L311.00,199.94 L311.25,200.46 L311.50,200.99 L311.75,201.53 L312.00,202.08 L312.25,202.63 L312.50,203.19 L312.75,203.75 L313.00,204.31 L313.25,204.88 L313.50,205.45 L313.75,206.04 L314.00,206.65 L314.25,207.27 L314.50,207.91 L314.75,208.58 L315.00,209.27 L315.25,210.00 L315.50,210.76 L315.75,211.57 L316.00,212.42 L316.25,213.31 L316.50,214.25 L316.75,215.23 L317.00,216.25 L317.25,217.31 L317.50,218.42 L317.75,219.60 L318.00,220.86 L318.25,222.24 L318.50,223.75 L318.75,225.48 L319.00,227.47 L319.25,229.66 L319.50,232.00" stroke="#ea6040" stroke-width="1.05"/></g>
</g>
</g>
<!-- legend -->
<rect x="61.5" y="0.5" width="79.9" height="90.7" fill="#fff" stroke="#1a1a1a" stroke-width="1.0"/>
<g stroke-width="1.5" fill="none">
<line x1="66" y1="12.0" x2="90" y2="12.0" stroke="#d3eef9"/>
<line x1="66" y1="29.1" x2="90" y2="29.1" stroke="#fdae9a"/>
<line x1="66" y1="46.3" x2="90" y2="46.3" stroke="#627f89"/>
<line x1="66" y1="63.4" x2="90" y2="63.4" stroke="#ab66f6"/>
<line x1="66" y1="80.5" x2="90" y2="80.5" stroke="#70b570"/>
</g>
<g font-size="13.8">
<text x="93.5" y="15.7" textLength="30.3" lengthAdjust="spacingAndGlyphs">linear</text>
<text x="93.5" y="32.9">third</text>
<text x="93.5" y="50.1" textLength="21.8" lengthAdjust="spacingAndGlyphs">fifth</text>
<text x="93.5" y="67.3" textLength="40" lengthAdjust="spacingAndGlyphs">seventh</text>
<text x="93.5" y="84.5">ninth</text>
</g>
<!-- y tick labels -->
<g font-size="14" text-anchor="end">
<text x="56.7" y="43.8">0</text>
<text x="56.7" y="121.3">−50</text>
<text x="56.7" y="198.8">−100</text>
</g>
<text font-size="13.6" text-anchor="middle" transform="translate(14.4,112.6) rotate(-90)">power density [dB]</text>
<!-- x tick labels -->
<g>
<path d="M911 0H90V147L276 316Q455 473 539.0 570.0Q623 667 659.5 770.0Q696 873 696 1006Q696 1136 637.0 1204.0Q578 1272 444 1272Q391 1272 335.0 1257.5Q279 1243 236 1219L201 1055H135V1313Q317 1356 444 1356Q664 1356 774.5 1264.5Q885 1173 885 1006Q885 894 841.5 794.5Q798 695 708.0 596.5Q618 498 410 321Q321 245 221 154H911Z" fill="#000" stroke="#000" stroke-width="40" transform="matrix(0.00353,0,0.00000,-0.00324,139.382,234.400)"/>
<path d="M189 -436H23L248 856H86L94 905L264 944L276 1010Q316 1233 410.5 1337.5Q505 1442 666 1442Q743 1442 805 1423L770 1227H721L702 1341Q673 1362 618 1362Q557 1362 522.0 1309.5Q487 1257 457 1096L428 940H637L623 856H414Z" fill="#000" stroke="#000" stroke-width="40" transform="matrix(0.00375,0,0.00073,-0.00357,142.532,234.445)"/>
<path d="M627 80 901 53V0H180V53L455 80V1174L184 1077V1130L575 1352H627Z" fill="#000" stroke="#000" stroke-width="40" transform="matrix(0.00333,0,0.00000,-0.00318,146.601,237.000)"/>
<path d="M76 406V559H608V406Z" fill="#000" stroke="#000" stroke-width="40" transform="matrix(0.00432,0,0.00000,-0.00523,151.571,235.023)"/>
<path d="M189 -436H23L248 856H86L94 905L264 944L276 1010Q316 1233 410.5 1337.5Q505 1442 666 1442Q743 1442 805 1423L770 1227H721L702 1341Q673 1362 618 1362Q557 1362 522.0 1309.5Q487 1257 457 1096L428 940H637L623 856H414Z" fill="#000" stroke="#000" stroke-width="40" transform="matrix(0.00375,0,0.00068,-0.00357,154.509,234.445)"/>
<path d="M911 0H90V147L276 316Q455 473 539.0 570.0Q623 667 659.5 770.0Q696 873 696 1006Q696 1136 637.0 1204.0Q578 1272 444 1272Q391 1272 335.0 1257.5Q279 1243 236 1219L201 1055H135V1313Q317 1356 444 1356Q664 1356 774.5 1264.5Q885 1173 885 1006Q885 894 841.5 794.5Q798 695 708.0 596.5Q618 498 410 321Q321 245 221 154H911Z" fill="#000" stroke="#000" stroke-width="40" transform="matrix(0.00426,0,0.00000,-0.00317,158.216,237.000)"/>
<path d="M911 0H90V147L276 316Q455 473 539.0 570.0Q623 667 659.5 770.0Q696 873 696 1006Q696 1136 637.0 1204.0Q578 1272 444 1272Q391 1272 335.0 1257.5Q279 1243 236 1219L201 1055H135V1313Q317 1356 444 1356Q664 1356 774.5 1264.5Q885 1173 885 1006Q885 894 841.5 794.5Q798 695 708.0 596.5Q618 498 410 321Q321 245 221 154H911Z" fill="#000" stroke="#000" stroke-width="40" transform="matrix(0.00353,0,0.00000,-0.00324,225.582,234.400)"/>
<path d="M189 -436H23L248 856H86L94 905L264 944L276 1010Q316 1233 410.5 1337.5Q505 1442 666 1442Q743 1442 805 1423L770 1227H721L702 1341Q673 1362 618 1362Q557 1362 522.0 1309.5Q487 1257 457 1096L428 940H637L623 856H414Z" fill="#000" stroke="#000" stroke-width="40" transform="matrix(0.00375,0,0.00073,-0.00357,228.732,234.445)"/>
<path d="M911 0H90V147L276 316Q455 473 539.0 570.0Q623 667 659.5 770.0Q696 873 696 1006Q696 1136 637.0 1204.0Q578 1272 444 1272Q391 1272 335.0 1257.5Q279 1243 236 1219L201 1055H135V1313Q317 1356 444 1356Q664 1356 774.5 1264.5Q885 1173 885 1006Q885 894 841.5 794.5Q798 695 708.0 596.5Q618 498 410 321Q321 245 221 154H911Z" fill="#000" stroke="#000" stroke-width="40" transform="matrix(0.00426,0,0.00000,-0.00317,232.516,237.000)"/>
<path d="M76 406V559H608V406Z" fill="#000" stroke="#000" stroke-width="40" transform="matrix(0.00432,0,0.00000,-0.00523,237.771,235.023)"/>
<path d="M189 -436H23L248 856H86L94 905L264 944L276 1010Q316 1233 410.5 1337.5Q505 1442 666 1442Q743 1442 805 1423L770 1227H721L702 1341Q673 1362 618 1362Q557 1362 522.0 1309.5Q487 1257 457 1096L428 940H637L623 856H414Z" fill="#000" stroke="#000" stroke-width="40" transform="matrix(0.00375,0,0.00068,-0.00357,240.709,234.445)"/>
<path d="M627 80 901 53V0H180V53L455 80V1174L184 1077V1130L575 1352H627Z" fill="#000" stroke="#000" stroke-width="40" transform="matrix(0.00333,0,0.00000,-0.00318,244.701,237.000)"/>
</g>
<g>
<path d="M189 -436H23L248 856H86L94 905L264 944L276 1010Q316 1233 410.5 1337.5Q505 1442 666 1442Q743 1442 805 1423L770 1227H721L702 1341Q673 1362 618 1362Q557 1362 522.0 1309.5Q487 1257 457 1096L428 940H637L623 856H414Z" fill="#000" transform="matrix(0.00649,0,0.00065,-0.00618,173.136,239.907)"/>
<text x="178.7" y="241.4" font-size="9.5">1</text>
<path d="M189 -436H23L248 856H86L94 905L264 944L276 1010Q316 1233 410.5 1337.5Q505 1442 666 1442Q743 1442 805 1423L770 1227H721L702 1341Q673 1362 618 1362Q557 1362 522.0 1309.5Q487 1257 457 1096L428 940H637L623 856H414Z" fill="#000" transform="matrix(0.00649,0,0.00071,-0.00618,201.859,239.907)"/>
<text x="208.2" y="241.4" font-size="9.5">2</text>
</g>
<text font-size="13.8" x="249.5" y="240" font-style="italic" textLength="7.6" lengthAdjust="spacingAndGlyphs">B</text>
<line x1="258.8" y1="241.6" x2="262.0" y2="229.6" stroke="#000" stroke-width="0.75"/>
<text font-size="14" x="263.3" y="240">2</text>
<text font-size="13.8" x="164.6" y="261.2" textLength="51.5" lengthAdjust="spacingAndGlyphs">frequency</text>
<path d="M189 -436H23L248 856H86L94 905L264 944L276 1010Q316 1233 410.5 1337.5Q505 1442 666 1442Q743 1442 805 1423L770 1227H721L702 1341Q673 1362 618 1362Q557 1362 522.0 1309.5Q487 1257 457 1096L428 940H637L623 856H414Z" fill="#000" transform="matrix(0.00671,0,0.00077,-0.00639,220.783,261.214)"/>
</svg>
</body></html>
